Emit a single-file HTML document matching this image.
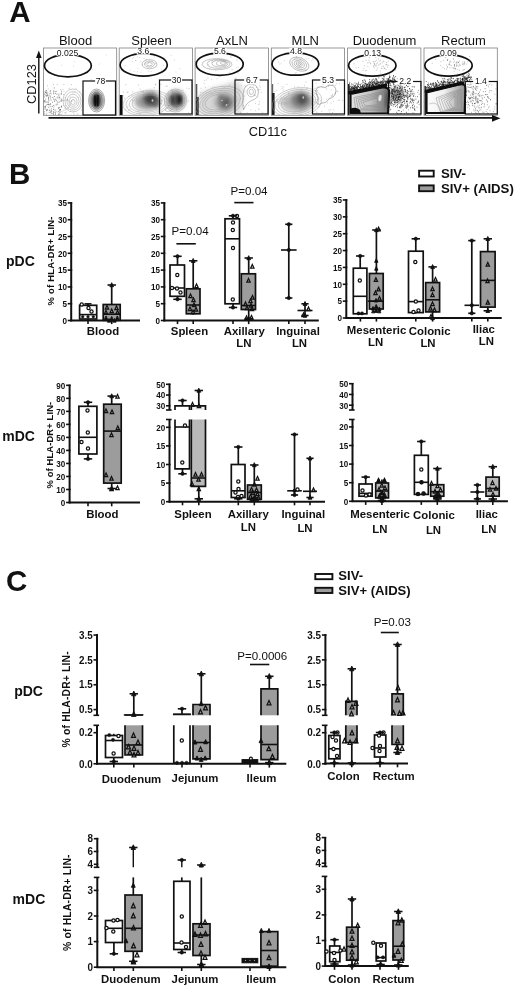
<!DOCTYPE html>
<html><head><meta charset="utf-8"><title>Figure</title>
<style>
html,body{margin:0;padding:0;background:#fff;}
body{width:520px;height:992px;overflow:hidden;font-family:"Liberation Sans",sans-serif;}
svg{display:block;font-family:"Liberation Sans",sans-serif;filter:blur(0.4px);}
</style></head><body>
<svg width="520" height="992" viewBox="0 0 520 992" font-family="Liberation Sans, sans-serif">
<rect width="520" height="992" fill="#fff"/>
<defs><filter id="b1" x="-30%" y="-30%" width="160%" height="160%"><feGaussianBlur stdDeviation="1.6"/></filter><filter id="b2" x="-30%" y="-30%" width="160%" height="160%"><feGaussianBlur stdDeviation="2.6"/></filter><filter id="b05" x="-30%" y="-30%" width="160%" height="160%"><feGaussianBlur stdDeviation="0.5"/></filter></defs>
<text x="9.3" y="21.9" font-size="29.5" font-weight="bold" text-anchor="start" fill="#111" >A</text>
<text x="75.5" y="44.5" font-size="13"  text-anchor="middle" fill="#111" >Blood</text>
<text x="151.5" y="44.5" font-size="13"  text-anchor="middle" fill="#111" >Spleen</text>
<text x="232" y="44.5" font-size="13"  text-anchor="middle" fill="#111" >AxLN</text>
<text x="305.3" y="44.5" font-size="13"  text-anchor="middle" fill="#111" >MLN</text>
<text x="384.5" y="44.5" font-size="13"  text-anchor="middle" fill="#111" >Duodenum</text>
<text x="463.5" y="44.5" font-size="13"  text-anchor="middle" fill="#111" >Rectum</text>
<clipPath id="cp0"><rect x="43.4" y="48" width="73.3" height="67.3"/></clipPath>
<clipPath id="cp1"><rect x="119.2" y="48" width="73.3" height="67.3"/></clipPath>
<clipPath id="cp2"><rect x="195.1" y="48" width="73.3" height="67.3"/></clipPath>
<clipPath id="cp3"><rect x="271.3" y="48" width="73.3" height="67.3"/></clipPath>
<clipPath id="cp4"><rect x="347.6" y="48" width="73.3" height="67.3"/></clipPath>
<clipPath id="cp5"><rect x="424" y="48" width="73.3" height="67.3"/></clipPath>
<g clip-path="url(#cp0)">
<path d="M49.8 93.8h0.01M55.7 91.8h0.01M53.6 99.1h0.01M45.0 102.7h0.01M44.7 100.8h0.01M45.3 92.3h0.01M51.6 110.7h0.01M46.2 95.6h0.01M55.3 113.7h0.01M54.4 99.9h0.01M61.6 91.2h0.01M59.5 97.2h0.01M46.6 92.9h0.01M49.6 110.4h0.01M47.3 104.5h0.01M55.5 99.3h0.01M53.9 91.6h0.01M45.1 95.1h0.01M56.2 100.7h0.01M49.7 104.6h0.01M52.2 97.5h0.01M58.3 107.5h0.01M48.4 104.4h0.01M53.5 111.9h0.01M57.1 97.2h0.01M61.6 93.0h0.01M51.5 108.9h0.01M46.7 102.2h0.01M44.7 106.7h0.01M57.8 104.3h0.01M59.8 97.8h0.01M56.5 104.9h0.01M54.4 101.4h0.01M59.1 113.6h0.01M52.5 106.6h0.01M45.1 107.5h0.01M55.6 114.8h0.01M58.8 97.1h0.01M50.9 106.7h0.01M44.4 101.5h0.01M47.0 92.9h0.01M45.1 109.2h0.01M46.3 96.2h0.01M51.0 111.8h0.01M45.5 101.2h0.01M53.9 112.1h0.01M58.7 111.6h0.01M49.0 100.4h0.01M50.5 112.1h0.01M61.2 93.8h0.01M47.2 95.8h0.01M48.2 102.1h0.01M54.6 96.6h0.01M44.1 100.5h0.01M50.6 104.2h0.01M61.2 107.3h0.01M53.3 105.4h0.01M56.2 91.3h0.01M60.2 109.5h0.01M59.7 109.9h0.01M51.1 100.0h0.01M45.9 105.9h0.01M45.1 91.7h0.01M47.8 94.1h0.01M50.1 91.3h0.01M44.0 93.8h0.01M45.8 99.1h0.01M44.5 111.9h0.01M55.1 93.7h0.01M48.5 98.7h0.01M50.6 93.1h0.01M59.3 114.8h0.01M52.4 102.1h0.01M45.5 92.6h0.01M50.2 96.6h0.01M58.9 94.0h0.01M44.4 113.8h0.01M53.5 93.7h0.01M53.8 90.7h0.01M53.5 114.5h0.01M59.5 107.4h0.01M48.7 99.2h0.01M47.0 109.3h0.01M53.6 109.5h0.01M49.9 95.6h0.01M58.6 114.6h0.01M59.3 110.2h0.01M58.7 108.5h0.01M48.1 102.9h0.01M50.4 90.7h0.01M44.5 97.0h0.01M48.7 107.3h0.01M61.2 101.2h0.01M60.9 114.7h0.01M61.2 99.1h0.01M48.0 95.7h0.01M47.5 95.1h0.01M55.2 112.5h0.01M59.1 102.0h0.01M55.8 110.0h0.01M45.5 106.5h0.01M60.4 109.6h0.01M57.5 102.0h0.01M47.2 109.7h0.01M50.0 110.0h0.01M61.5 99.9h0.01M51.2 113.7h0.01M57.0 94.3h0.01M46.3 93.8h0.01M60.3 110.2h0.01M46.6 110.7h0.01M61.6 106.4h0.01M50.3 103.7h0.01M46.4 90.4h0.01M61.5 106.2h0.01M53.5 113.3h0.01M51.8 111.8h0.01M58.9 95.3h0.01M48.5 97.3h0.01M48.3 104.7h0.01" stroke="#444" stroke-width="0.8" stroke-linecap="round" opacity="0.8" fill="none"/>
<path d="M53.9 97.0h0.01M49.0 112.2h0.01M57.4 98.2h0.01M66.2 112.0h0.01M60.0 112.4h0.01M63.1 100.5h0.01M63.9 84.6h0.01M60.7 89.7h0.01M44.1 108.8h0.01M50.5 98.7h0.01M71.6 101.3h0.01M56.4 100.1h0.01M65.1 108.3h0.01M48.0 101.4h0.01M53.4 92.6h0.01M73.3 99.7h0.01M65.3 107.6h0.01M78.7 97.7h0.01M67.3 99.7h0.01M63.5 105.5h0.01M61.2 100.5h0.01M62.2 113.2h0.01M70.6 111.2h0.01M79.8 92.0h0.01M65.3 113.2h0.01M75.9 88.3h0.01M48.6 97.7h0.01M46.8 91.5h0.01M46.8 104.8h0.01M73.8 111.8h0.01M49.9 106.2h0.01M69.1 88.4h0.01M77.5 114.0h0.01M52.3 113.5h0.01M59.1 99.1h0.01M81.6 109.8h0.01M50.1 97.4h0.01M63.6 94.5h0.01M51.4 93.9h0.01M71.4 84.6h0.01M65.1 97.7h0.01M44.7 94.3h0.01M67.7 99.9h0.01M46.4 114.5h0.01M74.0 114.1h0.01M48.0 92.2h0.01M45.5 108.1h0.01M54.3 88.0h0.01M60.0 112.3h0.01M75.1 92.0h0.01M49.7 112.5h0.01M65.7 105.7h0.01M47.4 85.8h0.01M70.2 97.2h0.01M46.8 113.1h0.01M68.1 108.9h0.01M47.2 110.5h0.01M46.5 110.7h0.01M61.2 94.5h0.01M65.0 112.7h0.01M54.2 88.0h0.01M64.0 91.4h0.01M48.2 89.0h0.01M45.9 90.3h0.01M55.9 93.5h0.01M72.9 93.0h0.01M63.0 89.5h0.01M57.2 84.6h0.01M53.5 84.5h0.01M71.9 101.1h0.01" stroke="#555" stroke-width="0.7" stroke-linecap="round" opacity="0.6" fill="none"/>
<path d="M61.4 65.3h0.01M106.1 55.0h0.01M99.1 64.1h0.01M79.7 75.4h0.01M73.6 66.2h0.01M91.3 79.5h0.01M70.6 75.3h0.01M92.4 69.8h0.01M74.3 61.7h0.01M53.3 55.6h0.01" stroke="#666" stroke-width="0.6" stroke-linecap="round" opacity="0.5" fill="none"/>
<ellipse cx="73" cy="100.5" rx="10" ry="11.5" fill="none" stroke="#9a9a9a" stroke-width="0.5" opacity="1" transform="rotate(0 73 100.5)"/>
<ellipse cx="73" cy="100.9" rx="8" ry="9.3" fill="none" stroke="#9a9a9a" stroke-width="0.5" opacity="1" transform="rotate(0 73 100.9)"/>
<ellipse cx="73" cy="101.3" rx="6" ry="7" fill="none" stroke="#9a9a9a" stroke-width="0.5" opacity="1" transform="rotate(0 73 101.3)"/>
<ellipse cx="73" cy="101.7" rx="4" ry="4.7" fill="none" stroke="#9a9a9a" stroke-width="0.5" opacity="1" transform="rotate(0 73 101.7)"/>
<ellipse cx="73" cy="102.1" rx="2.2" ry="2.4" fill="none" stroke="#9a9a9a" stroke-width="0.5" opacity="1" transform="rotate(0 73 102.1)"/>
<ellipse cx="62" cy="106" rx="9" ry="5" fill="none" stroke="#aaa" stroke-width="0.4" opacity="1" transform="rotate(-25 62 106)"/>
<ellipse cx="96.6" cy="100.5" rx="5.5" ry="8.5" fill="#555" opacity="0.95" filter="url(#b1)" transform="rotate(0 96.6 100.5)"/>
<ellipse cx="96.4" cy="100.5" rx="2.6" ry="6.5" fill="#111" opacity="0.95" filter="url(#b1)" transform="rotate(0 96.4 100.5)"/>
<ellipse cx="96.6" cy="100.5" rx="8" ry="11.5" fill="none" stroke="#555" stroke-width="0.5" opacity="1" transform="rotate(0 96.6 100.5)"/>
<ellipse cx="96.6" cy="100.5" rx="6.8" ry="10" fill="none" stroke="#555" stroke-width="0.5" opacity="1" transform="rotate(0 96.6 100.5)"/>
<ellipse cx="96.6" cy="100.5" rx="5.6" ry="8.6" fill="none" stroke="#555" stroke-width="0.5" opacity="1" transform="rotate(0 96.6 100.5)"/>
<path d="M94.8 95.5 L95.2 106 M98 95 L97.8 106" stroke="#000" stroke-width="1.3" opacity="0.8" filter="url(#b05)"/>
</g>
<g clip-path="url(#cp1)">
<rect x="119.6" y="95" width="3" height="20" fill="#111" filter="url(#b05)"/>
<path d="M127.7 107.0h0.01M140.1 89.1h0.01M128.7 110.1h0.01M181.3 104.8h0.01M141.9 91.5h0.01M142.6 98.2h0.01M133.6 97.8h0.01M140.6 113.8h0.01M188.2 101.0h0.01M139.4 113.9h0.01M143.7 95.1h0.01M123.1 95.8h0.01M154.8 99.6h0.01M136.5 99.6h0.01M123.3 92.2h0.01M129.0 96.4h0.01M125.8 84.7h0.01M143.4 91.2h0.01M162.2 100.4h0.01M173.3 104.4h0.01M171.0 111.3h0.01M149.1 94.1h0.01M189.0 88.6h0.01M171.5 103.9h0.01M125.9 109.9h0.01M182.8 103.4h0.01M172.2 109.2h0.01M132.3 100.2h0.01M156.8 109.9h0.01M176.9 109.6h0.01M162.1 111.7h0.01M168.8 105.5h0.01M138.4 85.0h0.01M131.9 95.2h0.01M130.0 109.9h0.01M160.4 103.5h0.01M165.0 105.1h0.01M155.8 84.1h0.01M176.4 107.2h0.01M156.7 100.6h0.01M167.2 86.0h0.01M172.4 91.8h0.01M128.0 92.2h0.01M171.9 90.4h0.01M172.6 114.2h0.01M156.1 95.9h0.01M155.1 105.2h0.01M174.4 103.1h0.01M166.1 86.4h0.01M132.9 91.9h0.01M172.8 93.4h0.01M161.0 84.4h0.01M127.1 92.3h0.01M168.0 105.5h0.01M168.3 93.0h0.01M157.6 98.4h0.01M154.2 87.7h0.01M182.9 90.2h0.01M188.5 113.0h0.01M124.2 98.2h0.01M177.9 114.0h0.01M153.1 92.3h0.01M137.1 113.3h0.01M137.1 102.0h0.01M132.5 100.2h0.01M186.8 88.1h0.01M178.0 99.8h0.01M182.4 105.8h0.01M138.5 111.8h0.01M155.6 84.8h0.01" stroke="#555" stroke-width="0.7" stroke-linecap="round" opacity="0.6" fill="none"/>
<path d="M125.2 65.8h0.01M149.8 60.5h0.01M132.7 61.6h0.01M142.4 75.5h0.01M125.1 73.0h0.01M171.2 55.4h0.01M176.0 72.0h0.01M174.6 60.1h0.01M145.5 63.0h0.01M179.9 68.5h0.01M144.8 64.0h0.01M140.1 53.4h0.01" stroke="#666" stroke-width="0.6" stroke-linecap="round" opacity="0.5" fill="none"/>
<ellipse cx="146.5" cy="102" rx="12" ry="8" fill="#858585" opacity="0.8" filter="url(#b2)" transform="rotate(0 146.5 102)"/>
<ellipse cx="151" cy="99" rx="7.5" ry="6.5" fill="#333" opacity="0.9" filter="url(#b2)" transform="rotate(0 151 99)"/>
<ellipse cx="156" cy="103" rx="4" ry="5" fill="#555" opacity="0.6" filter="url(#b1)" transform="rotate(0 156 103)"/>
<ellipse cx="152.5" cy="100.5" rx="0.9" ry="1.3" fill="#ddd" opacity="0.8" filter="url(#b05)" transform="rotate(0 152.5 100.5)"/>
<ellipse cx="176" cy="100" rx="8.5" ry="9" fill="#555" opacity="0.95" filter="url(#b2)" transform="rotate(0 176 100)"/>
<ellipse cx="172.5" cy="100" rx="2.6" ry="4" fill="#333" opacity="0.7" filter="url(#b1)" transform="rotate(0 172.5 100)"/>
<ellipse cx="179.3" cy="99.3" rx="2.2" ry="4.6" fill="#0a0a0a" opacity="0.9" filter="url(#b1)" transform="rotate(0 179.3 99.3)"/>
<ellipse cx="147" cy="103" rx="24" ry="12.5" fill="none" stroke="#a0a0a0" stroke-width="0.45" opacity="1" transform="rotate(-6 147 103)"/>
<ellipse cx="147" cy="103" rx="21" ry="11" fill="none" stroke="#a0a0a0" stroke-width="0.45" opacity="1" transform="rotate(-6 147 103)"/>
<ellipse cx="147" cy="103" rx="18" ry="9.5" fill="none" stroke="#a0a0a0" stroke-width="0.45" opacity="1" transform="rotate(-6 147 103)"/>
<ellipse cx="147" cy="103" rx="15" ry="8" fill="none" stroke="#a0a0a0" stroke-width="0.45" opacity="1" transform="rotate(-6 147 103)"/>
<ellipse cx="175.5" cy="100.5" rx="11" ry="11.5" fill="none" stroke="#909090" stroke-width="0.45" opacity="1" transform="rotate(0 175.5 100.5)"/>
<ellipse cx="175.5" cy="100.5" rx="9.3" ry="9.8" fill="none" stroke="#909090" stroke-width="0.45" opacity="1" transform="rotate(0 175.5 100.5)"/>
<ellipse cx="168" cy="109.5" rx="3" ry="2" fill="none" stroke="#999" stroke-width="0.45" opacity="1" transform="rotate(0 168 109.5)"/>
<ellipse cx="149.5" cy="64.2" rx="7.5" ry="4.6" fill="none" stroke="#8a8a8a" stroke-width="0.5" opacity="1" transform="rotate(0 149.5 64.2)"/>
<ellipse cx="149.5" cy="64.2" rx="5" ry="3" fill="none" stroke="#8a8a8a" stroke-width="0.5" opacity="1" transform="rotate(0 149.5 64.2)"/>
<ellipse cx="149.5" cy="64.2" rx="2.8" ry="1.7" fill="none" stroke="#8a8a8a" stroke-width="0.5" opacity="1" transform="rotate(0 149.5 64.2)"/>
<path d="M130.1 70.2h0.01M137.4 71.9h0.01M136.0 60.5h0.01M146.4 59.2h0.01M140.9 72.3h0.01M161.4 69.8h0.01M151.2 71.5h0.01M163.6 65.3h0.01M154.8 56.8h0.01M155.3 63.7h0.01M156.1 67.0h0.01M137.4 56.8h0.01M163.1 58.2h0.01M144.9 61.8h0.01M137.9 68.6h0.01M165.1 60.4h0.01M152.2 61.1h0.01M148.3 62.7h0.01M132.7 58.7h0.01M134.3 71.4h0.01M145.9 59.7h0.01M162.3 72.9h0.01M144.0 58.4h0.01M133.7 57.5h0.01M139.7 57.5h0.01M135.6 60.4h0.01M148.8 71.1h0.01M156.0 63.0h0.01M142.6 64.9h0.01M141.1 61.7h0.01" stroke="#777" stroke-width="0.6" stroke-linecap="round" opacity="0.6" fill="none"/>
</g>
<g clip-path="url(#cp2)">
<rect x="195.7" y="84" width="1.6" height="31" fill="#555" filter="url(#b05)"/>
<rect x="195.9" y="97" width="3" height="18" fill="#222" filter="url(#b05)"/>
<path d="M201.0 88.3h0.01M259.9 82.7h0.01M229.7 101.3h0.01M253.1 86.0h0.01M214.6 87.2h0.01M223.0 94.5h0.01M259.0 109.4h0.01M253.7 78.8h0.01M199.1 104.3h0.01M255.2 95.5h0.01M235.2 78.0h0.01M222.4 112.3h0.01M250.7 109.7h0.01M260.2 87.2h0.01M204.1 83.7h0.01M231.0 103.2h0.01M258.2 104.7h0.01M239.1 106.3h0.01M226.7 98.4h0.01M199.6 106.9h0.01M212.1 112.0h0.01M239.0 89.2h0.01M205.3 87.3h0.01M238.4 103.8h0.01M204.3 80.6h0.01M231.1 99.6h0.01M222.2 86.3h0.01M236.1 78.4h0.01M216.6 95.0h0.01M259.3 101.8h0.01M254.4 95.6h0.01M212.3 87.1h0.01M259.4 104.1h0.01M217.0 78.8h0.01M229.4 103.0h0.01M224.3 87.5h0.01M240.4 112.2h0.01M211.7 79.3h0.01M219.0 93.6h0.01M241.4 85.3h0.01M248.8 105.3h0.01M229.8 85.6h0.01M260.0 89.5h0.01M250.3 86.5h0.01M211.4 106.1h0.01M216.2 113.2h0.01M229.2 84.9h0.01M211.5 93.4h0.01M240.2 113.1h0.01M206.5 92.6h0.01M210.8 114.0h0.01M206.2 79.9h0.01M200.9 92.6h0.01M255.4 110.7h0.01M244.6 114.9h0.01M257.6 90.2h0.01M209.1 112.6h0.01M245.5 79.2h0.01M240.2 92.0h0.01M221.3 90.3h0.01M208.0 78.1h0.01M215.2 91.0h0.01M259.1 82.6h0.01M259.7 85.7h0.01M220.2 108.4h0.01M250.4 94.0h0.01M200.2 95.5h0.01M221.2 112.0h0.01M209.5 91.5h0.01M255.3 79.1h0.01" stroke="#666" stroke-width="0.7" stroke-linecap="round" opacity="0.55" fill="none"/>
<path d="M199 93 L236 81 Q244 84 243 100 L240 114.5 L199 114.5 Z" fill="#bdbdbd" opacity="0.6" filter="url(#b2)"/>
<ellipse cx="224.5" cy="102" rx="9.5" ry="8.5" fill="#858585" opacity="0.8" filter="url(#b2)" transform="rotate(0 224.5 102)"/>
<ellipse cx="226" cy="103" rx="5.5" ry="6" fill="#505050" opacity="0.8" filter="url(#b2)" transform="rotate(0 226 103)"/>
<ellipse cx="221" cy="97" rx="2.5" ry="2.5" fill="#666" opacity="0.6" filter="url(#b1)" transform="rotate(0 221 97)"/>
<ellipse cx="226.5" cy="105" rx="0.9" ry="0.9" fill="#ddd" opacity="0.8" filter="url(#b05)" transform="rotate(0 226.5 105)"/>
<ellipse cx="222" cy="100.5" rx="0.8" ry="0.8" fill="#ddd" opacity="0.7" filter="url(#b05)" transform="rotate(0 222 100.5)"/>
<ellipse cx="219.0" cy="102" rx="25" ry="15" fill="none" stroke="#9a9a9a" stroke-width="0.45" opacity="1" transform="rotate(-14 219.0 102)"/>
<ellipse cx="218.7" cy="102" rx="22" ry="13" fill="none" stroke="#9a9a9a" stroke-width="0.45" opacity="1" transform="rotate(-14 218.7 102)"/>
<ellipse cx="218.4" cy="102" rx="19" ry="11.2" fill="none" stroke="#9a9a9a" stroke-width="0.45" opacity="1" transform="rotate(-14 218.4 102)"/>
<ellipse cx="218.1" cy="102" rx="16" ry="9.4" fill="none" stroke="#9a9a9a" stroke-width="0.45" opacity="1" transform="rotate(-14 218.1 102)"/>
<ellipse cx="217.8" cy="102" rx="13" ry="7.6" fill="none" stroke="#9a9a9a" stroke-width="0.45" opacity="1" transform="rotate(-14 217.8 102)"/>
<ellipse cx="217.0" cy="64.2" rx="15" ry="5.6" fill="none" stroke="#8a8a8a" stroke-width="0.5" opacity="1" transform="rotate(0 217.0 64.2)"/>
<ellipse cx="218.5" cy="63.900000000000006" rx="11.5" ry="4.5" fill="none" stroke="#8a8a8a" stroke-width="0.5" opacity="1" transform="rotate(0 218.5 63.900000000000006)"/>
<ellipse cx="220.0" cy="63.6" rx="8" ry="3.4" fill="none" stroke="#8a8a8a" stroke-width="0.5" opacity="1" transform="rotate(0 220.0 63.6)"/>
<ellipse cx="221.5" cy="63.300000000000004" rx="5" ry="2.4" fill="none" stroke="#8a8a8a" stroke-width="0.5" opacity="1" transform="rotate(0 221.5 63.300000000000004)"/>
<ellipse cx="223.0" cy="63.0" rx="2.6" ry="1.4" fill="none" stroke="#8a8a8a" stroke-width="0.5" opacity="1" transform="rotate(0 223.0 63.0)"/>
<path d="M215.8 70.6h0.01M230.4 56.7h0.01M200.4 57.1h0.01M236.7 60.6h0.01M229.6 72.2h0.01M212.9 60.9h0.01M238.3 67.1h0.01M209.7 68.9h0.01M212.0 61.0h0.01M199.2 69.6h0.01M236.6 67.4h0.01M237.7 56.4h0.01M208.6 64.6h0.01M238.2 73.2h0.01M214.8 60.5h0.01M216.6 64.9h0.01M237.1 59.3h0.01M231.9 69.3h0.01M232.7 69.9h0.01M223.9 61.9h0.01M212.1 62.5h0.01M231.1 57.4h0.01" stroke="#777" stroke-width="0.6" stroke-linecap="round" opacity="0.6" fill="none"/>
<path d="M243.5 91 Q245 84.5 251 84 Q258 84.5 258.5 92 Q258 99 251.5 100.5 Q246 103 243.5 110 Q242 104 243.5 91Z" stroke="#808080" stroke-width="0.5" fill="none"/>
<ellipse cx="251.3" cy="92" rx="4.2" ry="4.8" fill="none" stroke="#8a8a8a" stroke-width="0.5" opacity="1" transform="rotate(0 251.3 92)"/>
<ellipse cx="251.3" cy="91.8" rx="2.2" ry="2.6" fill="none" stroke="#999" stroke-width="0.5" opacity="1" transform="rotate(0 251.3 91.8)"/>
<path d="M243.5 105.8h0.01M244.9 85.9h0.01M238.9 100.0h0.01M247.1 112.4h0.01M262.7 112.6h0.01M245.4 86.4h0.01M240.7 98.5h0.01M257.9 97.0h0.01M244.6 96.1h0.01M255.4 103.5h0.01M258.9 108.6h0.01M256.6 87.5h0.01M261.5 92.5h0.01M253.9 94.8h0.01M258.7 89.8h0.01M244.9 91.1h0.01" stroke="#666" stroke-width="0.6" stroke-linecap="round" opacity="0.6" fill="none"/>
</g>
<g clip-path="url(#cp3)">
<rect x="271.6" y="84" width="1.6" height="31" fill="#666" filter="url(#b05)"/>
<rect x="271.8" y="93" width="2.8" height="22" fill="#1c1c1c" filter="url(#b05)"/>
<path d="M284.1 110.9h0.01M312.2 91.4h0.01M300.1 114.7h0.01M307.5 88.1h0.01M327.4 102.9h0.01M339.4 83.6h0.01M305.3 108.7h0.01M329.5 112.0h0.01M276.7 90.3h0.01M281.9 86.6h0.01M338.2 100.4h0.01M335.4 93.0h0.01M331.2 95.7h0.01M291.2 107.2h0.01M336.4 83.7h0.01M313.3 101.7h0.01M288.4 92.9h0.01M283.3 87.1h0.01M290.8 101.0h0.01M317.0 87.1h0.01M274.8 91.5h0.01M318.8 86.5h0.01M294.6 87.1h0.01M326.5 99.2h0.01M278.2 83.5h0.01M300.1 99.3h0.01M316.2 83.2h0.01M284.8 104.3h0.01M301.0 89.9h0.01M294.3 113.4h0.01M294.6 99.8h0.01M297.6 94.6h0.01M331.0 114.9h0.01M298.0 86.9h0.01M322.1 87.1h0.01M274.4 111.6h0.01M302.0 108.7h0.01M300.8 110.9h0.01M304.4 85.7h0.01M275.0 99.3h0.01M316.3 111.8h0.01M279.9 101.8h0.01M298.5 97.7h0.01M283.6 89.9h0.01M308.4 112.4h0.01M281.2 97.2h0.01M327.1 113.8h0.01M287.0 84.4h0.01M336.2 114.1h0.01M305.9 81.9h0.01M335.1 93.6h0.01M333.7 101.7h0.01M328.4 85.6h0.01M325.9 87.8h0.01M300.7 109.6h0.01M328.7 86.4h0.01M288.4 94.0h0.01M308.2 93.4h0.01M282.1 88.6h0.01M321.8 111.4h0.01M276.7 99.7h0.01M324.0 81.3h0.01M329.3 84.1h0.01M313.6 99.3h0.01M315.4 90.7h0.01M301.7 100.4h0.01M302.1 103.1h0.01M303.5 95.3h0.01M275.5 101.7h0.01M306.3 88.2h0.01" stroke="#666" stroke-width="0.7" stroke-linecap="round" opacity="0.55" fill="none"/>
<ellipse cx="297" cy="103" rx="16" ry="9.5" fill="#a8a8a8" opacity="0.8" filter="url(#b2)" transform="rotate(0 297 103)"/>
<ellipse cx="301" cy="100" rx="10" ry="8.5" fill="#6c6c6c" opacity="0.85" filter="url(#b2)" transform="rotate(0 301 100)"/>
<ellipse cx="302" cy="99" rx="4.5" ry="5" fill="#484848" opacity="0.8" filter="url(#b1)" transform="rotate(0 302 99)"/>
<ellipse cx="303.3" cy="97.5" rx="0.9" ry="1.2" fill="#ddd" opacity="0.8" filter="url(#b05)" transform="rotate(0 303.3 97.5)"/>
<ellipse cx="297" cy="102.5" rx="25" ry="14.5" fill="none" stroke="#9c9c9c" stroke-width="0.45" opacity="1" transform="rotate(-10 297 102.5)"/>
<ellipse cx="297" cy="102.5" rx="22" ry="12.8" fill="none" stroke="#9c9c9c" stroke-width="0.45" opacity="1" transform="rotate(-10 297 102.5)"/>
<ellipse cx="297" cy="102.5" rx="19" ry="11" fill="none" stroke="#9c9c9c" stroke-width="0.45" opacity="1" transform="rotate(-10 297 102.5)"/>
<ellipse cx="297" cy="102.5" rx="16" ry="9.2" fill="none" stroke="#9c9c9c" stroke-width="0.45" opacity="1" transform="rotate(-10 297 102.5)"/>
<ellipse cx="284" cy="101" rx="7" ry="3" fill="none" stroke="#aaa" stroke-width="0.45" opacity="1" transform="rotate(-5 284 101)"/>
<ellipse cx="284" cy="101" rx="4" ry="1.6" fill="none" stroke="#aaa" stroke-width="0.45" opacity="1" transform="rotate(-5 284 101)"/>
<ellipse cx="299.3" cy="64.2" rx="10" ry="6.4" fill="none" stroke="#888" stroke-width="0.5" opacity="1" transform="rotate(22 299.3 64.2)"/>
<ellipse cx="299.3" cy="64.2" rx="7.6" ry="4.9" fill="none" stroke="#888" stroke-width="0.5" opacity="1" transform="rotate(22 299.3 64.2)"/>
<ellipse cx="299.3" cy="64.2" rx="5.3" ry="3.4" fill="none" stroke="#888" stroke-width="0.5" opacity="1" transform="rotate(22 299.3 64.2)"/>
<ellipse cx="299.3" cy="64.2" rx="3.2" ry="2" fill="none" stroke="#888" stroke-width="0.5" opacity="1" transform="rotate(22 299.3 64.2)"/>
<ellipse cx="299.3" cy="64.2" rx="1.4" ry="0.9" fill="none" stroke="#888" stroke-width="0.5" opacity="1" transform="rotate(22 299.3 64.2)"/>
<path d="M306.5 70.0h0.01M294.3 59.2h0.01M294.9 57.9h0.01M281.1 63.8h0.01M279.7 64.0h0.01M296.4 56.7h0.01M301.5 57.5h0.01M305.3 70.0h0.01M296.5 57.0h0.01M296.2 62.8h0.01M314.0 58.5h0.01M310.3 73.9h0.01M305.3 70.7h0.01M283.7 73.7h0.01M295.7 73.2h0.01M312.6 59.0h0.01M307.5 72.8h0.01M278.6 62.3h0.01M306.2 58.9h0.01M311.9 60.9h0.01M308.6 58.6h0.01M296.1 72.6h0.01M284.3 60.7h0.01M296.2 61.7h0.01M277.5 59.3h0.01M282.4 72.9h0.01" stroke="#777" stroke-width="0.6" stroke-linecap="round" opacity="0.6" fill="none"/>
<path d="M317 88 Q321 85.5 325 87.5 Q328 84 333 85.5 Q337 88 335.5 93 Q334 98 329 98.5 Q327 103 322 103 Q319 106 316.5 103 Q319.5 98 317 95 Q314.5 91 317 88Z" stroke="#777" stroke-width="0.55" fill="none"/>
<path d="M333.7 110.0h0.01M318.9 106.8h0.01M317.3 99.4h0.01M332.5 94.4h0.01M339.3 100.1h0.01M330.8 109.6h0.01M317.0 112.8h0.01M332.3 95.4h0.01M337.1 91.7h0.01M342.7 100.7h0.01M324.4 106.2h0.01M326.8 89.1h0.01M335.6 85.4h0.01M337.8 91.4h0.01M332.5 112.5h0.01M331.0 103.2h0.01M323.1 84.1h0.01M315.0 88.3h0.01M331.9 96.5h0.01M328.9 110.0h0.01M317.8 90.6h0.01M332.9 84.6h0.01M314.1 94.3h0.01M317.1 94.4h0.01M320.5 100.9h0.01M331.1 89.9h0.01" stroke="#555" stroke-width="0.6" stroke-linecap="round" opacity="0.65" fill="none"/>
</g>
<g clip-path="url(#cp4)">
<linearGradient id="gd" x1="0" x2="1" y1="0" y2="0"><stop offset="0" stop-color="#e6e6e6"/><stop offset="0.5" stop-color="#c4c4c4"/><stop offset="0.82" stop-color="#8e8e8e"/><stop offset="1" stop-color="#6a6a6a"/></linearGradient>
<ellipse cx="396.5" cy="94.5" rx="6.5" ry="6.5" fill="#222" opacity="0.55" filter="url(#b2)" transform="rotate(0 396.5 94.5)"/>
<path d="M391.5 89.9h0.01M410.4 107.8h0.01M398.2 99.5h0.01M407.4 101.2h0.01M407.6 86.7h0.01M392.9 98.7h0.01M409.5 96.2h0.01M391.1 93.0h0.01M392.7 89.5h0.01M410.0 91.1h0.01M398.2 110.6h0.01M407.5 97.9h0.01M393.1 98.4h0.01M411.0 99.9h0.01M408.1 96.2h0.01M402.1 94.1h0.01M401.4 104.6h0.01M399.9 91.5h0.01M395.5 101.0h0.01M414.0 99.9h0.01M400.6 84.6h0.01M413.4 96.0h0.01M397.7 87.7h0.01M397.5 87.8h0.01M398.6 98.8h0.01M398.2 97.5h0.01M391.2 105.5h0.01M392.8 82.8h0.01M396.5 90.2h0.01M389.9 93.0h0.01M400.3 87.2h0.01M396.9 105.5h0.01M403.5 94.4h0.01M399.0 94.7h0.01M397.6 100.6h0.01M397.3 78.7h0.01M397.8 89.3h0.01M403.2 91.2h0.01M399.2 110.7h0.01M389.6 87.6h0.01M392.9 82.4h0.01M391.8 92.9h0.01M400.6 105.0h0.01M413.5 102.7h0.01M399.1 96.8h0.01M412.4 105.5h0.01M395.5 98.7h0.01M400.3 95.9h0.01M394.0 86.2h0.01M393.7 84.7h0.01M407.8 99.3h0.01M388.4 105.3h0.01M405.1 82.1h0.01M412.7 101.2h0.01M414.5 86.9h0.01M402.2 98.5h0.01M399.6 96.7h0.01M406.4 85.0h0.01M388.1 85.7h0.01M393.5 91.3h0.01M400.9 97.4h0.01M398.3 90.8h0.01M394.5 102.2h0.01M404.1 96.2h0.01M395.4 106.4h0.01M393.2 100.0h0.01M407.2 93.6h0.01M404.6 87.7h0.01M406.1 96.9h0.01M390.9 104.5h0.01M392.6 94.3h0.01M400.3 93.2h0.01M400.1 91.6h0.01M403.4 95.5h0.01M407.3 95.7h0.01M401.7 103.0h0.01M389.3 106.3h0.01M396.7 112.3h0.01M396.8 100.3h0.01M395.1 87.7h0.01M406.8 101.8h0.01M410.3 101.5h0.01M393.4 83.9h0.01M392.8 90.8h0.01M391.5 99.6h0.01M400.6 93.6h0.01M399.4 94.5h0.01M399.7 100.8h0.01M405.7 90.7h0.01M398.9 103.2h0.01M398.2 85.4h0.01M393.9 100.6h0.01M406.6 106.7h0.01M391.1 85.7h0.01M402.2 102.1h0.01M399.5 86.4h0.01M404.3 101.0h0.01M402.4 92.1h0.01M400.4 101.0h0.01M393.5 82.6h0.01M400.6 98.9h0.01M398.1 101.7h0.01M393.3 94.9h0.01M395.6 99.5h0.01M410.8 93.7h0.01M414.4 106.2h0.01M404.3 99.6h0.01M412.2 94.2h0.01M397.1 88.1h0.01M401.8 104.9h0.01M402.3 98.5h0.01M396.4 96.7h0.01M394.7 87.8h0.01M392.0 89.7h0.01M404.8 102.9h0.01M405.1 91.4h0.01M392.9 97.9h0.01M395.1 81.3h0.01M399.9 84.8h0.01M405.2 87.1h0.01M392.5 89.5h0.01M393.7 104.6h0.01M404.8 99.7h0.01M400.6 84.7h0.01M393.8 91.6h0.01M390.2 99.1h0.01M392.1 90.5h0.01M389.6 81.1h0.01M402.8 104.8h0.01M399.4 88.7h0.01M407.7 97.6h0.01M405.4 105.8h0.01M407.0 92.4h0.01M406.4 100.9h0.01M402.6 88.0h0.01M401.0 105.8h0.01M414.6 109.5h0.01M396.3 97.4h0.01M396.8 102.5h0.01M406.3 96.1h0.01M394.2 99.9h0.01M400.1 106.9h0.01M407.1 92.3h0.01M400.8 107.8h0.01M393.7 98.5h0.01M407.5 104.3h0.01M402.1 86.3h0.01M401.1 113.3h0.01M391.1 103.5h0.01M404.2 83.8h0.01M391.5 96.7h0.01M394.1 94.4h0.01M401.8 89.8h0.01M401.7 91.0h0.01M393.6 99.3h0.01M393.4 97.5h0.01M410.8 95.7h0.01M396.8 100.6h0.01M395.1 103.1h0.01M393.9 89.9h0.01M412.2 89.5h0.01M412.1 100.1h0.01M409.6 88.7h0.01M407.6 105.7h0.01M397.1 94.6h0.01M417.6 96.7h0.01M394.6 91.1h0.01M401.6 97.8h0.01M399.4 107.6h0.01M395.4 98.8h0.01M409.7 88.5h0.01M406.3 108.3h0.01M389.7 82.6h0.01M401.6 82.5h0.01M402.0 105.7h0.01M392.1 93.6h0.01M398.4 99.3h0.01M395.2 95.6h0.01M393.6 96.3h0.01M388.6 95.9h0.01M413.3 96.1h0.01M390.2 83.9h0.01M392.1 100.7h0.01M401.1 94.8h0.01M390.6 87.9h0.01M408.8 97.2h0.01M390.4 80.7h0.01M388.8 95.0h0.01M399.7 94.4h0.01M395.8 85.9h0.01M389.6 107.3h0.01M391.9 101.4h0.01M400.1 102.8h0.01M389.0 99.7h0.01M401.1 90.3h0.01M401.8 89.2h0.01M391.6 95.4h0.01M390.0 85.3h0.01M394.6 100.8h0.01M394.8 104.4h0.01M388.7 86.3h0.01M410.4 98.3h0.01M405.6 89.7h0.01M404.4 97.3h0.01M403.2 95.7h0.01M407.7 91.0h0.01M390.3 85.2h0.01M407.3 90.3h0.01M389.7 88.9h0.01M394.4 86.6h0.01M395.7 91.1h0.01M393.6 88.8h0.01M398.3 92.3h0.01M398.9 97.2h0.01M400.7 80.2h0.01M393.7 89.9h0.01M404.2 84.5h0.01M392.3 93.4h0.01M395.3 102.4h0.01M394.5 102.3h0.01M407.8 98.5h0.01M401.9 96.4h0.01M401.9 87.0h0.01M405.6 91.8h0.01M405.9 96.1h0.01M407.0 94.5h0.01M394.8 97.2h0.01M394.6 91.7h0.01M398.8 96.5h0.01M410.1 95.8h0.01M413.0 108.1h0.01M411.7 102.9h0.01M399.0 96.5h0.01M396.9 90.4h0.01M397.5 91.0h0.01M411.1 99.2h0.01M394.4 82.1h0.01M397.6 92.6h0.01M389.3 87.5h0.01M397.5 113.6h0.01M397.8 94.5h0.01M409.6 96.4h0.01M399.3 92.9h0.01M393.2 106.0h0.01M406.0 107.5h0.01M395.2 95.7h0.01M391.0 102.3h0.01M406.8 105.4h0.01M390.5 103.1h0.01M392.3 90.2h0.01M411.2 91.3h0.01M391.9 93.1h0.01M418.1 102.5h0.01M393.7 82.9h0.01M392.6 103.8h0.01M412.9 93.6h0.01M392.5 91.9h0.01M389.3 102.9h0.01M400.3 90.2h0.01M404.3 95.6h0.01M388.6 99.9h0.01M404.7 82.1h0.01M412.6 99.0h0.01M404.1 82.5h0.01M392.2 93.1h0.01M406.6 85.3h0.01M390.9 81.3h0.01M396.1 97.9h0.01M402.1 106.6h0.01M403.3 93.4h0.01M388.6 88.9h0.01M392.7 96.5h0.01M397.6 107.2h0.01M400.3 88.0h0.01M410.4 102.1h0.01M398.8 90.5h0.01M405.3 89.9h0.01M400.0 99.7h0.01M403.2 105.4h0.01M391.3 102.4h0.01M390.1 100.4h0.01M399.4 97.2h0.01M405.7 95.4h0.01M406.9 101.6h0.01M399.1 91.5h0.01M392.0 91.8h0.01M396.4 95.3h0.01M404.2 89.5h0.01M392.3 93.3h0.01M399.5 88.2h0.01M410.9 91.6h0.01M406.6 79.1h0.01M397.9 97.4h0.01M399.5 99.7h0.01M400.2 96.6h0.01M400.5 94.1h0.01M391.4 91.4h0.01M412.8 107.6h0.01M397.5 104.5h0.01M394.1 89.4h0.01M393.5 96.8h0.01M398.4 97.4h0.01M397.7 102.0h0.01M412.2 86.8h0.01M399.3 93.6h0.01M400.9 84.8h0.01M402.2 96.8h0.01M398.6 78.9h0.01M395.0 90.2h0.01M403.6 99.3h0.01M397.8 99.1h0.01M393.2 96.0h0.01M398.3 99.4h0.01M397.4 94.5h0.01M396.9 91.0h0.01M415.9 99.1h0.01M401.4 111.5h0.01M409.2 84.6h0.01M403.6 101.4h0.01M413.1 104.7h0.01M404.2 87.3h0.01M391.0 97.4h0.01M402.0 88.3h0.01M394.9 92.7h0.01M398.5 97.9h0.01M395.7 86.8h0.01M407.9 106.7h0.01M397.2 102.7h0.01M401.6 100.1h0.01M401.9 90.2h0.01M402.6 102.6h0.01M390.8 109.3h0.01M414.7 108.3h0.01M413.9 100.7h0.01M395.3 91.3h0.01" stroke="#1a1a1a" stroke-width="0.84" stroke-linecap="round" opacity="0.9" fill="none"/>
<path d="M371.4 86.1h0.01M358.5 86.8h0.01M366.1 76.4h0.01M392.5 82.0h0.01M353.6 88.5h0.01M351.7 83.9h0.01M383.1 82.1h0.01M349.8 82.3h0.01M386.9 82.8h0.01M349.1 89.5h0.01M388.1 81.5h0.01M369.5 86.7h0.01M391.9 82.0h0.01M355.5 85.7h0.01M357.5 88.7h0.01M358.2 84.2h0.01M352.7 86.5h0.01M372.3 84.3h0.01M361.9 87.3h0.01M382.3 80.4h0.01M387.1 81.8h0.01M352.1 89.3h0.01M383.4 80.1h0.01M351.6 87.7h0.01M387.1 80.6h0.01M389.6 77.9h0.01M372.2 79.6h0.01M371.4 86.0h0.01M390.0 82.9h0.01M388.1 81.5h0.01M366.3 86.1h0.01M377.0 83.0h0.01M349.2 87.5h0.01M373.2 85.9h0.01M354.7 88.6h0.01M389.7 77.5h0.01M364.1 87.4h0.01M384.3 81.2h0.01M351.9 84.9h0.01M372.3 80.9h0.01M373.1 82.5h0.01M350.0 90.1h0.01M394.5 82.0h0.01M353.8 88.1h0.01M360.8 88.4h0.01M353.5 89.4h0.01M381.9 84.5h0.01M377.2 85.0h0.01M376.1 80.9h0.01M353.8 89.4h0.01M389.9 83.0h0.01M354.8 88.9h0.01M372.2 84.0h0.01M354.7 89.9h0.01M368.1 84.6h0.01M389.5 80.0h0.01M355.9 84.9h0.01M356.7 87.2h0.01M387.8 80.6h0.01M368.8 86.0h0.01M388.5 80.3h0.01M393.2 82.0h0.01M385.5 82.8h0.01M364.7 86.0h0.01M369.5 81.3h0.01M391.9 82.1h0.01M387.3 83.1h0.01M373.3 85.5h0.01M394.0 80.2h0.01M368.8 86.2h0.01M378.7 82.7h0.01M352.3 87.4h0.01M369.4 86.4h0.01M355.6 89.7h0.01M394.6 81.0h0.01M378.8 77.9h0.01M387.0 78.7h0.01M350.6 86.3h0.01M379.2 84.7h0.01M361.9 83.7h0.01M374.5 82.2h0.01M360.8 86.7h0.01M373.5 79.1h0.01M362.5 85.2h0.01M363.4 87.3h0.01M376.9 84.4h0.01M393.9 79.9h0.01M370.9 86.6h0.01M374.1 85.2h0.01M355.2 88.5h0.01M362.8 86.2h0.01M360.4 87.3h0.01M353.1 84.3h0.01M377.7 83.8h0.01M375.8 84.6h0.01M382.4 82.9h0.01M370.7 82.6h0.01M371.0 85.5h0.01M363.6 88.1h0.01M373.1 84.1h0.01M367.0 87.1h0.01M365.6 87.6h0.01M389.5 82.9h0.01M372.1 82.5h0.01M362.4 85.8h0.01M385.3 83.8h0.01M356.5 83.7h0.01M369.7 84.4h0.01M351.9 87.8h0.01M383.6 82.2h0.01M354.1 88.8h0.01M383.7 76.4h0.01M356.3 88.1h0.01M380.7 82.4h0.01M378.0 82.0h0.01M373.3 81.5h0.01M383.7 84.1h0.01M371.3 81.3h0.01M385.9 82.1h0.01M355.0 83.0h0.01M389.9 77.7h0.01M376.5 85.6h0.01M372.4 82.5h0.01M368.6 86.3h0.01M385.8 80.9h0.01M366.8 84.4h0.01M370.3 82.0h0.01M362.8 87.0h0.01M367.4 84.5h0.01M364.1 87.0h0.01M386.0 81.7h0.01M369.9 84.0h0.01M357.7 88.7h0.01M376.0 84.1h0.01M376.3 79.6h0.01M364.2 84.3h0.01M388.6 79.2h0.01M358.6 82.3h0.01M369.0 86.8h0.01M351.2 90.3h0.01M375.6 78.7h0.01M385.4 83.9h0.01M374.3 82.3h0.01M373.3 86.3h0.01M381.2 82.5h0.01M377.0 83.7h0.01M365.5 83.3h0.01M373.7 84.7h0.01M353.7 87.8h0.01M375.4 83.6h0.01M376.0 79.8h0.01M371.9 81.0h0.01M369.7 79.5h0.01M365.1 80.4h0.01M373.9 85.4h0.01M363.9 86.3h0.01M395.0 80.4h0.01M354.2 86.6h0.01M391.0 80.8h0.01M395.5 76.6h0.01M390.7 81.4h0.01M362.6 87.5h0.01M373.0 84.3h0.01M357.6 89.3h0.01M378.6 82.9h0.01M395.7 80.3h0.01M378.9 82.1h0.01M386.0 83.0h0.01M363.4 88.1h0.01M363.3 88.0h0.01M388.6 79.3h0.01M358.2 86.8h0.01M372.4 84.1h0.01M379.4 84.4h0.01M374.0 82.0h0.01M368.3 87.2h0.01M354.7 86.9h0.01M354.0 85.5h0.01M353.7 88.2h0.01M387.7 80.2h0.01M377.8 85.1h0.01M349.6 89.8h0.01M385.2 81.8h0.01M365.6 83.3h0.01M357.0 89.3h0.01M391.5 81.4h0.01M376.4 83.7h0.01M367.1 84.7h0.01M351.6 87.2h0.01M394.1 79.7h0.01M369.7 85.3h0.01M351.1 88.9h0.01M392.7 80.9h0.01M391.2 80.7h0.01M387.3 82.2h0.01M394.1 78.3h0.01M372.3 84.3h0.01M367.3 86.7h0.01M382.8 84.0h0.01M390.1 80.4h0.01M371.8 86.0h0.01M357.2 87.1h0.01M365.8 84.5h0.01M362.7 80.5h0.01M375.4 83.0h0.01M367.1 84.9h0.01M368.0 85.9h0.01M387.8 82.9h0.01M365.5 87.8h0.01M362.3 86.4h0.01M360.1 84.3h0.01M365.0 86.9h0.01M356.3 89.2h0.01M361.7 87.2h0.01M388.2 81.1h0.01M388.3 81.0h0.01M386.8 82.1h0.01M383.0 82.0h0.01M366.7 85.5h0.01M393.7 81.9h0.01M372.7 86.0h0.01M355.2 86.3h0.01M382.2 84.2h0.01M376.6 78.9h0.01M366.3 87.6h0.01M359.0 84.7h0.01M390.0 80.4h0.01M374.5 83.4h0.01M361.7 88.1h0.01M379.9 82.0h0.01M375.7 84.7h0.01M353.0 87.3h0.01M357.3 87.7h0.01M380.1 82.8h0.01M354.1 87.2h0.01M372.5 85.3h0.01M363.0 85.8h0.01M359.6 87.9h0.01M354.9 89.3h0.01M368.0 84.8h0.01M391.7 81.8h0.01M389.5 76.7h0.01M355.2 89.7h0.01M380.9 84.1h0.01M380.2 83.1h0.01M380.0 82.4h0.01M381.9 84.6h0.01M365.5 81.6h0.01M378.6 84.7h0.01M391.9 81.3h0.01M383.5 84.2h0.01M350.9 89.7h0.01M356.6 88.7h0.01M366.9 85.0h0.01M350.8 88.9h0.01M357.4 85.1h0.01M388.5 78.8h0.01M361.0 86.5h0.01M369.4 85.9h0.01M349.0 88.3h0.01M388.2 83.1h0.01M351.0 88.0h0.01M389.1 82.5h0.01M360.5 88.2h0.01M354.2 89.4h0.01M392.0 80.6h0.01M384.2 80.0h0.01M367.5 84.9h0.01M384.1 83.0h0.01M353.2 87.9h0.01M393.5 75.9h0.01M381.5 81.4h0.01M383.7 82.2h0.01M370.3 83.0h0.01M351.6 89.4h0.01M373.1 83.2h0.01M392.6 78.9h0.01M351.1 86.7h0.01M382.0 83.8h0.01M374.7 83.7h0.01M394.6 79.7h0.01M360.7 85.7h0.01M351.8 88.4h0.01M358.5 86.6h0.01M363.6 84.9h0.01M380.5 81.2h0.01M360.2 88.7h0.01M369.9 83.1h0.01M393.0 81.0h0.01M390.6 80.9h0.01M355.7 87.1h0.01M387.3 82.5h0.01M374.8 85.9h0.01M380.3 83.1h0.01M377.1 80.3h0.01M388.1 82.2h0.01M354.4 89.2h0.01M358.7 86.2h0.01M351.8 90.0h0.01M382.0 82.6h0.01M370.1 84.8h0.01M371.0 84.9h0.01M366.1 87.1h0.01M349.5 89.8h0.01M395.6 82.1h0.01M382.7 83.2h0.01M395.1 80.8h0.01M372.0 86.0h0.01M369.4 85.6h0.01M349.4 87.2h0.01M392.2 80.0h0.01M393.0 79.0h0.01M379.7 85.1h0.01M355.5 87.3h0.01M350.3 89.8h0.01M362.9 82.3h0.01M357.7 85.3h0.01M392.6 77.9h0.01M356.9 88.2h0.01M383.9 78.4h0.01M364.4 85.7h0.01M364.0 82.6h0.01M366.3 84.8h0.01M388.1 82.5h0.01M360.3 84.8h0.01M378.5 84.3h0.01M387.5 81.7h0.01M393.4 75.8h0.01M372.2 84.7h0.01M363.1 88.3h0.01M376.3 81.5h0.01M356.7 87.2h0.01M369.8 85.6h0.01M350.9 90.4h0.01M369.7 85.2h0.01M349.1 86.2h0.01M388.5 80.0h0.01M369.0 82.7h0.01M362.3 86.4h0.01M368.8 83.9h0.01M364.9 83.6h0.01M387.8 81.8h0.01M391.5 81.5h0.01M369.8 84.7h0.01M375.5 84.7h0.01M353.0 88.5h0.01M364.2 79.8h0.01M391.7 80.7h0.01M389.7 75.1h0.01M378.1 84.1h0.01M387.1 79.2h0.01M377.6 83.7h0.01M363.0 81.2h0.01M371.6 83.3h0.01M379.4 84.3h0.01M390.6 80.2h0.01M350.3 88.9h0.01M370.0 82.5h0.01M353.0 88.6h0.01M376.3 83.2h0.01M368.6 83.2h0.01M367.6 86.7h0.01M354.4 87.1h0.01M374.8 80.0h0.01M354.3 88.4h0.01M353.5 88.3h0.01M373.9 86.2h0.01M375.0 82.3h0.01M359.6 87.6h0.01M373.1 85.7h0.01M376.7 82.8h0.01M352.5 88.8h0.01M369.7 84.4h0.01M382.6 81.5h0.01M384.6 76.8h0.01M382.9 78.1h0.01M353.8 88.5h0.01M357.0 86.7h0.01M394.1 77.3h0.01M355.4 87.6h0.01M385.5 81.8h0.01M366.5 86.8h0.01M349.7 89.0h0.01M363.1 87.1h0.01M382.2 78.6h0.01M378.2 82.4h0.01M390.0 76.6h0.01M389.9 80.4h0.01M356.9 89.4h0.01M384.9 81.2h0.01M381.0 84.1h0.01M366.5 86.2h0.01M383.7 79.5h0.01M351.0 89.0h0.01M377.4 82.3h0.01M386.7 81.4h0.01M354.3 85.7h0.01M361.0 86.5h0.01M358.1 83.5h0.01M376.3 83.8h0.01M354.3 88.4h0.01M386.6 83.6h0.01M357.7 86.8h0.01M381.3 83.9h0.01M366.9 83.5h0.01M374.3 81.0h0.01M381.4 82.0h0.01M349.6 83.6h0.01M365.1 85.7h0.01M390.0 80.1h0.01M386.6 81.8h0.01M387.5 83.2h0.01M380.9 82.0h0.01M356.4 87.3h0.01M388.7 78.3h0.01M377.7 81.5h0.01M352.6 89.2h0.01M391.0 81.0h0.01M376.7 83.8h0.01M366.0 87.2h0.01" stroke="#1a1a1a" stroke-width="0.84" stroke-linecap="round" opacity="0.9" fill="none"/>
<path d="M404.5 101.3h0.01M402.0 94.6h0.01M390.2 101.4h0.01M400.3 84.6h0.01M404.2 113.6h0.01M391.4 88.4h0.01M410.8 92.2h0.01M398.5 99.0h0.01M398.1 101.1h0.01M406.4 112.7h0.01M420.8 85.0h0.01M407.4 107.1h0.01M417.0 107.2h0.01M409.6 103.0h0.01M401.3 92.4h0.01M414.7 110.2h0.01M419.1 104.4h0.01M399.4 106.9h0.01M412.9 99.3h0.01M409.7 94.5h0.01M407.1 96.2h0.01M391.9 94.1h0.01M400.0 113.7h0.01M404.9 95.0h0.01M397.5 91.0h0.01M400.8 88.1h0.01M390.2 110.1h0.01M404.0 97.4h0.01M407.6 93.1h0.01M395.2 86.0h0.01M399.3 93.3h0.01M412.5 100.5h0.01M419.1 94.2h0.01M418.6 101.5h0.01M392.5 89.4h0.01M408.0 113.6h0.01M401.1 107.2h0.01M403.3 110.0h0.01M392.1 98.5h0.01M417.9 92.3h0.01M398.0 84.7h0.01M395.1 92.0h0.01M411.8 90.5h0.01M402.4 90.0h0.01M408.7 109.9h0.01M410.1 89.9h0.01M412.8 112.9h0.01M408.6 86.4h0.01M415.1 110.3h0.01M400.6 88.1h0.01M395.8 100.1h0.01M417.1 103.2h0.01M418.6 90.4h0.01M400.1 106.5h0.01M410.1 96.2h0.01M411.0 94.1h0.01M391.8 96.4h0.01M391.4 102.8h0.01M400.4 98.8h0.01M408.5 91.7h0.01M404.4 84.4h0.01M418.7 100.9h0.01M420.6 85.7h0.01M409.0 105.7h0.01M400.2 86.8h0.01M394.8 88.3h0.01M413.8 86.7h0.01M415.2 96.7h0.01M406.7 101.7h0.01M407.2 103.7h0.01M408.6 93.9h0.01M413.0 91.7h0.01M412.1 106.9h0.01M414.1 93.3h0.01M414.0 113.3h0.01M404.0 92.3h0.01M406.2 112.2h0.01M394.1 84.3h0.01M404.7 103.7h0.01M414.0 94.9h0.01" stroke="#333" stroke-width="0.76" stroke-linecap="round" opacity="0.8" fill="none"/>
<path d="M382.2 62.8h0.01M375.2 61.3h0.01M380.3 63.4h0.01M386.0 64.7h0.01M369.0 62.1h0.01M383.9 61.6h0.01M378.7 65.0h0.01M373.3 54.0h0.01M376.3 63.8h0.01M376.3 60.1h0.01M386.7 62.5h0.01M369.0 60.2h0.01M378.5 58.8h0.01M365.3 70.7h0.01M387.7 67.1h0.01M388.2 65.3h0.01M358.7 67.6h0.01M387.0 64.9h0.01M356.1 67.8h0.01M388.2 61.1h0.01M376.2 66.0h0.01M374.2 67.3h0.01M375.8 65.7h0.01M375.8 57.3h0.01M365.4 75.3h0.01M377.7 68.1h0.01M386.0 69.6h0.01M380.4 60.7h0.01M375.2 55.6h0.01M373.2 66.5h0.01M354.0 63.8h0.01M383.0 68.2h0.01M366.0 60.5h0.01M356.8 59.0h0.01M380.2 71.0h0.01M363.9 68.4h0.01M379.1 61.1h0.01M374.3 63.9h0.01M395.7 70.0h0.01M384.5 68.3h0.01M380.0 64.4h0.01M373.2 61.4h0.01M363.1 70.6h0.01M370.7 54.9h0.01M377.6 62.9h0.01M376.7 70.1h0.01M374.0 62.0h0.01M367.7 62.9h0.01M370.7 63.8h0.01M366.7 70.5h0.01M383.4 66.2h0.01M382.0 66.2h0.01M381.6 68.5h0.01M384.8 68.2h0.01M370.1 63.0h0.01M367.9 66.7h0.01M383.1 61.2h0.01M380.7 73.2h0.01M387.0 58.7h0.01M374.1 65.5h0.01M374.7 64.5h0.01M386.5 64.3h0.01M364.3 65.8h0.01M374.1 63.4h0.01M369.5 57.6h0.01M362.9 61.6h0.01" stroke="#555" stroke-width="0.64" stroke-linecap="round" opacity="0.7" fill="none"/>
<rect x="347.8" y="84" width="1.8" height="31" fill="#222" filter="url(#b05)"/>
<path d="M350.6 94 L382 87.6 Q389.6 86.4 389.2 93 L388 113.4 L350.6 113.4 Z" fill="url(#gd)" stroke="#111" stroke-width="2" stroke-linejoin="round" filter="url(#b05)"/>
<path d="M349 92.8 L385.5 85.4" stroke="#111" stroke-width="3.6" stroke-linecap="round" filter="url(#b05)"/>
<path d="M354.0 97.5 L384.0 91.5 L384.5 110.5 L356.0 111.0 Z" fill="none" stroke="#777" stroke-width="0.45"/>
<path d="M356.2 98.7 L382.4 93.1 L382.7 109.1 L358.4 109.7 Z" fill="none" stroke="#777" stroke-width="0.45"/>
<path d="M358.4 99.9 L380.8 94.7 L380.9 107.7 L360.8 108.4 Z" fill="none" stroke="#777" stroke-width="0.45"/>
<path d="M360.6 101.1 L379.2 96.3 L379.1 106.3 L363.2 107.1 Z" fill="none" stroke="#777" stroke-width="0.45"/>
<path d="M362.8 102.3 L377.6 97.9 L377.3 104.9 L365.6 105.8 Z" fill="none" stroke="#777" stroke-width="0.45"/>
<ellipse cx="380" cy="98" rx="1.5" ry="3.2" fill="#f2f2f2" opacity="0.9" filter="url(#b05)" transform="rotate(10 380 98)"/>
<ellipse cx="386.8" cy="100" rx="1.3" ry="9" fill="#333" opacity="0.7" filter="url(#b1)" transform="rotate(2 386.8 100)"/>
<path d="M350.6 108.5 Q356 106.5 360 110 L361 113.6 L350.6 113.6 Z" fill="#111" filter="url(#b05)"/>
</g>
<g clip-path="url(#cp5)">
<linearGradient id="gr" x1="0" x2="1" y1="0" y2="0"><stop offset="0" stop-color="#fdfdfd"/><stop offset="0.45" stop-color="#f0f0f0"/><stop offset="0.8" stop-color="#b5b5b5"/><stop offset="1" stop-color="#8c8c8c"/></linearGradient>
<path d="M466.2 80.2h0.01M440.6 83.7h0.01M445.3 82.7h0.01M443.7 85.5h0.01M444.9 79.0h0.01M426.2 81.5h0.01M454.0 81.6h0.01M454.1 82.6h0.01M443.3 85.9h0.01M431.3 86.8h0.01M464.8 79.8h0.01M428.3 83.1h0.01M457.9 80.8h0.01M451.3 80.4h0.01M440.5 86.6h0.01M460.3 82.1h0.01M465.3 77.0h0.01M471.8 79.3h0.01M436.8 84.1h0.01M443.4 82.4h0.01M458.8 79.6h0.01M454.2 81.3h0.01M457.2 81.0h0.01M451.0 80.5h0.01M436.3 85.9h0.01M467.8 78.9h0.01M447.8 84.4h0.01M447.9 81.4h0.01M436.2 83.4h0.01M450.3 79.1h0.01M450.1 79.1h0.01M437.0 86.6h0.01M433.9 86.7h0.01M455.5 80.3h0.01M464.1 76.6h0.01M428.0 85.8h0.01M443.5 83.3h0.01M431.7 83.9h0.01M433.1 88.4h0.01M442.4 84.9h0.01M462.9 78.3h0.01M430.0 88.6h0.01M444.2 81.2h0.01M446.7 85.2h0.01M448.0 83.5h0.01M432.9 83.6h0.01M457.3 80.4h0.01M436.9 84.8h0.01M443.1 84.5h0.01M426.8 87.3h0.01M435.2 87.0h0.01M434.2 87.7h0.01M459.0 82.1h0.01M437.1 84.8h0.01M464.4 77.7h0.01M465.5 78.7h0.01M435.3 83.2h0.01M454.4 81.0h0.01M443.1 83.0h0.01M442.9 85.3h0.01M458.8 81.7h0.01M455.8 80.2h0.01M463.3 79.7h0.01M452.6 81.6h0.01M468.5 77.4h0.01M458.7 75.1h0.01M443.1 84.7h0.01M429.3 86.9h0.01M460.8 79.4h0.01M448.8 82.3h0.01M467.5 80.5h0.01M453.3 83.1h0.01M447.3 79.6h0.01M445.1 84.3h0.01M447.8 82.5h0.01M448.6 82.8h0.01M449.5 82.6h0.01M460.1 78.2h0.01M444.5 81.4h0.01M451.5 83.0h0.01M461.4 81.7h0.01M436.2 86.2h0.01M429.5 88.6h0.01M430.1 87.8h0.01M460.7 81.2h0.01M457.3 82.5h0.01M458.7 81.5h0.01M457.8 82.6h0.01M445.2 76.4h0.01M463.6 76.1h0.01M466.1 79.2h0.01M449.8 82.4h0.01M426.3 87.5h0.01M438.1 87.1h0.01M440.4 86.5h0.01M451.6 78.2h0.01M449.5 83.8h0.01M440.0 86.3h0.01M465.9 79.0h0.01M437.8 81.7h0.01M435.3 84.4h0.01M443.2 84.9h0.01M447.4 81.2h0.01M442.8 85.9h0.01M462.9 79.5h0.01M451.6 77.8h0.01M428.4 88.0h0.01M444.8 82.3h0.01M452.0 83.0h0.01M462.6 79.5h0.01M439.4 85.6h0.01M453.2 78.5h0.01M446.9 82.2h0.01M466.4 79.5h0.01M428.7 85.5h0.01M428.3 87.8h0.01M465.7 77.3h0.01M434.3 86.3h0.01M468.4 75.3h0.01M448.9 82.8h0.01M457.0 81.8h0.01M435.7 85.6h0.01M464.6 77.1h0.01M435.5 82.5h0.01M430.6 84.6h0.01M469.7 77.1h0.01M445.1 84.4h0.01M467.7 78.5h0.01M457.6 82.2h0.01M458.0 81.8h0.01M427.9 88.3h0.01M436.7 85.4h0.01M452.8 82.3h0.01M433.1 84.9h0.01M467.9 77.8h0.01M433.0 83.3h0.01M462.8 78.6h0.01M427.5 89.3h0.01M443.5 84.7h0.01M451.1 82.6h0.01M430.3 84.3h0.01M445.8 84.4h0.01M457.2 78.6h0.01M431.6 85.0h0.01M468.5 73.2h0.01M450.2 84.3h0.01M439.4 84.1h0.01M448.8 80.7h0.01M468.8 77.4h0.01M465.7 79.0h0.01M453.5 82.5h0.01M432.4 88.2h0.01M438.5 82.6h0.01M436.5 84.0h0.01M468.5 76.3h0.01M470.5 79.0h0.01M441.8 82.3h0.01M428.3 88.0h0.01M441.3 84.4h0.01M460.1 81.5h0.01M434.2 87.5h0.01M429.2 86.8h0.01M451.7 81.0h0.01M462.2 79.6h0.01M453.4 83.0h0.01M449.6 84.4h0.01M430.5 88.0h0.01M452.6 82.7h0.01M442.2 83.2h0.01M433.5 85.1h0.01M433.8 85.7h0.01M464.7 80.2h0.01M466.2 79.1h0.01M430.3 88.8h0.01M466.4 78.2h0.01M450.7 82.0h0.01M431.4 87.0h0.01M450.6 84.0h0.01M449.3 83.3h0.01M444.6 84.3h0.01M435.4 86.3h0.01M466.1 79.3h0.01M449.1 84.3h0.01M469.4 79.8h0.01M448.5 83.9h0.01M457.7 79.0h0.01M436.5 87.6h0.01M438.2 85.5h0.01M427.4 86.8h0.01M439.4 84.7h0.01M467.0 77.2h0.01M436.8 85.6h0.01M453.4 82.7h0.01M428.9 84.7h0.01M437.3 80.5h0.01M427.9 84.6h0.01M454.4 81.5h0.01M441.7 81.3h0.01M463.3 74.9h0.01M426.5 88.3h0.01M469.3 77.5h0.01M430.1 87.5h0.01M437.3 87.0h0.01M433.0 83.9h0.01M441.8 85.1h0.01M436.1 86.2h0.01M441.2 76.3h0.01M462.4 80.1h0.01M448.1 79.7h0.01M467.8 80.4h0.01M460.6 80.8h0.01M454.8 81.9h0.01M464.9 80.8h0.01M459.0 81.2h0.01M442.1 82.3h0.01M456.9 76.3h0.01M460.3 78.4h0.01M469.1 75.9h0.01M467.6 80.3h0.01M462.9 75.9h0.01M453.2 78.7h0.01M462.1 79.5h0.01M466.1 78.5h0.01M450.5 77.1h0.01M469.5 74.2h0.01M462.2 76.5h0.01M437.6 86.2h0.01M435.1 86.1h0.01M447.1 84.9h0.01M467.8 77.0h0.01M457.5 82.1h0.01M462.1 78.9h0.01M462.5 78.7h0.01M464.0 74.8h0.01M444.7 82.0h0.01M464.5 78.9h0.01M441.6 81.7h0.01M462.5 78.5h0.01M426.2 89.4h0.01M431.1 88.8h0.01M463.4 77.9h0.01M447.0 83.2h0.01M441.4 85.8h0.01M464.8 78.4h0.01M454.5 83.2h0.01M438.5 85.9h0.01M458.3 78.5h0.01M463.1 80.0h0.01M431.6 88.4h0.01M463.9 80.6h0.01M434.5 87.1h0.01M442.7 78.7h0.01M436.3 84.5h0.01M467.1 78.0h0.01M444.1 78.4h0.01M449.3 84.7h0.01M471.5 77.5h0.01M433.5 83.0h0.01M450.3 82.6h0.01M469.5 80.1h0.01M446.9 84.4h0.01M442.2 84.2h0.01M430.6 83.3h0.01M449.6 82.7h0.01M443.3 80.3h0.01M456.7 80.2h0.01M429.5 86.9h0.01M470.1 77.7h0.01M442.6 84.0h0.01M443.3 82.5h0.01M450.0 81.6h0.01M448.9 78.9h0.01M442.7 85.2h0.01M464.4 81.1h0.01M457.4 79.8h0.01M460.5 81.0h0.01M467.0 80.0h0.01M427.6 84.7h0.01M441.0 81.7h0.01M467.0 75.0h0.01M432.6 85.1h0.01M428.1 87.5h0.01M444.0 85.8h0.01M438.9 82.8h0.01M461.1 81.0h0.01M445.4 81.9h0.01M471.0 76.5h0.01M457.1 78.5h0.01M443.5 81.4h0.01M457.8 81.7h0.01M438.8 85.0h0.01M464.0 78.0h0.01M462.5 80.7h0.01M449.7 83.2h0.01M466.4 78.2h0.01M433.9 84.0h0.01M440.4 84.3h0.01M443.6 85.1h0.01M470.5 78.0h0.01M440.2 86.3h0.01" stroke="#1a1a1a" stroke-width="0.84" stroke-linecap="round" opacity="0.9" fill="none"/>
<path d="M478.0 94.9h0.01M469.3 105.7h0.01M477.8 101.4h0.01M466.8 102.5h0.01M479.1 95.4h0.01M471.2 101.7h0.01M473.4 86.9h0.01M473.1 89.8h0.01M466.5 95.6h0.01M468.8 91.9h0.01M473.3 94.4h0.01M477.8 86.7h0.01M472.4 103.7h0.01M482.1 101.8h0.01M473.3 83.5h0.01M478.2 102.0h0.01M474.2 88.1h0.01M485.3 91.6h0.01M468.6 104.5h0.01M475.5 89.2h0.01M479.4 113.8h0.01M477.9 103.1h0.01M480.6 100.7h0.01M467.8 86.7h0.01M479.9 107.9h0.01M473.2 86.4h0.01M486.7 85.5h0.01M481.5 107.3h0.01M469.8 85.1h0.01M472.5 100.3h0.01M472.2 103.2h0.01M473.6 100.9h0.01M475.4 89.0h0.01M472.0 93.7h0.01M476.7 90.2h0.01M484.3 97.3h0.01M477.1 102.5h0.01M481.1 100.5h0.01M487.5 101.2h0.01M477.4 101.1h0.01M468.0 91.0h0.01M467.9 107.2h0.01M475.8 112.7h0.01M476.9 113.6h0.01M476.6 86.6h0.01M486.6 100.0h0.01M482.3 98.9h0.01M470.4 98.5h0.01M466.0 92.4h0.01M487.4 96.6h0.01M479.9 95.1h0.01M476.1 96.7h0.01M468.8 97.7h0.01M470.7 87.4h0.01M470.2 101.9h0.01M467.7 101.2h0.01M477.5 110.8h0.01M477.0 110.3h0.01M475.1 103.7h0.01M486.1 94.5h0.01M490.0 90.5h0.01M470.8 82.9h0.01M478.0 99.3h0.01M488.9 98.5h0.01M471.0 84.5h0.01M472.4 105.4h0.01M478.8 107.9h0.01M479.8 96.6h0.01M477.8 98.5h0.01M476.0 87.7h0.01M476.0 99.6h0.01M480.9 109.8h0.01M485.1 88.6h0.01M475.7 100.1h0.01M474.5 103.6h0.01M490.4 99.6h0.01M481.5 95.8h0.01M472.1 88.2h0.01M473.9 98.1h0.01M475.4 108.6h0.01M472.2 97.8h0.01M479.8 83.2h0.01M470.7 97.6h0.01M480.6 89.9h0.01M479.4 100.4h0.01M474.6 103.5h0.01M479.5 92.1h0.01M481.5 104.3h0.01M476.7 101.3h0.01M470.2 98.2h0.01M472.6 94.0h0.01M467.1 84.4h0.01M473.7 110.0h0.01M469.8 87.5h0.01M484.0 112.3h0.01M470.7 95.1h0.01M474.1 105.9h0.01M476.4 98.0h0.01M487.3 94.6h0.01M475.5 97.7h0.01M475.3 110.2h0.01M483.3 91.6h0.01M478.5 93.6h0.01M473.9 98.4h0.01M473.2 92.8h0.01M485.4 94.6h0.01M478.6 112.1h0.01M478.0 106.2h0.01M484.1 106.8h0.01M486.7 84.2h0.01M488.6 97.2h0.01M475.4 98.4h0.01M466.6 94.9h0.01M472.2 97.7h0.01M472.9 95.0h0.01M480.0 82.6h0.01M469.1 98.2h0.01M469.8 92.0h0.01M469.5 98.9h0.01M482.9 95.3h0.01M470.9 100.2h0.01M475.1 93.6h0.01M468.4 102.7h0.01M473.4 91.9h0.01" stroke="#333" stroke-width="0.76" stroke-linecap="round" opacity="0.8" fill="none"/>
<path d="M489.8 84.2h0.01M468.3 87.4h0.01M487.5 102.0h0.01M482.1 97.7h0.01M478.6 102.3h0.01M486.1 111.5h0.01M488.7 107.9h0.01M494.3 109.1h0.01M488.2 84.9h0.01M487.1 109.5h0.01M479.4 110.3h0.01M471.6 112.3h0.01M479.7 105.2h0.01M473.8 93.0h0.01M476.8 93.7h0.01M468.9 97.3h0.01M496.4 103.6h0.01M494.9 106.9h0.01M491.9 113.8h0.01M489.3 92.2h0.01M473.7 96.4h0.01M466.6 90.9h0.01M493.5 111.6h0.01M476.2 107.1h0.01M490.0 110.7h0.01M490.6 100.0h0.01M469.3 108.8h0.01M475.7 102.8h0.01M477.4 100.1h0.01M495.9 88.8h0.01M482.5 103.5h0.01M482.7 112.1h0.01M478.6 111.4h0.01M487.4 113.0h0.01M468.8 90.4h0.01M474.9 111.2h0.01M466.4 91.8h0.01M488.2 113.7h0.01M471.5 97.1h0.01M487.3 104.7h0.01M489.1 106.6h0.01M473.7 91.7h0.01M466.9 104.7h0.01M472.5 91.8h0.01M495.9 103.3h0.01M484.3 103.7h0.01M484.5 104.8h0.01M475.4 85.9h0.01M468.1 84.4h0.01M477.2 88.3h0.01M469.5 98.8h0.01M496.1 104.6h0.01M474.5 107.1h0.01M471.5 87.0h0.01M475.4 96.3h0.01M487.4 97.3h0.01M488.6 86.8h0.01M494.9 94.3h0.01M491.8 84.9h0.01M491.7 90.8h0.01" stroke="#444" stroke-width="0.72" stroke-linecap="round" opacity="0.7" fill="none"/>
<path d="M463.9 58.3h0.01M450.5 61.2h0.01M459.8 64.2h0.01M458.4 62.7h0.01M447.5 59.5h0.01M451.0 61.9h0.01M456.5 65.4h0.01M462.8 63.6h0.01M447.3 59.8h0.01M454.6 65.4h0.01M469.8 71.5h0.01M444.6 68.8h0.01M464.2 69.4h0.01M453.9 67.8h0.01M449.7 63.7h0.01M454.2 71.1h0.01M452.1 67.8h0.01M454.6 61.2h0.01M456.2 66.6h0.01M447.6 66.5h0.01M447.6 60.5h0.01M456.0 63.1h0.01M445.2 57.5h0.01M454.2 65.0h0.01M449.9 64.7h0.01M440.3 65.6h0.01M457.7 65.1h0.01M448.5 64.3h0.01M455.2 68.3h0.01M456.5 65.0h0.01M447.5 67.4h0.01M464.6 62.0h0.01M459.7 65.2h0.01M453.6 58.9h0.01M469.8 56.5h0.01M456.7 62.5h0.01M464.3 62.3h0.01M454.4 66.4h0.01M458.1 61.9h0.01M460.1 65.6h0.01M462.9 62.0h0.01M453.6 62.4h0.01M446.5 65.0h0.01M457.7 69.7h0.01M451.1 65.5h0.01M464.3 63.5h0.01M454.6 64.5h0.01M447.8 60.1h0.01M464.0 64.7h0.01M453.3 59.0h0.01M455.1 68.7h0.01M443.7 60.4h0.01M464.0 69.7h0.01M467.9 61.8h0.01M459.4 61.0h0.01M458.7 62.5h0.01M455.8 69.3h0.01M457.0 63.0h0.01M454.5 65.1h0.01M449.4 64.8h0.01M459.4 70.2h0.01M435.5 59.3h0.01M442.9 67.5h0.01M455.1 68.5h0.01M432.2 63.3h0.01M449.5 62.1h0.01M457.0 61.7h0.01M463.9 64.0h0.01M457.4 74.1h0.01M450.0 67.7h0.01M446.6 69.0h0.01M462.6 64.6h0.01M462.9 70.4h0.01M466.3 64.0h0.01M453.5 68.4h0.01M440.9 61.6h0.01M458.3 66.3h0.01" stroke="#555" stroke-width="0.64" stroke-linecap="round" opacity="0.7" fill="none"/>
<rect x="424.3" y="86" width="1.8" height="29" fill="#333" filter="url(#b05)"/>
<path d="M426.6 92.5 L460 84.4 Q465.8 83.4 465.4 88.5 L464.6 113 L426.6 113 Z" fill="url(#gr)" stroke="#111" stroke-width="2" stroke-linejoin="round" filter="url(#b05)"/>
<path d="M426 91.3 L463 82.9" stroke="#111" stroke-width="3.2" stroke-linecap="round" filter="url(#b05)"/>
<path d="M436.0 98.0 Q448.0 93 461.0 89.0 L461.5 111.0 L440.0 111.5 Z" fill="none" stroke="#808080" stroke-width="0.45"/>
<path d="M438.6 98.8 Q449.2 94 459.8 90.4 L460.2 110.2 L442.6 110.8 Z" fill="none" stroke="#808080" stroke-width="0.45"/>
<path d="M441.2 99.6 Q450.4 95 458.6 91.8 L458.9 109.4 L445.2 110.1 Z" fill="none" stroke="#808080" stroke-width="0.45"/>
<path d="M443.8 100.4 Q451.6 96 457.4 93.2 L457.6 108.6 L447.8 109.4 Z" fill="none" stroke="#808080" stroke-width="0.45"/>
<path d="M446.4 101.2 Q452.8 97 456.2 94.6 L456.3 107.8 L450.4 108.7 Z" fill="none" stroke="#808080" stroke-width="0.45"/>
<path d="M449.0 102.0 Q454.0 98 455.0 96.0 L455.0 107.0 L453.0 108.0 Z" fill="none" stroke="#808080" stroke-width="0.45"/>
<path d="M429 104 Q436 101 440 108 L441 112" fill="none" stroke="#999" stroke-width="0.45"/>
</g>
<rect x="43.4" y="48" width="73.30" height="67.30" fill="none" stroke="#808080" stroke-width="0.8"/>
<rect x="119.2" y="48" width="73.30" height="67.30" fill="none" stroke="#808080" stroke-width="0.8"/>
<rect x="195.1" y="48" width="73.30" height="67.30" fill="none" stroke="#808080" stroke-width="0.8"/>
<rect x="271.3" y="48" width="73.30" height="67.30" fill="none" stroke="#808080" stroke-width="0.8"/>
<rect x="347.6" y="48" width="73.30" height="67.30" fill="none" stroke="#808080" stroke-width="0.8"/>
<rect x="424" y="48" width="73.30" height="67.30" fill="none" stroke="#808080" stroke-width="0.8"/>
<ellipse cx="67.9" cy="65.7" rx="23.4" ry="11.1" fill="none" stroke="#111" stroke-width="1.7"/>
<ellipse cx="143.7" cy="64.9" rx="23.6" ry="11.2" fill="none" stroke="#111" stroke-width="1.7"/>
<ellipse cx="219.7" cy="64.2" rx="23.5" ry="11.1" fill="none" stroke="#111" stroke-width="1.7"/>
<ellipse cx="295.4" cy="64" rx="23.4" ry="11.2" fill="none" stroke="#111" stroke-width="1.7"/>
<ellipse cx="372.3" cy="65.5" rx="23.7" ry="10.6" fill="none" stroke="#111" stroke-width="1.7"/>
<ellipse cx="448.5" cy="65.5" rx="23.7" ry="10.6" fill="none" stroke="#111" stroke-width="1.7"/>
<rect x="83" y="81" width="32.50" height="34.00" fill="none" stroke="#111" stroke-width="1.2"/>
<rect x="159.5" y="80" width="32.50" height="34.00" fill="none" stroke="#111" stroke-width="1.2"/>
<rect x="235" y="80" width="33.00" height="34.00" fill="none" stroke="#111" stroke-width="1.2"/>
<rect x="312.5" y="80" width="32.00" height="34.00" fill="none" stroke="#111" stroke-width="1.2"/>
<rect x="388.5" y="81.5" width="32.50" height="32.50" fill="none" stroke="#111" stroke-width="1.2"/>
<rect x="465.3" y="81.5" width="32.00" height="32.50" fill="none" stroke="#111" stroke-width="1.2"/>
<rect x="56.5" y="49.300000000000004" width="22.0" height="6.8" fill="#fff"/>
<text x="67.5" y="55.6" font-size="8.6"  text-anchor="middle" fill="#111" >0.025</text>
<rect x="136.70000000000002" y="47.900000000000006" width="13.200000000000001" height="6.8" fill="#fff"/>
<text x="143.3" y="54.2" font-size="8.6"  text-anchor="middle" fill="#111" >3.6</text>
<rect x="213.3" y="48.0" width="13.200000000000001" height="6.8" fill="#fff"/>
<text x="219.9" y="54.3" font-size="8.6"  text-anchor="middle" fill="#111" >5.6</text>
<rect x="289.4" y="47.7" width="13.200000000000001" height="6.8" fill="#fff"/>
<text x="296" y="54" font-size="8.6"  text-anchor="middle" fill="#111" >4.8</text>
<rect x="363.8" y="49.6" width="17.6" height="6.8" fill="#fff"/>
<text x="372.6" y="55.9" font-size="8.6"  text-anchor="middle" fill="#111" >0.13</text>
<rect x="439.59999999999997" y="49.6" width="17.6" height="6.8" fill="#fff"/>
<text x="448.4" y="55.9" font-size="8.6"  text-anchor="middle" fill="#111" >0.09</text>
<rect x="95.1" y="76.8" width="10.8" height="8" fill="#fff"/>
<text x="100.5" y="83.8" font-size="8.6"  text-anchor="middle" fill="#111" >78</text>
<rect x="171.2" y="75.7" width="10.8" height="8" fill="#fff"/>
<text x="176.6" y="82.7" font-size="8.6"  text-anchor="middle" fill="#111" >30</text>
<rect x="244.15" y="76.2" width="15.500000000000002" height="8" fill="#fff"/>
<text x="251.9" y="83.2" font-size="8.6"  text-anchor="middle" fill="#111" >6.7</text>
<rect x="320.35" y="76.1" width="15.500000000000002" height="8" fill="#fff"/>
<text x="328.1" y="83.1" font-size="8.6"  text-anchor="middle" fill="#111" >5.3</text>
<rect x="397.55" y="76.7" width="15.500000000000002" height="8" fill="#fff"/>
<text x="405.3" y="83.7" font-size="8.6"  text-anchor="middle" fill="#111" >2.2</text>
<rect x="473.15" y="76.5" width="15.500000000000002" height="8" fill="#fff"/>
<text x="480.9" y="83.5" font-size="8.6"  text-anchor="middle" fill="#111" >1.4</text>
<line x1="38.8" y1="113.5" x2="38.8" y2="54" stroke="#111" stroke-width="1.4" />
<path d="M38.8 50.5 L36 58 L41.6 58 Z" fill="#111"/>
<line x1="50" y1="120.4" x2="493" y2="120.4" stroke="#b0b0b0" stroke-width="1.8" filter="url(#b05)"/>
<line x1="48.5" y1="117.9" x2="494" y2="117.9" stroke="#111" stroke-width="1.7" />
<path d="M500.5 118.3 L492 114.9 L492 121.7 Z" fill="#111"/>
<text transform="translate(35.5,84) rotate(-90)" font-size="12.8" text-anchor="middle" fill="#111">CD123</text>
<text x="267.8" y="136" font-size="12.8"  text-anchor="middle" fill="#111" >CD11c</text>
<text x="8.9" y="183.6" font-size="29.5" font-weight="bold" text-anchor="start" fill="#111" >B</text>
<text x="6" y="265.7" font-size="14" font-weight="bold" text-anchor="start" fill="#111" >pDC</text>
<text x="2.2" y="441.4" font-size="14" font-weight="bold" text-anchor="start" fill="#111" >mDC</text>
<rect x="419.1" y="170.7" width="14.60" height="5.80" fill="#fff" stroke="#111" stroke-width="1.9"/>
<rect x="419.1" y="185.4" width="14.60" height="5.80" fill="#9c9c9c" stroke="#111" stroke-width="1.9"/>
<text x="440.9" y="177.9" font-size="13.2" font-weight="bold" text-anchor="start" fill="#111" >SIV-</text>
<text x="440.9" y="193.4" font-size="13.2" font-weight="bold" text-anchor="start" fill="#111" >SIV+ (AIDS)</text>
<text transform="translate(53.6,261.0) rotate(-90)" font-size="9.4" font-weight="bold" text-anchor="middle" textLength="89.0" lengthAdjust="spacing" fill="#111">% of HLA-DR+ LIN-</text>
<line x1="71.2" y1="202.4" x2="71.2" y2="321.3" stroke="#111" stroke-width="2.0" />
<line x1="67.7" y1="320.5" x2="72.2" y2="320.5" stroke="#111" stroke-width="1.6" />
<text transform="translate(66.9,323.812) scale(0.88,1)" font-size="9.2" font-weight="bold" text-anchor="end" fill="#111" >0</text>
<line x1="67.7" y1="303.7" x2="72.2" y2="303.7" stroke="#111" stroke-width="1.6" />
<text transform="translate(66.9,307.012) scale(0.88,1)" font-size="9.2" font-weight="bold" text-anchor="end" fill="#111" >5</text>
<line x1="67.7" y1="286.9" x2="72.2" y2="286.9" stroke="#111" stroke-width="1.6" />
<text transform="translate(66.9,290.212) scale(0.88,1)" font-size="9.2" font-weight="bold" text-anchor="end" fill="#111" >10</text>
<line x1="67.7" y1="270.1" x2="72.2" y2="270.1" stroke="#111" stroke-width="1.6" />
<text transform="translate(66.9,273.41200000000003) scale(0.88,1)" font-size="9.2" font-weight="bold" text-anchor="end" fill="#111" >15</text>
<line x1="67.7" y1="253.3" x2="72.2" y2="253.3" stroke="#111" stroke-width="1.6" />
<text transform="translate(66.9,256.612) scale(0.88,1)" font-size="9.2" font-weight="bold" text-anchor="end" fill="#111" >20</text>
<line x1="67.7" y1="236.5" x2="72.2" y2="236.5" stroke="#111" stroke-width="1.6" />
<text transform="translate(66.9,239.812) scale(0.88,1)" font-size="9.2" font-weight="bold" text-anchor="end" fill="#111" >25</text>
<line x1="67.7" y1="219.7" x2="72.2" y2="219.7" stroke="#111" stroke-width="1.6" />
<text transform="translate(66.9,223.012) scale(0.88,1)" font-size="9.2" font-weight="bold" text-anchor="end" fill="#111" >30</text>
<line x1="67.7" y1="202.89999999999998" x2="72.2" y2="202.89999999999998" stroke="#111" stroke-width="1.6" />
<text transform="translate(66.9,206.212) scale(0.88,1)" font-size="9.2" font-weight="bold" text-anchor="end" fill="#111" >35</text>
<line x1="70.2" y1="320.5" x2="140" y2="320.5" stroke="#111" stroke-width="2.0" />
<line x1="88" y1="320.5" x2="88" y2="324.1" stroke="#111" stroke-width="1.6" />
<line x1="111.7" y1="320.5" x2="111.7" y2="324.1" stroke="#111" stroke-width="1.6" />
<line x1="88" y1="304" x2="88" y2="305.3" stroke="#111" stroke-width="1.7" />
<line x1="88" y1="319" x2="88" y2="320.3" stroke="#111" stroke-width="1.7" />
<rect x="79.6" y="305.3" width="17.10" height="13.70" fill="#fff" stroke="#111" stroke-width="1.7"/>
<line x1="79.6" y1="314.6" x2="96.7" y2="314.6" stroke="#111" stroke-width="1.6" />
<circle cx="81.70" cy="304.50" r="1.6" fill="#fff" stroke="#111" stroke-width="1.25"/>
<circle cx="88.50" cy="308.00" r="1.6" fill="#fff" stroke="#111" stroke-width="1.25"/>
<circle cx="91.50" cy="311.50" r="1.6" fill="#fff" stroke="#111" stroke-width="1.25"/>
<line x1="84.5" y1="303.8" x2="91.5" y2="303.8" stroke="#111" stroke-width="1.5" />
<circle cx="82.70" cy="316.80" r="1.3" fill="#111" stroke="#111" stroke-width="0.5"/>
<circle cx="88.00" cy="316.80" r="1.3" fill="#111" stroke="#111" stroke-width="0.5"/>
<circle cx="93.30" cy="316.80" r="1.3" fill="#111" stroke="#111" stroke-width="0.5"/>
<line x1="111.7" y1="285" x2="111.7" y2="304.5" stroke="#111" stroke-width="1.7" />
<line x1="111.7" y1="320.3" x2="111.7" y2="321.5" stroke="#111" stroke-width="1.7" />
<rect x="103.2" y="304.5" width="17.00" height="15.80" fill="#9c9c9c" stroke="#111" stroke-width="1.7"/>
<line x1="103.2" y1="314.2" x2="120.2" y2="314.2" stroke="#111" stroke-width="1.6" />
<path d="M107.00 305.43 L108.66 309.03 L105.34 309.03 Z" fill="none" stroke="#111" stroke-width="1.25" stroke-linejoin="miter"/>
<path d="M116.50 305.93 L118.16 309.53 L114.84 309.53 Z" fill="none" stroke="#111" stroke-width="1.25" stroke-linejoin="miter"/>
<path d="M111.70 308.93 L113.36 312.53 L110.04 312.53 Z" fill="none" stroke="#111" stroke-width="1.25" stroke-linejoin="miter"/>
<path d="M106.00 310.43 L107.66 314.03 L104.34 314.03 Z" fill="none" stroke="#111" stroke-width="1.25" stroke-linejoin="miter"/>
<path d="M117.50 310.43 L119.16 314.03 L115.84 314.03 Z" fill="none" stroke="#111" stroke-width="1.25" stroke-linejoin="miter"/>
<line x1="107.5" y1="285" x2="115.9" y2="285" stroke="#111" stroke-width="1.6" />
<path d="M111.70 282.68 L113.55 286.71 L109.85 286.71 Z" fill="#111" stroke="#111" stroke-width="0.9" stroke-linejoin="miter"/>
<path d="M106.00 315.93 L107.66 319.53 L104.34 319.53 Z" fill="#111" stroke="#111" stroke-width="0.9" stroke-linejoin="miter"/>
<path d="M111.70 316.43 L113.36 320.03 L110.04 320.03 Z" fill="#111" stroke="#111" stroke-width="0.9" stroke-linejoin="miter"/>
<path d="M117.30 315.93 L118.96 319.53 L115.64 319.53 Z" fill="#111" stroke="#111" stroke-width="0.9" stroke-linejoin="miter"/>
<path d="M109.00 318.53 L110.66 322.13 L107.34 322.13 Z" fill="#111" stroke="#111" stroke-width="0.9" stroke-linejoin="miter"/>
<path d="M114.50 318.53 L116.16 322.13 L112.84 322.13 Z" fill="#111" stroke="#111" stroke-width="0.9" stroke-linejoin="miter"/>
<text x="103" y="335" font-size="11.4" font-weight="bold" text-anchor="middle" fill="#111" >Blood</text>
<line x1="164.3" y1="202.4" x2="164.3" y2="321.3" stroke="#111" stroke-width="2.0" />
<line x1="160.8" y1="320.5" x2="165.3" y2="320.5" stroke="#111" stroke-width="1.6" />
<text transform="translate(160.0,323.812) scale(0.88,1)" font-size="9.2" font-weight="bold" text-anchor="end" fill="#111" >0</text>
<line x1="160.8" y1="303.7" x2="165.3" y2="303.7" stroke="#111" stroke-width="1.6" />
<text transform="translate(160.0,307.012) scale(0.88,1)" font-size="9.2" font-weight="bold" text-anchor="end" fill="#111" >5</text>
<line x1="160.8" y1="286.9" x2="165.3" y2="286.9" stroke="#111" stroke-width="1.6" />
<text transform="translate(160.0,290.212) scale(0.88,1)" font-size="9.2" font-weight="bold" text-anchor="end" fill="#111" >10</text>
<line x1="160.8" y1="270.1" x2="165.3" y2="270.1" stroke="#111" stroke-width="1.6" />
<text transform="translate(160.0,273.41200000000003) scale(0.88,1)" font-size="9.2" font-weight="bold" text-anchor="end" fill="#111" >15</text>
<line x1="160.8" y1="253.3" x2="165.3" y2="253.3" stroke="#111" stroke-width="1.6" />
<text transform="translate(160.0,256.612) scale(0.88,1)" font-size="9.2" font-weight="bold" text-anchor="end" fill="#111" >20</text>
<line x1="160.8" y1="236.5" x2="165.3" y2="236.5" stroke="#111" stroke-width="1.6" />
<text transform="translate(160.0,239.812) scale(0.88,1)" font-size="9.2" font-weight="bold" text-anchor="end" fill="#111" >25</text>
<line x1="160.8" y1="219.7" x2="165.3" y2="219.7" stroke="#111" stroke-width="1.6" />
<text transform="translate(160.0,223.012) scale(0.88,1)" font-size="9.2" font-weight="bold" text-anchor="end" fill="#111" >30</text>
<line x1="160.8" y1="202.89999999999998" x2="165.3" y2="202.89999999999998" stroke="#111" stroke-width="1.6" />
<text transform="translate(160.0,206.212) scale(0.88,1)" font-size="9.2" font-weight="bold" text-anchor="end" fill="#111" >35</text>
<line x1="163.3" y1="320.5" x2="318.8" y2="320.5" stroke="#111" stroke-width="2.0" />
<line x1="177.5" y1="320.5" x2="177.5" y2="324.1" stroke="#111" stroke-width="1.6" />
<line x1="193.2" y1="320.5" x2="193.2" y2="324.1" stroke="#111" stroke-width="1.6" />
<line x1="233" y1="320.5" x2="233" y2="324.1" stroke="#111" stroke-width="1.6" />
<line x1="248.7" y1="320.5" x2="248.7" y2="324.1" stroke="#111" stroke-width="1.6" />
<line x1="288.8" y1="320.5" x2="288.8" y2="324.1" stroke="#111" stroke-width="1.6" />
<line x1="305" y1="320.5" x2="305" y2="324.1" stroke="#111" stroke-width="1.6" />
<line x1="177.5" y1="256.3" x2="177.5" y2="265" stroke="#111" stroke-width="1.7" />
<line x1="177.5" y1="296.3" x2="177.5" y2="299.3" stroke="#111" stroke-width="1.7" />
<rect x="170" y="265" width="14.50" height="31.30" fill="#fff" stroke="#111" stroke-width="1.7"/>
<line x1="170" y1="288" x2="184.5" y2="288" stroke="#111" stroke-width="1.6" />
<circle cx="177.30" cy="275.00" r="1.6" fill="#fff" stroke="#111" stroke-width="1.25"/>
<circle cx="172.00" cy="288.00" r="1.6" fill="#fff" stroke="#111" stroke-width="1.25"/>
<circle cx="177.00" cy="288.50" r="1.6" fill="#fff" stroke="#111" stroke-width="1.25"/>
<circle cx="180.50" cy="292.50" r="1.6" fill="#fff" stroke="#111" stroke-width="1.25"/>
<line x1="173.3" y1="256.3" x2="181.7" y2="256.3" stroke="#111" stroke-width="1.6" />
<circle cx="177.50" cy="256.30" r="1.7" fill="#111" stroke="#111" stroke-width="0.6"/>
<line x1="173.3" y1="299.3" x2="181.7" y2="299.3" stroke="#111" stroke-width="1.6" />
<circle cx="177.50" cy="299.30" r="1.7" fill="#111" stroke="#111" stroke-width="0.6"/>
<line x1="193.2" y1="260.8" x2="193.2" y2="288.8" stroke="#111" stroke-width="1.7" />
<line x1="193.2" y1="313.8" x2="193.2" y2="314.5" stroke="#111" stroke-width="1.7" />
<rect x="186.3" y="288.8" width="13.70" height="25.00" fill="#9c9c9c" stroke="#111" stroke-width="1.7"/>
<line x1="186.3" y1="305" x2="200" y2="305" stroke="#111" stroke-width="1.6" />
<path d="M196.50 283.93 L198.16 287.53 L194.84 287.53 Z" fill="none" stroke="#111" stroke-width="1.25" stroke-linejoin="miter"/>
<path d="M190.50 293.93 L192.16 297.53 L188.84 297.53 Z" fill="none" stroke="#111" stroke-width="1.25" stroke-linejoin="miter"/>
<path d="M193.50 297.93 L195.16 301.53 L191.84 301.53 Z" fill="none" stroke="#111" stroke-width="1.25" stroke-linejoin="miter"/>
<path d="M194.00 302.93 L195.66 306.53 L192.34 306.53 Z" fill="none" stroke="#111" stroke-width="1.25" stroke-linejoin="miter"/>
<path d="M190.00 306.93 L191.66 310.53 L188.34 310.53 Z" fill="none" stroke="#111" stroke-width="1.25" stroke-linejoin="miter"/>
<path d="M196.00 307.43 L197.66 311.03 L194.34 311.03 Z" fill="none" stroke="#111" stroke-width="1.25" stroke-linejoin="miter"/>
<path d="M193.00 309.93 L194.66 313.53 L191.34 313.53 Z" fill="none" stroke="#111" stroke-width="1.25" stroke-linejoin="miter"/>
<line x1="189.0" y1="260.8" x2="197.39999999999998" y2="260.8" stroke="#111" stroke-width="1.6" />
<path d="M193.20 258.48 L195.05 262.51 L191.35 262.51 Z" fill="#111" stroke="#111" stroke-width="0.9" stroke-linejoin="miter"/>
<text x="171.6" y="235" font-size="11.6"  text-anchor="start" fill="#111" >P=0.04</text>
<line x1="176.4" y1="243.8" x2="195.8" y2="243.8" stroke="#111" stroke-width="1.6" />
<line x1="233" y1="215.8" x2="233" y2="218.8" stroke="#111" stroke-width="1.7" />
<line x1="233" y1="303.8" x2="233" y2="307.5" stroke="#111" stroke-width="1.7" />
<rect x="225" y="218.8" width="14.50" height="85.00" fill="#fff" stroke="#111" stroke-width="1.7"/>
<line x1="225" y1="238.8" x2="239.5" y2="238.8" stroke="#111" stroke-width="1.6" />
<circle cx="233.00" cy="222.50" r="1.6" fill="#fff" stroke="#111" stroke-width="1.25"/>
<circle cx="232.80" cy="230.00" r="1.6" fill="#fff" stroke="#111" stroke-width="1.25"/>
<circle cx="233.00" cy="248.00" r="1.6" fill="#fff" stroke="#111" stroke-width="1.25"/>
<circle cx="232.80" cy="299.50" r="1.6" fill="#fff" stroke="#111" stroke-width="1.25"/>
<circle cx="237.00" cy="216.00" r="1.6" fill="#fff" stroke="#111" stroke-width="1.25"/>
<line x1="228.8" y1="215.8" x2="237.2" y2="215.8" stroke="#111" stroke-width="1.6" />
<circle cx="233.00" cy="215.80" r="1.7" fill="#111" stroke="#111" stroke-width="0.6"/>
<line x1="228.8" y1="307.5" x2="237.2" y2="307.5" stroke="#111" stroke-width="1.6" />
<circle cx="233.00" cy="307.50" r="1.7" fill="#111" stroke="#111" stroke-width="0.6"/>
<line x1="248.7" y1="258" x2="248.7" y2="273.8" stroke="#111" stroke-width="1.7" />
<line x1="248.7" y1="309.5" x2="248.7" y2="318.8" stroke="#111" stroke-width="1.7" />
<rect x="241.3" y="273.8" width="14.20" height="35.70" fill="#9c9c9c" stroke="#111" stroke-width="1.7"/>
<line x1="241.3" y1="305.5" x2="255.5" y2="305.5" stroke="#111" stroke-width="1.6" />
<path d="M252.30 264.43 L253.96 268.03 L250.64 268.03 Z" fill="none" stroke="#111" stroke-width="1.25" stroke-linejoin="miter"/>
<path d="M248.50 278.43 L250.16 282.03 L246.84 282.03 Z" fill="none" stroke="#111" stroke-width="1.25" stroke-linejoin="miter"/>
<path d="M252.50 295.43 L254.16 299.03 L250.84 299.03 Z" fill="none" stroke="#111" stroke-width="1.25" stroke-linejoin="miter"/>
<path d="M250.50 298.93 L252.16 302.53 L248.84 302.53 Z" fill="none" stroke="#111" stroke-width="1.25" stroke-linejoin="miter"/>
<path d="M245.50 301.93 L247.16 305.53 L243.84 305.53 Z" fill="none" stroke="#111" stroke-width="1.25" stroke-linejoin="miter"/>
<path d="M251.00 303.43 L252.66 307.03 L249.34 307.03 Z" fill="none" stroke="#111" stroke-width="1.25" stroke-linejoin="miter"/>
<path d="M247.00 305.93 L248.66 309.53 L245.34 309.53 Z" fill="none" stroke="#111" stroke-width="1.25" stroke-linejoin="miter"/>
<path d="M252.00 306.93 L253.66 310.53 L250.34 310.53 Z" fill="none" stroke="#111" stroke-width="1.25" stroke-linejoin="miter"/>
<path d="M246.50 315.93 L248.16 319.53 L244.84 319.53 Z" fill="none" stroke="#111" stroke-width="1.25" stroke-linejoin="miter"/>
<path d="M251.50 315.43 L253.16 319.03 L249.84 319.03 Z" fill="none" stroke="#111" stroke-width="1.25" stroke-linejoin="miter"/>
<line x1="244.5" y1="258" x2="252.89999999999998" y2="258" stroke="#111" stroke-width="1.6" />
<path d="M248.70 255.68 L250.55 259.71 L246.85 259.71 Z" fill="#111" stroke="#111" stroke-width="0.9" stroke-linejoin="miter"/>
<line x1="244.5" y1="318.8" x2="252.89999999999998" y2="318.8" stroke="#111" stroke-width="1.6" />
<path d="M248.70 316.48 L250.55 320.51 L246.85 320.51 Z" fill="#111" stroke="#111" stroke-width="0.9" stroke-linejoin="miter"/>
<text x="230.5" y="195" font-size="11.6"  text-anchor="start" fill="#111" >P=0.04</text>
<line x1="234.3" y1="202.6" x2="253.5" y2="202.6" stroke="#111" stroke-width="1.6" />
<line x1="288.8" y1="224.3" x2="288.8" y2="298" stroke="#111" stroke-width="1.7" />
<line x1="281.0" y1="250" x2="296.6" y2="250" stroke="#111" stroke-width="1.6" />
<line x1="285.2" y1="224.3" x2="292.40000000000003" y2="224.3" stroke="#111" stroke-width="1.6" />
<circle cx="288.80" cy="224.30" r="1.7" fill="#111" stroke="#111" stroke-width="0.6"/>
<line x1="285.2" y1="298" x2="292.40000000000003" y2="298" stroke="#111" stroke-width="1.6" />
<circle cx="288.80" cy="298.00" r="1.7" fill="#111" stroke="#111" stroke-width="0.6"/>
<circle cx="288.80" cy="250.00" r="1.7" fill="#111" stroke="#111" stroke-width="0.6"/>
<line x1="305" y1="303.8" x2="305" y2="315.5" stroke="#111" stroke-width="1.7" />
<line x1="297.5" y1="310.5" x2="312.5" y2="310.5" stroke="#111" stroke-width="1.6" />
<path d="M308.50 306.93 L310.16 310.53 L306.84 310.53 Z" fill="none" stroke="#111" stroke-width="1.25" stroke-linejoin="miter"/>
<path d="M303.50 312.93 L305.16 316.53 L301.84 316.53 Z" fill="none" stroke="#111" stroke-width="1.25" stroke-linejoin="miter"/>
<line x1="301.4" y1="303.8" x2="308.6" y2="303.8" stroke="#111" stroke-width="1.6" />
<path d="M305.00 301.48 L306.85 305.51 L303.15 305.51 Z" fill="#111" stroke="#111" stroke-width="0.9" stroke-linejoin="miter"/>
<line x1="301.4" y1="315.5" x2="308.6" y2="315.5" stroke="#111" stroke-width="1.6" />
<path d="M305.00 313.18 L306.85 317.21 L303.15 317.21 Z" fill="#111" stroke="#111" stroke-width="0.9" stroke-linejoin="miter"/>
<text x="189.5" y="335" font-size="11.4" font-weight="bold" text-anchor="middle" fill="#111" >Spleen</text>
<text x="244.3" y="335" font-size="11.4" font-weight="bold" text-anchor="middle" fill="#111" >Axillary</text>
<text x="243.8" y="347" font-size="11.4" font-weight="bold" text-anchor="middle" fill="#111" >LN</text>
<text x="298" y="335" font-size="11.4" font-weight="bold" text-anchor="middle" fill="#111" >Inguinal</text>
<text x="299.5" y="347.3" font-size="11.4" font-weight="bold" text-anchor="middle" fill="#111" >LN</text>
<line x1="346.3" y1="199.2" x2="346.3" y2="318.8" stroke="#111" stroke-width="2.0" />
<line x1="342.8" y1="318.0" x2="347.3" y2="318.0" stroke="#111" stroke-width="1.6" />
<text transform="translate(342.0,321.312) scale(0.88,1)" font-size="9.2" font-weight="bold" text-anchor="end" fill="#111" >0</text>
<line x1="342.8" y1="301.14" x2="347.3" y2="301.14" stroke="#111" stroke-width="1.6" />
<text transform="translate(342.0,304.452) scale(0.88,1)" font-size="9.2" font-weight="bold" text-anchor="end" fill="#111" >5</text>
<line x1="342.8" y1="284.28" x2="347.3" y2="284.28" stroke="#111" stroke-width="1.6" />
<text transform="translate(342.0,287.592) scale(0.88,1)" font-size="9.2" font-weight="bold" text-anchor="end" fill="#111" >10</text>
<line x1="342.8" y1="267.42" x2="347.3" y2="267.42" stroke="#111" stroke-width="1.6" />
<text transform="translate(342.0,270.732) scale(0.88,1)" font-size="9.2" font-weight="bold" text-anchor="end" fill="#111" >15</text>
<line x1="342.8" y1="250.56" x2="347.3" y2="250.56" stroke="#111" stroke-width="1.6" />
<text transform="translate(342.0,253.872) scale(0.88,1)" font-size="9.2" font-weight="bold" text-anchor="end" fill="#111" >20</text>
<line x1="342.8" y1="233.7" x2="347.3" y2="233.7" stroke="#111" stroke-width="1.6" />
<text transform="translate(342.0,237.012) scale(0.88,1)" font-size="9.2" font-weight="bold" text-anchor="end" fill="#111" >25</text>
<line x1="342.8" y1="216.84" x2="347.3" y2="216.84" stroke="#111" stroke-width="1.6" />
<text transform="translate(342.0,220.15200000000002) scale(0.88,1)" font-size="9.2" font-weight="bold" text-anchor="end" fill="#111" >30</text>
<line x1="342.8" y1="199.98000000000002" x2="347.3" y2="199.98000000000002" stroke="#111" stroke-width="1.6" />
<text transform="translate(342.0,203.29200000000003) scale(0.88,1)" font-size="9.2" font-weight="bold" text-anchor="end" fill="#111" >35</text>
<line x1="345.3" y1="318" x2="501.7" y2="318" stroke="#111" stroke-width="2.0" />
<line x1="360.4" y1="318" x2="360.4" y2="321.6" stroke="#111" stroke-width="1.6" />
<line x1="376.4" y1="318" x2="376.4" y2="321.6" stroke="#111" stroke-width="1.6" />
<line x1="415.8" y1="318" x2="415.8" y2="321.6" stroke="#111" stroke-width="1.6" />
<line x1="432.6" y1="318" x2="432.6" y2="321.6" stroke="#111" stroke-width="1.6" />
<line x1="471.8" y1="318" x2="471.8" y2="321.6" stroke="#111" stroke-width="1.6" />
<line x1="487.8" y1="318" x2="487.8" y2="321.6" stroke="#111" stroke-width="1.6" />
<line x1="360.2" y1="256" x2="360.2" y2="268.2" stroke="#111" stroke-width="1.7" />
<line x1="360.2" y1="313.8" x2="360.2" y2="314.5" stroke="#111" stroke-width="1.7" />
<rect x="353.3" y="268.2" width="13.60" height="45.60" fill="#fff" stroke="#111" stroke-width="1.7"/>
<line x1="353.3" y1="296.3" x2="366.9" y2="296.3" stroke="#111" stroke-width="1.6" />
<circle cx="359.80" cy="280.40" r="1.6" fill="#fff" stroke="#111" stroke-width="1.25"/>
<line x1="356.0" y1="256" x2="364.4" y2="256" stroke="#111" stroke-width="1.6" />
<circle cx="360.20" cy="256.00" r="1.7" fill="#111" stroke="#111" stroke-width="0.6"/>
<circle cx="358.50" cy="313.40" r="1.6" fill="#111" stroke="#111" stroke-width="0.5"/>
<circle cx="362.00" cy="313.40" r="1.6" fill="#111" stroke="#111" stroke-width="0.5"/>
<line x1="376.4" y1="230" x2="376.4" y2="273.5" stroke="#111" stroke-width="1.7" />
<line x1="376.4" y1="309" x2="376.4" y2="312.6" stroke="#111" stroke-width="1.7" />
<rect x="369.4" y="273.5" width="13.80" height="35.50" fill="#9c9c9c" stroke="#111" stroke-width="1.7"/>
<line x1="369.4" y1="301.2" x2="383.2" y2="301.2" stroke="#111" stroke-width="1.6" />
<path d="M378.60 227.23 L380.26 230.83 L376.94 230.83 Z" fill="none" stroke="#111" stroke-width="1.25" stroke-linejoin="miter"/>
<path d="M375.90 277.83 L377.56 281.43 L374.24 281.43 Z" fill="none" stroke="#111" stroke-width="1.25" stroke-linejoin="miter"/>
<path d="M378.60 287.33 L380.26 290.93 L376.94 290.93 Z" fill="none" stroke="#111" stroke-width="1.25" stroke-linejoin="miter"/>
<path d="M375.50 290.93 L377.16 294.53 L373.84 294.53 Z" fill="none" stroke="#111" stroke-width="1.25" stroke-linejoin="miter"/>
<path d="M379.50 296.43 L381.16 300.03 L377.84 300.03 Z" fill="none" stroke="#111" stroke-width="1.25" stroke-linejoin="miter"/>
<line x1="372.2" y1="230" x2="380.59999999999997" y2="230" stroke="#111" stroke-width="1.6" />
<path d="M376.40 227.68 L378.25 231.71 L374.55 231.71 Z" fill="#111" stroke="#111" stroke-width="0.9" stroke-linejoin="miter"/>
<line x1="367.8" y1="301.2" x2="376" y2="301.2" stroke="#111" stroke-width="1.5" />
<path d="M376.30 258.73 L377.96 262.33 L374.64 262.33 Z" fill="#111" stroke="#111" stroke-width="0.9" stroke-linejoin="miter"/>
<path d="M376.30 266.63 L377.96 270.23 L374.64 270.23 Z" fill="#111" stroke="#111" stroke-width="0.9" stroke-linejoin="miter"/>
<path d="M376.00 298.43 L377.66 302.03 L374.34 302.03 Z" fill="#111" stroke="#111" stroke-width="0.9" stroke-linejoin="miter"/>
<path d="M373.00 306.43 L374.66 310.03 L371.34 310.03 Z" fill="#111" stroke="#111" stroke-width="0.9" stroke-linejoin="miter"/>
<path d="M376.20 304.43 L377.86 308.03 L374.54 308.03 Z" fill="#111" stroke="#111" stroke-width="0.9" stroke-linejoin="miter"/>
<path d="M379.30 306.93 L380.96 310.53 L377.64 310.53 Z" fill="#111" stroke="#111" stroke-width="0.9" stroke-linejoin="miter"/>
<path d="M376.00 308.73 L377.66 312.33 L374.34 312.33 Z" fill="#111" stroke="#111" stroke-width="0.9" stroke-linejoin="miter"/>
<path d="M373.30 309.23 L374.96 312.83 L371.64 312.83 Z" fill="#111" stroke="#111" stroke-width="0.9" stroke-linejoin="miter"/>
<path d="M379.20 309.23 L380.86 312.83 L377.54 312.83 Z" fill="#111" stroke="#111" stroke-width="0.9" stroke-linejoin="miter"/>
<line x1="415.8" y1="238.8" x2="415.8" y2="251.2" stroke="#111" stroke-width="1.7" />
<line x1="415.8" y1="312.6" x2="415.8" y2="313.5" stroke="#111" stroke-width="1.7" />
<rect x="408.5" y="251.2" width="14.70" height="61.40" fill="#fff" stroke="#111" stroke-width="1.7"/>
<line x1="408.5" y1="301.6" x2="423.2" y2="301.6" stroke="#111" stroke-width="1.6" />
<circle cx="415.30" cy="262.00" r="1.6" fill="#fff" stroke="#111" stroke-width="1.25"/>
<circle cx="415.80" cy="301.50" r="1.6" fill="#fff" stroke="#111" stroke-width="1.25"/>
<circle cx="418.50" cy="310.50" r="1.6" fill="#fff" stroke="#111" stroke-width="1.25"/>
<circle cx="413.50" cy="312.00" r="1.6" fill="#fff" stroke="#111" stroke-width="1.25"/>
<line x1="411.6" y1="238.8" x2="420.0" y2="238.8" stroke="#111" stroke-width="1.6" />
<circle cx="415.80" cy="238.80" r="1.7" fill="#111" stroke="#111" stroke-width="0.6"/>
<line x1="432.6" y1="266.9" x2="432.6" y2="282.6" stroke="#111" stroke-width="1.7" />
<line x1="432.6" y1="311.9" x2="432.6" y2="318" stroke="#111" stroke-width="1.7" />
<rect x="425.7" y="282.6" width="13.90" height="29.30" fill="#9c9c9c" stroke="#111" stroke-width="1.7"/>
<line x1="425.7" y1="299.8" x2="439.6" y2="299.8" stroke="#111" stroke-width="1.6" />
<path d="M435.50 277.43 L437.16 281.03 L433.84 281.03 Z" fill="none" stroke="#111" stroke-width="1.25" stroke-linejoin="miter"/>
<path d="M432.50 286.93 L434.16 290.53 L430.84 290.53 Z" fill="none" stroke="#111" stroke-width="1.25" stroke-linejoin="miter"/>
<path d="M432.50 292.93 L434.16 296.53 L430.84 296.53 Z" fill="none" stroke="#111" stroke-width="1.25" stroke-linejoin="miter"/>
<path d="M432.50 301.93 L434.16 305.53 L430.84 305.53 Z" fill="none" stroke="#111" stroke-width="1.25" stroke-linejoin="miter"/>
<path d="M430.50 306.43 L432.16 310.03 L428.84 310.03 Z" fill="none" stroke="#111" stroke-width="1.25" stroke-linejoin="miter"/>
<path d="M434.50 307.93 L436.16 311.53 L432.84 311.53 Z" fill="none" stroke="#111" stroke-width="1.25" stroke-linejoin="miter"/>
<path d="M431.00 314.43 L432.66 318.03 L429.34 318.03 Z" fill="none" stroke="#111" stroke-width="1.25" stroke-linejoin="miter"/>
<line x1="428.40000000000003" y1="266.9" x2="436.8" y2="266.9" stroke="#111" stroke-width="1.6" />
<path d="M432.60 264.58 L434.45 268.61 L430.75 268.61 Z" fill="#111" stroke="#111" stroke-width="0.9" stroke-linejoin="miter"/>
<line x1="428.40000000000003" y1="318" x2="436.8" y2="318" stroke="#111" stroke-width="1.6" />
<path d="M432.60 315.68 L434.45 319.71 L430.75 319.71 Z" fill="#111" stroke="#111" stroke-width="0.9" stroke-linejoin="miter"/>
<line x1="471.8" y1="240.6" x2="471.8" y2="313.3" stroke="#111" stroke-width="1.7" />
<line x1="464.5" y1="305.3" x2="479.1" y2="305.3" stroke="#111" stroke-width="1.6" />
<line x1="468.2" y1="240.6" x2="475.40000000000003" y2="240.6" stroke="#111" stroke-width="1.6" />
<circle cx="471.80" cy="240.60" r="1.7" fill="#111" stroke="#111" stroke-width="0.6"/>
<line x1="468.2" y1="313.3" x2="475.40000000000003" y2="313.3" stroke="#111" stroke-width="1.6" />
<circle cx="471.80" cy="313.30" r="1.7" fill="#111" stroke="#111" stroke-width="0.6"/>
<circle cx="471.80" cy="305.30" r="1.7" fill="#111" stroke="#111" stroke-width="0.6"/>
<line x1="487.8" y1="238.8" x2="487.8" y2="251.6" stroke="#111" stroke-width="1.7" />
<line x1="487.8" y1="307.1" x2="487.8" y2="310.8" stroke="#111" stroke-width="1.7" />
<rect x="480.5" y="251.6" width="14.60" height="55.50" fill="#9c9c9c" stroke="#111" stroke-width="1.7"/>
<line x1="480.5" y1="280.4" x2="495.1" y2="280.4" stroke="#111" stroke-width="1.6" />
<path d="M487.80 262.43 L489.46 266.03 L486.14 266.03 Z" fill="none" stroke="#111" stroke-width="1.25" stroke-linejoin="miter"/>
<path d="M487.50 278.93 L489.16 282.53 L485.84 282.53 Z" fill="none" stroke="#111" stroke-width="1.25" stroke-linejoin="miter"/>
<path d="M487.80 300.43 L489.46 304.03 L486.14 304.03 Z" fill="none" stroke="#111" stroke-width="1.25" stroke-linejoin="miter"/>
<line x1="483.6" y1="238.8" x2="492.0" y2="238.8" stroke="#111" stroke-width="1.6" />
<path d="M487.80 236.48 L489.65 240.51 L485.95 240.51 Z" fill="#111" stroke="#111" stroke-width="0.9" stroke-linejoin="miter"/>
<line x1="483.6" y1="310.8" x2="492.0" y2="310.8" stroke="#111" stroke-width="1.6" />
<path d="M487.80 308.48 L489.65 312.51 L485.95 312.51 Z" fill="#111" stroke="#111" stroke-width="0.9" stroke-linejoin="miter"/>
<text x="376.6" y="333.6" font-size="11.4" font-weight="bold" text-anchor="middle" fill="#111" >Mesenteric</text>
<text x="375.7" y="345.7" font-size="11.4" font-weight="bold" text-anchor="middle" fill="#111" >LN</text>
<text x="429.7" y="334.6" font-size="11.4" font-weight="bold" text-anchor="middle" fill="#111" >Colonic</text>
<text x="428" y="347.4" font-size="11.4" font-weight="bold" text-anchor="middle" fill="#111" >LN</text>
<text x="483.8" y="332.8" font-size="11.4" font-weight="bold" text-anchor="middle" fill="#111" >Iliac</text>
<text x="486.4" y="344.8" font-size="11.4" font-weight="bold" text-anchor="middle" fill="#111" >LN</text>
<text transform="translate(53.2,445.15) rotate(-90)" font-size="9.4" font-weight="bold" text-anchor="middle" textLength="86.7" lengthAdjust="spacing" fill="#111">% of HLA-DR+ LIN-</text>
<line x1="69.6" y1="384.5" x2="69.6" y2="503.3" stroke="#111" stroke-width="2.0" />
<line x1="66.1" y1="502.5" x2="70.6" y2="502.5" stroke="#111" stroke-width="1.6" />
<text transform="translate(65.3,505.812) scale(0.88,1)" font-size="9.2" font-weight="bold" text-anchor="end" fill="#111" >0</text>
<line x1="66.1" y1="489.48" x2="70.6" y2="489.48" stroke="#111" stroke-width="1.6" />
<text transform="translate(65.3,492.79200000000003) scale(0.88,1)" font-size="9.2" font-weight="bold" text-anchor="end" fill="#111" >10</text>
<line x1="66.1" y1="476.46" x2="70.6" y2="476.46" stroke="#111" stroke-width="1.6" />
<text transform="translate(65.3,479.772) scale(0.88,1)" font-size="9.2" font-weight="bold" text-anchor="end" fill="#111" >20</text>
<line x1="66.1" y1="463.44" x2="70.6" y2="463.44" stroke="#111" stroke-width="1.6" />
<text transform="translate(65.3,466.752) scale(0.88,1)" font-size="9.2" font-weight="bold" text-anchor="end" fill="#111" >30</text>
<line x1="66.1" y1="450.42" x2="70.6" y2="450.42" stroke="#111" stroke-width="1.6" />
<text transform="translate(65.3,453.732) scale(0.88,1)" font-size="9.2" font-weight="bold" text-anchor="end" fill="#111" >40</text>
<line x1="66.1" y1="437.4" x2="70.6" y2="437.4" stroke="#111" stroke-width="1.6" />
<text transform="translate(65.3,440.712) scale(0.88,1)" font-size="9.2" font-weight="bold" text-anchor="end" fill="#111" >50</text>
<line x1="66.1" y1="424.38" x2="70.6" y2="424.38" stroke="#111" stroke-width="1.6" />
<text transform="translate(65.3,427.692) scale(0.88,1)" font-size="9.2" font-weight="bold" text-anchor="end" fill="#111" >60</text>
<line x1="66.1" y1="411.36" x2="70.6" y2="411.36" stroke="#111" stroke-width="1.6" />
<text transform="translate(65.3,414.672) scale(0.88,1)" font-size="9.2" font-weight="bold" text-anchor="end" fill="#111" >70</text>
<line x1="66.1" y1="398.34000000000003" x2="70.6" y2="398.34000000000003" stroke="#111" stroke-width="1.6" />
<text transform="translate(65.3,401.65200000000004) scale(0.88,1)" font-size="9.2" font-weight="bold" text-anchor="end" fill="#111" >80</text>
<line x1="66.1" y1="385.32" x2="70.6" y2="385.32" stroke="#111" stroke-width="1.6" />
<text transform="translate(65.3,388.632) scale(0.88,1)" font-size="9.2" font-weight="bold" text-anchor="end" fill="#111" >90</text>
<line x1="68.6" y1="502.5" x2="140" y2="502.5" stroke="#111" stroke-width="2.0" />
<line x1="88" y1="502.5" x2="88" y2="506.3" stroke="#111" stroke-width="1.6" />
<line x1="111.7" y1="502.5" x2="111.7" y2="506.3" stroke="#111" stroke-width="1.6" />
<line x1="88" y1="402.3" x2="88" y2="406.3" stroke="#111" stroke-width="1.7" />
<line x1="88" y1="454" x2="88" y2="458.9" stroke="#111" stroke-width="1.7" />
<rect x="78.9" y="406.3" width="18.00" height="47.70" fill="#fff" stroke="#111" stroke-width="1.7"/>
<line x1="78.9" y1="437.3" x2="96.9" y2="437.3" stroke="#111" stroke-width="1.6" />
<circle cx="87.50" cy="410.50" r="1.6" fill="#fff" stroke="#111" stroke-width="1.25"/>
<circle cx="87.80" cy="432.50" r="1.6" fill="#fff" stroke="#111" stroke-width="1.25"/>
<circle cx="81.50" cy="442.00" r="1.6" fill="#fff" stroke="#111" stroke-width="1.25"/>
<circle cx="88.00" cy="448.50" r="1.6" fill="#fff" stroke="#111" stroke-width="1.25"/>
<line x1="83.8" y1="402.3" x2="92.2" y2="402.3" stroke="#111" stroke-width="1.6" />
<circle cx="88.00" cy="402.30" r="1.7" fill="#111" stroke="#111" stroke-width="0.6"/>
<line x1="83.8" y1="458.9" x2="92.2" y2="458.9" stroke="#111" stroke-width="1.6" />
<circle cx="88.00" cy="458.90" r="1.7" fill="#111" stroke="#111" stroke-width="0.6"/>
<line x1="111.7" y1="396.1" x2="111.7" y2="404.2" stroke="#111" stroke-width="1.7" />
<line x1="111.7" y1="483.1" x2="111.7" y2="488.5" stroke="#111" stroke-width="1.7" />
<rect x="103.7" y="404.2" width="17.50" height="78.90" fill="#9c9c9c" stroke="#111" stroke-width="1.7"/>
<line x1="103.7" y1="431.1" x2="121.2" y2="431.1" stroke="#111" stroke-width="1.6" />
<path d="M117.50 394.43 L119.16 398.03 L115.84 398.03 Z" fill="none" stroke="#111" stroke-width="1.25" stroke-linejoin="miter"/>
<path d="M106.00 408.93 L107.66 412.53 L104.34 412.53 Z" fill="none" stroke="#111" stroke-width="1.25" stroke-linejoin="miter"/>
<path d="M112.00 409.93 L113.66 413.53 L110.34 413.53 Z" fill="none" stroke="#111" stroke-width="1.25" stroke-linejoin="miter"/>
<path d="M117.80 425.93 L119.46 429.53 L116.14 429.53 Z" fill="none" stroke="#111" stroke-width="1.25" stroke-linejoin="miter"/>
<path d="M111.50 432.93 L113.16 436.53 L109.84 436.53 Z" fill="none" stroke="#111" stroke-width="1.25" stroke-linejoin="miter"/>
<path d="M106.00 472.93 L107.66 476.53 L104.34 476.53 Z" fill="none" stroke="#111" stroke-width="1.25" stroke-linejoin="miter"/>
<path d="M111.50 476.43 L113.16 480.03 L109.84 480.03 Z" fill="none" stroke="#111" stroke-width="1.25" stroke-linejoin="miter"/>
<path d="M117.50 485.93 L119.16 489.53 L115.84 489.53 Z" fill="none" stroke="#111" stroke-width="1.25" stroke-linejoin="miter"/>
<path d="M111.50 486.93 L113.16 490.53 L109.84 490.53 Z" fill="none" stroke="#111" stroke-width="1.25" stroke-linejoin="miter"/>
<line x1="107.5" y1="396.1" x2="115.9" y2="396.1" stroke="#111" stroke-width="1.6" />
<path d="M111.70 393.78 L113.55 397.81 L109.85 397.81 Z" fill="#111" stroke="#111" stroke-width="0.9" stroke-linejoin="miter"/>
<line x1="107.5" y1="488.5" x2="115.9" y2="488.5" stroke="#111" stroke-width="1.6" />
<path d="M111.70 486.18 L113.55 490.21 L109.85 490.21 Z" fill="#111" stroke="#111" stroke-width="0.9" stroke-linejoin="miter"/>
<text x="102.3" y="518" font-size="11.4" font-weight="bold" text-anchor="middle" fill="#111" >Blood</text>
<line x1="169.5" y1="383.6" x2="169.5" y2="410" stroke="#111" stroke-width="2.0" />
<line x1="169.5" y1="419.5" x2="169.5" y2="502.5" stroke="#111" stroke-width="2.0" />
<line x1="166.0" y1="501.7" x2="170.5" y2="501.7" stroke="#111" stroke-width="1.6" />
<text transform="translate(165.2,505.012) scale(0.88,1)" font-size="9.2" font-weight="bold" text-anchor="end" fill="#111" >0</text>
<line x1="166.0" y1="483.09999999999997" x2="170.5" y2="483.09999999999997" stroke="#111" stroke-width="1.6" />
<text transform="translate(165.2,486.412) scale(0.88,1)" font-size="9.2" font-weight="bold" text-anchor="end" fill="#111" >5</text>
<line x1="166.0" y1="464.5" x2="170.5" y2="464.5" stroke="#111" stroke-width="1.6" />
<text transform="translate(165.2,467.812) scale(0.88,1)" font-size="9.2" font-weight="bold" text-anchor="end" fill="#111" >10</text>
<line x1="166.0" y1="445.9" x2="170.5" y2="445.9" stroke="#111" stroke-width="1.6" />
<text transform="translate(165.2,449.212) scale(0.88,1)" font-size="9.2" font-weight="bold" text-anchor="end" fill="#111" >15</text>
<line x1="166.0" y1="427.29999999999995" x2="170.5" y2="427.29999999999995" stroke="#111" stroke-width="1.6" />
<text transform="translate(165.2,430.61199999999997) scale(0.88,1)" font-size="9.2" font-weight="bold" text-anchor="end" fill="#111" >20</text>
<line x1="166.0" y1="405.8" x2="170.5" y2="405.8" stroke="#111" stroke-width="1.6" />
<text transform="translate(165.2,409.112) scale(0.88,1)" font-size="9.2" font-weight="bold" text-anchor="end" fill="#111" >30</text>
<line x1="166.0" y1="395.05" x2="170.5" y2="395.05" stroke="#111" stroke-width="1.6" />
<text transform="translate(165.2,398.362) scale(0.88,1)" font-size="9.2" font-weight="bold" text-anchor="end" fill="#111" >40</text>
<line x1="166.0" y1="384.3" x2="170.5" y2="384.3" stroke="#111" stroke-width="1.6" />
<text transform="translate(165.2,387.612) scale(0.88,1)" font-size="9.2" font-weight="bold" text-anchor="end" fill="#111" >50</text>
<line x1="166.0" y1="410" x2="171.6" y2="410" stroke="#111" stroke-width="1.6" />
<line x1="166.0" y1="419.5" x2="171.6" y2="419.5" stroke="#111" stroke-width="1.6" />
<line x1="168.5" y1="501.7" x2="325" y2="501.7" stroke="#111" stroke-width="2.0" />
<line x1="182.5" y1="501.7" x2="182.5" y2="505.3" stroke="#111" stroke-width="1.6" />
<line x1="198.8" y1="501.7" x2="198.8" y2="505.3" stroke="#111" stroke-width="1.6" />
<line x1="238.3" y1="501.7" x2="238.3" y2="505.3" stroke="#111" stroke-width="1.6" />
<line x1="254.3" y1="501.7" x2="254.3" y2="505.3" stroke="#111" stroke-width="1.6" />
<line x1="294.5" y1="501.7" x2="294.5" y2="505.3" stroke="#111" stroke-width="1.6" />
<line x1="310" y1="501.7" x2="310" y2="505.3" stroke="#111" stroke-width="1.6" />
<line x1="182.5" y1="400.5" x2="182.5" y2="405.8" stroke="#111" stroke-width="1.7" />
<line x1="182.5" y1="468.8" x2="182.5" y2="473.8" stroke="#111" stroke-width="1.7" />
<rect x="175" y="405.8" width="14.50" height="4.20" fill="#fff" stroke="none"/>
<path d="M175 410 L175 405.8 L189.5 405.8 L189.5 410" fill="none" stroke="#111" stroke-width="1.7"/>
<rect x="175" y="419.5" width="14.50" height="49.30" fill="#fff" stroke="none"/>
<path d="M175 419.5 L175 468.8 L189.5 468.8 L189.5 419.5" fill="none" stroke="#111" stroke-width="1.7"/>
<line x1="175" y1="427" x2="189.5" y2="427" stroke="#111" stroke-width="1.6" />
<circle cx="185.00" cy="425.50" r="1.6" fill="#fff" stroke="#111" stroke-width="1.25"/>
<circle cx="182.30" cy="462.50" r="1.6" fill="#fff" stroke="#111" stroke-width="1.25"/>
<line x1="178.3" y1="400.5" x2="186.7" y2="400.5" stroke="#111" stroke-width="1.6" />
<circle cx="182.50" cy="400.50" r="1.7" fill="#111" stroke="#111" stroke-width="0.6"/>
<line x1="178.3" y1="473.8" x2="186.7" y2="473.8" stroke="#111" stroke-width="1.6" />
<circle cx="182.50" cy="473.80" r="1.7" fill="#111" stroke="#111" stroke-width="0.6"/>
<line x1="198.8" y1="390.5" x2="198.8" y2="405.8" stroke="#111" stroke-width="1.7" />
<line x1="198.8" y1="486.3" x2="198.8" y2="498.8" stroke="#111" stroke-width="1.7" />
<rect x="191.3" y="405.8" width="14.20" height="4.20" fill="#eee" stroke="none"/>
<path d="M191.3 410 L191.3 405.8 L205.5 405.8 L205.5 410" fill="none" stroke="#111" stroke-width="1.7"/>
<rect x="191.3" y="419.5" width="14.20" height="66.80" fill="#b9b9b9" stroke="none"/>
<path d="M191.3 419.5 L191.3 486.3 L205.5 486.3 L205.5 419.5" fill="none" stroke="#111" stroke-width="1.7"/>
<line x1="191.3" y1="478" x2="205.5" y2="478" stroke="#111" stroke-width="1.6" />
<path d="M192.50 402.43 L194.16 406.03 L190.84 406.03 Z" fill="none" stroke="#111" stroke-width="1.25" stroke-linejoin="miter"/>
<path d="M199.00 403.93 L200.66 407.53 L197.34 407.53 Z" fill="none" stroke="#111" stroke-width="1.25" stroke-linejoin="miter"/>
<path d="M195.50 472.43 L197.16 476.03 L193.84 476.03 Z" fill="none" stroke="#111" stroke-width="1.25" stroke-linejoin="miter"/>
<path d="M201.50 472.43 L203.16 476.03 L199.84 476.03 Z" fill="none" stroke="#111" stroke-width="1.25" stroke-linejoin="miter"/>
<path d="M198.50 477.43 L200.16 481.03 L196.84 481.03 Z" fill="none" stroke="#111" stroke-width="1.25" stroke-linejoin="miter"/>
<path d="M192.00 481.93 L193.66 485.53 L190.34 485.53 Z" fill="none" stroke="#111" stroke-width="1.25" stroke-linejoin="miter"/>
<path d="M198.80 486.93 L200.46 490.53 L197.14 490.53 Z" fill="none" stroke="#111" stroke-width="1.25" stroke-linejoin="miter"/>
<line x1="194.60000000000002" y1="390.5" x2="203.0" y2="390.5" stroke="#111" stroke-width="1.6" />
<path d="M198.80 388.18 L200.65 392.21 L196.95 392.21 Z" fill="#111" stroke="#111" stroke-width="0.9" stroke-linejoin="miter"/>
<line x1="194.60000000000002" y1="498.8" x2="203.0" y2="498.8" stroke="#111" stroke-width="1.6" />
<path d="M198.80 496.48 L200.65 500.51 L196.95 500.51 Z" fill="#111" stroke="#111" stroke-width="0.9" stroke-linejoin="miter"/>
<line x1="238.3" y1="447" x2="238.3" y2="464.5" stroke="#111" stroke-width="1.7" />
<line x1="238.3" y1="497.5" x2="238.3" y2="498.8" stroke="#111" stroke-width="1.7" />
<rect x="231.3" y="464.5" width="13.70" height="33.00" fill="#fff" stroke="#111" stroke-width="1.7"/>
<line x1="231.3" y1="490.8" x2="245" y2="490.8" stroke="#111" stroke-width="1.6" />
<circle cx="238.30" cy="481.50" r="1.6" fill="#fff" stroke="#111" stroke-width="1.25"/>
<circle cx="238.50" cy="489.00" r="1.6" fill="#fff" stroke="#111" stroke-width="1.25"/>
<circle cx="235.50" cy="492.50" r="1.6" fill="#fff" stroke="#111" stroke-width="1.25"/>
<circle cx="241.50" cy="496.00" r="1.6" fill="#fff" stroke="#111" stroke-width="1.25"/>
<circle cx="238.00" cy="497.00" r="1.6" fill="#fff" stroke="#111" stroke-width="1.25"/>
<line x1="234.10000000000002" y1="447" x2="242.5" y2="447" stroke="#111" stroke-width="1.6" />
<circle cx="238.30" cy="447.00" r="1.7" fill="#111" stroke="#111" stroke-width="0.6"/>
<line x1="234.10000000000002" y1="498.8" x2="242.5" y2="498.8" stroke="#111" stroke-width="1.6" />
<circle cx="238.30" cy="498.80" r="1.7" fill="#111" stroke="#111" stroke-width="0.6"/>
<line x1="254.3" y1="465" x2="254.3" y2="485" stroke="#111" stroke-width="1.7" />
<line x1="254.3" y1="499.3" x2="254.3" y2="501" stroke="#111" stroke-width="1.7" />
<rect x="247.5" y="485" width="13.80" height="14.30" fill="#9c9c9c" stroke="#111" stroke-width="1.7"/>
<line x1="247.5" y1="492.5" x2="261.3" y2="492.5" stroke="#111" stroke-width="1.6" />
<path d="M257.50 476.43 L259.16 480.03 L255.84 480.03 Z" fill="none" stroke="#111" stroke-width="1.25" stroke-linejoin="miter"/>
<path d="M254.50 482.43 L256.16 486.03 L252.84 486.03 Z" fill="none" stroke="#111" stroke-width="1.25" stroke-linejoin="miter"/>
<path d="M251.50 487.43 L253.16 491.03 L249.84 491.03 Z" fill="none" stroke="#111" stroke-width="1.25" stroke-linejoin="miter"/>
<path d="M256.50 487.93 L258.16 491.53 L254.84 491.53 Z" fill="none" stroke="#111" stroke-width="1.25" stroke-linejoin="miter"/>
<path d="M253.00 490.93 L254.66 494.53 L251.34 494.53 Z" fill="none" stroke="#111" stroke-width="1.25" stroke-linejoin="miter"/>
<path d="M257.50 491.93 L259.16 495.53 L255.84 495.53 Z" fill="none" stroke="#111" stroke-width="1.25" stroke-linejoin="miter"/>
<path d="M250.50 494.43 L252.16 498.03 L248.84 498.03 Z" fill="none" stroke="#111" stroke-width="1.25" stroke-linejoin="miter"/>
<path d="M255.00 495.43 L256.66 499.03 L253.34 499.03 Z" fill="none" stroke="#111" stroke-width="1.25" stroke-linejoin="miter"/>
<path d="M258.50 495.93 L260.16 499.53 L256.84 499.53 Z" fill="none" stroke="#111" stroke-width="1.25" stroke-linejoin="miter"/>
<path d="M252.50 497.93 L254.16 501.53 L250.84 501.53 Z" fill="none" stroke="#111" stroke-width="1.25" stroke-linejoin="miter"/>
<line x1="250.10000000000002" y1="465" x2="258.5" y2="465" stroke="#111" stroke-width="1.6" />
<path d="M254.30 462.68 L256.15 466.71 L252.45 466.71 Z" fill="#111" stroke="#111" stroke-width="0.9" stroke-linejoin="miter"/>
<line x1="294.5" y1="434.5" x2="294.5" y2="495" stroke="#111" stroke-width="1.7" />
<line x1="287.2" y1="490.8" x2="301.8" y2="490.8" stroke="#111" stroke-width="1.6" />
<circle cx="297.50" cy="489.50" r="1.6" fill="#fff" stroke="#111" stroke-width="1.25"/>
<line x1="290.9" y1="434.5" x2="298.1" y2="434.5" stroke="#111" stroke-width="1.6" />
<circle cx="294.50" cy="434.50" r="1.7" fill="#111" stroke="#111" stroke-width="0.6"/>
<line x1="290.9" y1="495" x2="298.1" y2="495" stroke="#111" stroke-width="1.6" />
<circle cx="294.50" cy="495.00" r="1.7" fill="#111" stroke="#111" stroke-width="0.6"/>
<circle cx="294.50" cy="490.80" r="1.7" fill="#111" stroke="#111" stroke-width="0.6"/>
<line x1="310" y1="458.3" x2="310" y2="497.5" stroke="#111" stroke-width="1.7" />
<line x1="303" y1="491.3" x2="317" y2="491.3" stroke="#111" stroke-width="1.6" />
<path d="M313.50 487.93 L315.16 491.53 L311.84 491.53 Z" fill="none" stroke="#111" stroke-width="1.25" stroke-linejoin="miter"/>
<line x1="306.4" y1="458.3" x2="313.6" y2="458.3" stroke="#111" stroke-width="1.6" />
<path d="M310.00 455.98 L311.85 460.01 L308.15 460.01 Z" fill="#111" stroke="#111" stroke-width="0.9" stroke-linejoin="miter"/>
<line x1="306.4" y1="497.5" x2="313.6" y2="497.5" stroke="#111" stroke-width="1.6" />
<path d="M310.00 495.18 L311.85 499.21 L308.15 499.21 Z" fill="#111" stroke="#111" stroke-width="0.9" stroke-linejoin="miter"/>
<path d="M254.30 495.43 L255.96 499.03 L252.64 499.03 Z" fill="#111" stroke="#111" stroke-width="0.9" stroke-linejoin="miter"/>
<path d="M251.60 497.23 L253.26 500.83 L249.94 500.83 Z" fill="#111" stroke="#111" stroke-width="0.9" stroke-linejoin="miter"/>
<path d="M257.00 497.23 L258.66 500.83 L255.34 500.83 Z" fill="#111" stroke="#111" stroke-width="0.9" stroke-linejoin="miter"/>
<text x="193" y="518.3" font-size="11.4" font-weight="bold" text-anchor="middle" fill="#111" >Spleen</text>
<text x="248.3" y="518.3" font-size="11.4" font-weight="bold" text-anchor="middle" fill="#111" >Axillary</text>
<text x="248.3" y="531.3" font-size="11.4" font-weight="bold" text-anchor="middle" fill="#111" >LN</text>
<text x="303.3" y="518.3" font-size="11.4" font-weight="bold" text-anchor="middle" fill="#111" >Inguinal</text>
<text x="305" y="531.8" font-size="11.4" font-weight="bold" text-anchor="middle" fill="#111" >LN</text>
<line x1="352.5" y1="383" x2="352.5" y2="410" stroke="#111" stroke-width="2.0" />
<line x1="352.5" y1="419.5" x2="352.5" y2="502" stroke="#111" stroke-width="2.0" />
<line x1="349.0" y1="501.3" x2="353.5" y2="501.3" stroke="#111" stroke-width="1.6" />
<text transform="translate(348.2,504.612) scale(0.88,1)" font-size="9.2" font-weight="bold" text-anchor="end" fill="#111" >0</text>
<line x1="349.0" y1="482.7" x2="353.5" y2="482.7" stroke="#111" stroke-width="1.6" />
<text transform="translate(348.2,486.012) scale(0.88,1)" font-size="9.2" font-weight="bold" text-anchor="end" fill="#111" >5</text>
<line x1="349.0" y1="464.1" x2="353.5" y2="464.1" stroke="#111" stroke-width="1.6" />
<text transform="translate(348.2,467.41200000000003) scale(0.88,1)" font-size="9.2" font-weight="bold" text-anchor="end" fill="#111" >10</text>
<line x1="349.0" y1="445.5" x2="353.5" y2="445.5" stroke="#111" stroke-width="1.6" />
<text transform="translate(348.2,448.812) scale(0.88,1)" font-size="9.2" font-weight="bold" text-anchor="end" fill="#111" >15</text>
<line x1="349.0" y1="426.9" x2="353.5" y2="426.9" stroke="#111" stroke-width="1.6" />
<text transform="translate(348.2,430.212) scale(0.88,1)" font-size="9.2" font-weight="bold" text-anchor="end" fill="#111" >20</text>
<line x1="349.0" y1="405.2" x2="353.5" y2="405.2" stroke="#111" stroke-width="1.6" />
<text transform="translate(348.2,408.512) scale(0.88,1)" font-size="9.2" font-weight="bold" text-anchor="end" fill="#111" >30</text>
<line x1="349.0" y1="394.45" x2="353.5" y2="394.45" stroke="#111" stroke-width="1.6" />
<text transform="translate(348.2,397.762) scale(0.88,1)" font-size="9.2" font-weight="bold" text-anchor="end" fill="#111" >40</text>
<line x1="349.0" y1="383.7" x2="353.5" y2="383.7" stroke="#111" stroke-width="1.6" />
<text transform="translate(348.2,387.012) scale(0.88,1)" font-size="9.2" font-weight="bold" text-anchor="end" fill="#111" >50</text>
<line x1="349.0" y1="410" x2="354.6" y2="410" stroke="#111" stroke-width="1.6" />
<line x1="349.0" y1="419.5" x2="354.6" y2="419.5" stroke="#111" stroke-width="1.6" />
<line x1="351.5" y1="501.3" x2="507.9" y2="501.3" stroke="#111" stroke-width="2.0" />
<line x1="365.7" y1="501.3" x2="365.7" y2="504.90000000000003" stroke="#111" stroke-width="1.6" />
<line x1="381.9" y1="501.3" x2="381.9" y2="504.90000000000003" stroke="#111" stroke-width="1.6" />
<line x1="421.3" y1="501.3" x2="421.3" y2="504.90000000000003" stroke="#111" stroke-width="1.6" />
<line x1="437.3" y1="501.3" x2="437.3" y2="504.90000000000003" stroke="#111" stroke-width="1.6" />
<line x1="477.4" y1="501.3" x2="477.4" y2="504.90000000000003" stroke="#111" stroke-width="1.6" />
<line x1="492.8" y1="501.3" x2="492.8" y2="504.90000000000003" stroke="#111" stroke-width="1.6" />
<line x1="365.7" y1="477.1" x2="365.7" y2="484" stroke="#111" stroke-width="1.7" />
<line x1="365.7" y1="496.2" x2="365.7" y2="497" stroke="#111" stroke-width="1.7" />
<rect x="359" y="484" width="13.20" height="12.20" fill="#fff" stroke="#111" stroke-width="1.7"/>
<line x1="359" y1="493.4" x2="372.2" y2="493.4" stroke="#111" stroke-width="1.6" />
<circle cx="362.50" cy="490.50" r="1.6" fill="#fff" stroke="#111" stroke-width="1.25"/>
<circle cx="366.00" cy="495.50" r="1.6" fill="#fff" stroke="#111" stroke-width="1.25"/>
<circle cx="369.50" cy="494.50" r="1.6" fill="#fff" stroke="#111" stroke-width="1.25"/>
<line x1="361.5" y1="477.1" x2="369.9" y2="477.1" stroke="#111" stroke-width="1.6" />
<circle cx="365.70" cy="477.10" r="1.7" fill="#111" stroke="#111" stroke-width="0.6"/>
<line x1="381.9" y1="479.5" x2="381.9" y2="483" stroke="#111" stroke-width="1.7" />
<line x1="381.9" y1="497.9" x2="381.9" y2="500.5" stroke="#111" stroke-width="1.7" />
<rect x="375.7" y="483" width="12.80" height="14.90" fill="#bababa" stroke="#111" stroke-width="1.7"/>
<line x1="375.7" y1="491" x2="388.5" y2="491" stroke="#111" stroke-width="1.6" />
<path d="M378.50 478.43 L380.16 482.03 L376.84 482.03 Z" fill="none" stroke="#111" stroke-width="1.25" stroke-linejoin="miter"/>
<path d="M384.50 478.43 L386.16 482.03 L382.84 482.03 Z" fill="none" stroke="#111" stroke-width="1.25" stroke-linejoin="miter"/>
<path d="M381.80 483.43 L383.46 487.03 L380.14 487.03 Z" fill="none" stroke="#111" stroke-width="1.25" stroke-linejoin="miter"/>
<path d="M385.00 485.93 L386.66 489.53 L383.34 489.53 Z" fill="none" stroke="#111" stroke-width="1.25" stroke-linejoin="miter"/>
<path d="M379.00 487.43 L380.66 491.03 L377.34 491.03 Z" fill="none" stroke="#111" stroke-width="1.25" stroke-linejoin="miter"/>
<path d="M382.00 490.43 L383.66 494.03 L380.34 494.03 Z" fill="none" stroke="#111" stroke-width="1.25" stroke-linejoin="miter"/>
<path d="M384.50 492.93 L386.16 496.53 L382.84 496.53 Z" fill="none" stroke="#111" stroke-width="1.25" stroke-linejoin="miter"/>
<path d="M379.50 493.93 L381.16 497.53 L377.84 497.53 Z" fill="none" stroke="#111" stroke-width="1.25" stroke-linejoin="miter"/>
<path d="M382.00 495.93 L383.66 499.53 L380.34 499.53 Z" fill="none" stroke="#111" stroke-width="1.25" stroke-linejoin="miter"/>
<line x1="377.7" y1="500.5" x2="386.09999999999997" y2="500.5" stroke="#111" stroke-width="1.6" />
<path d="M381.90 498.18 L383.75 502.21 L380.05 502.21 Z" fill="#111" stroke="#111" stroke-width="0.9" stroke-linejoin="miter"/>
<line x1="421.3" y1="441.5" x2="421.3" y2="455.3" stroke="#111" stroke-width="1.7" />
<line x1="421.3" y1="494.4" x2="421.3" y2="495" stroke="#111" stroke-width="1.7" />
<rect x="414.4" y="455.3" width="13.90" height="39.10" fill="#fff" stroke="#111" stroke-width="1.7"/>
<line x1="414.4" y1="482.3" x2="428.3" y2="482.3" stroke="#111" stroke-width="1.6" />
<circle cx="421.30" cy="469.50" r="1.6" fill="#fff" stroke="#111" stroke-width="1.25"/>
<circle cx="421.50" cy="482.30" r="1.6" fill="#fff" stroke="#111" stroke-width="1.25"/>
<circle cx="418.00" cy="494.00" r="1.6" fill="#fff" stroke="#111" stroke-width="1.25"/>
<circle cx="423.50" cy="493.50" r="1.6" fill="#fff" stroke="#111" stroke-width="1.25"/>
<line x1="417.1" y1="441.5" x2="425.5" y2="441.5" stroke="#111" stroke-width="1.6" />
<circle cx="421.30" cy="441.50" r="1.7" fill="#111" stroke="#111" stroke-width="0.6"/>
<line x1="437.4" y1="468.5" x2="437.4" y2="484.7" stroke="#111" stroke-width="1.7" />
<line x1="437.4" y1="496.2" x2="437.4" y2="499" stroke="#111" stroke-width="1.7" />
<rect x="430.7" y="484.7" width="13.10" height="11.50" fill="#bababa" stroke="#111" stroke-width="1.7"/>
<line x1="430.7" y1="491.7" x2="443.8" y2="491.7" stroke="#111" stroke-width="1.6" />
<path d="M431.50 481.43 L433.16 485.03 L429.84 485.03 Z" fill="none" stroke="#111" stroke-width="1.25" stroke-linejoin="miter"/>
<path d="M437.50 483.93 L439.16 487.53 L435.84 487.53 Z" fill="none" stroke="#111" stroke-width="1.25" stroke-linejoin="miter"/>
<path d="M440.50 487.93 L442.16 491.53 L438.84 491.53 Z" fill="none" stroke="#111" stroke-width="1.25" stroke-linejoin="miter"/>
<path d="M435.00 489.43 L436.66 493.03 L433.34 493.03 Z" fill="none" stroke="#111" stroke-width="1.25" stroke-linejoin="miter"/>
<path d="M438.50 491.93 L440.16 495.53 L436.84 495.53 Z" fill="none" stroke="#111" stroke-width="1.25" stroke-linejoin="miter"/>
<path d="M436.00 494.43 L437.66 498.03 L434.34 498.03 Z" fill="none" stroke="#111" stroke-width="1.25" stroke-linejoin="miter"/>
<line x1="433.2" y1="468.5" x2="441.59999999999997" y2="468.5" stroke="#111" stroke-width="1.6" />
<path d="M437.40 466.18 L439.25 470.21 L435.55 470.21 Z" fill="#111" stroke="#111" stroke-width="0.9" stroke-linejoin="miter"/>
<line x1="433.2" y1="499" x2="441.59999999999997" y2="499" stroke="#111" stroke-width="1.6" />
<path d="M437.40 496.68 L439.25 500.71 L435.55 500.71 Z" fill="#111" stroke="#111" stroke-width="0.9" stroke-linejoin="miter"/>
<line x1="477.4" y1="485" x2="477.4" y2="498.9" stroke="#111" stroke-width="1.7" />
<line x1="470.4" y1="492" x2="484.4" y2="492" stroke="#111" stroke-width="1.6" />
<line x1="473.79999999999995" y1="485" x2="481.0" y2="485" stroke="#111" stroke-width="1.6" />
<circle cx="477.40" cy="485.00" r="1.7" fill="#111" stroke="#111" stroke-width="0.6"/>
<line x1="473.79999999999995" y1="498.9" x2="481.0" y2="498.9" stroke="#111" stroke-width="1.6" />
<circle cx="477.40" cy="498.90" r="1.7" fill="#111" stroke="#111" stroke-width="0.6"/>
<circle cx="477.40" cy="492.00" r="1.7" fill="#111" stroke="#111" stroke-width="0.6"/>
<line x1="492.8" y1="466.7" x2="492.8" y2="477.1" stroke="#111" stroke-width="1.7" />
<line x1="492.8" y1="496.2" x2="492.8" y2="499" stroke="#111" stroke-width="1.7" />
<rect x="486" y="477.1" width="13.20" height="19.10" fill="#bababa" stroke="#111" stroke-width="1.7"/>
<line x1="486" y1="488.5" x2="499.2" y2="488.5" stroke="#111" stroke-width="1.6" />
<path d="M492.50 480.93 L494.16 484.53 L490.84 484.53 Z" fill="none" stroke="#111" stroke-width="1.25" stroke-linejoin="miter"/>
<path d="M496.00 486.43 L497.66 490.03 L494.34 490.03 Z" fill="none" stroke="#111" stroke-width="1.25" stroke-linejoin="miter"/>
<path d="M490.00 487.43 L491.66 491.03 L488.34 491.03 Z" fill="none" stroke="#111" stroke-width="1.25" stroke-linejoin="miter"/>
<path d="M493.00 492.43 L494.66 496.03 L491.34 496.03 Z" fill="none" stroke="#111" stroke-width="1.25" stroke-linejoin="miter"/>
<line x1="488.6" y1="466.7" x2="497.0" y2="466.7" stroke="#111" stroke-width="1.6" />
<path d="M492.80 464.38 L494.65 468.41 L490.95 468.41 Z" fill="#111" stroke="#111" stroke-width="0.9" stroke-linejoin="miter"/>
<line x1="488.6" y1="499" x2="497.0" y2="499" stroke="#111" stroke-width="1.6" />
<path d="M492.80 496.68 L494.65 500.71 L490.95 500.71 Z" fill="#111" stroke="#111" stroke-width="0.9" stroke-linejoin="miter"/>
<path d="M378.60 478.53 L380.26 482.13 L376.94 482.13 Z" fill="#111" stroke="#111" stroke-width="0.9" stroke-linejoin="miter"/>
<path d="M384.40 478.53 L386.06 482.13 L382.74 482.13 Z" fill="#111" stroke="#111" stroke-width="0.9" stroke-linejoin="miter"/>
<path d="M381.90 490.93 L383.56 494.53 L380.24 494.53 Z" fill="#111" stroke="#111" stroke-width="0.9" stroke-linejoin="miter"/>
<path d="M379.50 494.53 L381.16 498.13 L377.84 498.13 Z" fill="#111" stroke="#111" stroke-width="0.9" stroke-linejoin="miter"/>
<path d="M384.20 494.53 L385.86 498.13 L382.54 498.13 Z" fill="#111" stroke="#111" stroke-width="0.9" stroke-linejoin="miter"/>
<path d="M381.90 497.13 L383.56 500.73 L380.24 500.73 Z" fill="#111" stroke="#111" stroke-width="0.9" stroke-linejoin="miter"/>
<path d="M437.40 491.93 L439.06 495.53 L435.74 495.53 Z" fill="#111" stroke="#111" stroke-width="0.9" stroke-linejoin="miter"/>
<path d="M435.00 494.53 L436.66 498.13 L433.34 498.13 Z" fill="#111" stroke="#111" stroke-width="0.9" stroke-linejoin="miter"/>
<path d="M439.80 494.53 L441.46 498.13 L438.14 498.13 Z" fill="#111" stroke="#111" stroke-width="0.9" stroke-linejoin="miter"/>
<circle cx="421.50" cy="482.30" r="1.6" fill="#111" stroke="#111" stroke-width="0.5"/>
<circle cx="418.00" cy="494.00" r="1.6" fill="#111" stroke="#111" stroke-width="0.5"/>
<circle cx="423.80" cy="493.50" r="1.6" fill="#111" stroke="#111" stroke-width="0.5"/>
<text x="380" y="518" font-size="11.4" font-weight="bold" text-anchor="middle" fill="#111" >Mesenteric</text>
<text x="379.8" y="532.5" font-size="11.4" font-weight="bold" text-anchor="middle" fill="#111" >LN</text>
<text x="434" y="519.3" font-size="11.4" font-weight="bold" text-anchor="middle" fill="#111" >Colonic</text>
<text x="433.5" y="534.2" font-size="11.4" font-weight="bold" text-anchor="middle" fill="#111" >LN</text>
<text x="486.8" y="518" font-size="11.4" font-weight="bold" text-anchor="middle" fill="#111" >Iliac</text>
<text x="488.8" y="532.5" font-size="11.4" font-weight="bold" text-anchor="middle" fill="#111" >LN</text>
<text x="6" y="590.8" font-size="29.5" font-weight="bold" text-anchor="start" fill="#111" >C</text>
<text x="14.2" y="696.4" font-size="14" font-weight="bold" text-anchor="start" fill="#111" >pDC</text>
<text x="12.6" y="904.4" font-size="14" font-weight="bold" text-anchor="start" fill="#111" >mDC</text>
<rect x="315.3" y="574" width="17.10" height="5.20" fill="#fff" stroke="#111" stroke-width="1.9"/>
<rect x="315.3" y="587.8" width="17.10" height="5.20" fill="#9c9c9c" stroke="#111" stroke-width="1.9"/>
<text x="338.3" y="580" font-size="13.1" font-weight="bold" text-anchor="start" fill="#111" >SIV-</text>
<text x="338.3" y="595.2" font-size="13.1" font-weight="bold" text-anchor="start" fill="#111" >SIV+ (AIDS)</text>
<text transform="translate(70.3,699.4) rotate(-90)" font-size="10.3" font-weight="bold" text-anchor="middle" textLength="96.2" lengthAdjust="spacing" fill="#111">% of HLA-DR+ LIN-</text>
<line x1="97" y1="634" x2="97" y2="715.3" stroke="#111" stroke-width="2.0" />
<line x1="97" y1="725.3" x2="97" y2="764.5999999999999" stroke="#111" stroke-width="2.0" />
<line x1="93.5" y1="763.8" x2="98" y2="763.8" stroke="#111" stroke-width="1.6" />
<text transform="translate(92.7,767.5079999999999) scale(0.96,1)" font-size="10.3" font-weight="bold" text-anchor="end" fill="#111" >0.0</text>
<line x1="93.5" y1="732.6999999999999" x2="98" y2="732.6999999999999" stroke="#111" stroke-width="1.6" />
<text transform="translate(92.7,736.4079999999999) scale(0.96,1)" font-size="10.3" font-weight="bold" text-anchor="end" fill="#111" >0.2</text>
<line x1="93.5" y1="709.6" x2="98" y2="709.6" stroke="#111" stroke-width="1.6" />
<text transform="translate(92.7,713.308) scale(0.96,1)" font-size="10.3" font-weight="bold" text-anchor="end" fill="#111" >0.5</text>
<line x1="93.5" y1="684.75" x2="98" y2="684.75" stroke="#111" stroke-width="1.6" />
<text transform="translate(92.7,688.458) scale(0.96,1)" font-size="10.3" font-weight="bold" text-anchor="end" fill="#111" >1.5</text>
<line x1="93.5" y1="659.9" x2="98" y2="659.9" stroke="#111" stroke-width="1.6" />
<text transform="translate(92.7,663.608) scale(0.96,1)" font-size="10.3" font-weight="bold" text-anchor="end" fill="#111" >2.5</text>
<line x1="93.5" y1="635.05" x2="98" y2="635.05" stroke="#111" stroke-width="1.6" />
<text transform="translate(92.7,638.7579999999999) scale(0.96,1)" font-size="10.3" font-weight="bold" text-anchor="end" fill="#111" >3.5</text>
<line x1="93.5" y1="715.3" x2="99.1" y2="715.3" stroke="#111" stroke-width="1.6" />
<line x1="93.5" y1="725.3" x2="99.1" y2="725.3" stroke="#111" stroke-width="1.6" />
<line x1="96" y1="763.8" x2="286.3" y2="763.8" stroke="#111" stroke-width="2.0" />
<line x1="113.8" y1="763.8" x2="113.8" y2="767.5999999999999" stroke="#111" stroke-width="1.6" />
<line x1="133.8" y1="763.8" x2="133.8" y2="767.5999999999999" stroke="#111" stroke-width="1.6" />
<line x1="182" y1="763.8" x2="182" y2="767.5999999999999" stroke="#111" stroke-width="1.6" />
<line x1="201.3" y1="763.8" x2="201.3" y2="767.5999999999999" stroke="#111" stroke-width="1.6" />
<line x1="250" y1="763.8" x2="250" y2="767.5999999999999" stroke="#111" stroke-width="1.6" />
<line x1="269.3" y1="763.8" x2="269.3" y2="767.5999999999999" stroke="#111" stroke-width="1.6" />
<line x1="113.8" y1="733.8" x2="113.8" y2="735.5" stroke="#111" stroke-width="1.7" />
<line x1="113.8" y1="757.5" x2="113.8" y2="761.5" stroke="#111" stroke-width="1.7" />
<rect x="105.5" y="735.5" width="17.00" height="22.00" fill="#fff" stroke="#111" stroke-width="1.7"/>
<line x1="105.5" y1="740.5" x2="122.5" y2="740.5" stroke="#111" stroke-width="1.6" />
<circle cx="118.50" cy="736.00" r="1.6" fill="#fff" stroke="#111" stroke-width="1.25"/>
<circle cx="113.60" cy="753.40" r="1.6" fill="#fff" stroke="#111" stroke-width="1.25"/>
<line x1="109.6" y1="761.5" x2="118.0" y2="761.5" stroke="#111" stroke-width="1.6" />
<circle cx="113.80" cy="761.50" r="1.7" fill="#111" stroke="#111" stroke-width="0.6"/>
<circle cx="109.30" cy="735.00" r="1.6" fill="#111" stroke="#111" stroke-width="0.5"/>
<circle cx="113.00" cy="739.80" r="1.6" fill="#111" stroke="#111" stroke-width="0.5"/>
<line x1="133.8" y1="693.8" x2="133.8" y2="715" stroke="#111" stroke-width="1.7" />
<rect x="125" y="715" width="17.50" height="0.30" fill="#9c9c9c" stroke="none"/>
<path d="M125 715.3 L125 715 L142.5 715 L142.5 715.3" fill="none" stroke="#111" stroke-width="1.7"/>
<rect x="125" y="725.3" width="17.50" height="29.70" fill="#9c9c9c" stroke="none"/>
<path d="M125 725.3 L125 755 L142.5 755 L142.5 725.3" fill="none" stroke="#111" stroke-width="1.7"/>
<line x1="125" y1="745" x2="142.5" y2="745" stroke="#111" stroke-width="1.6" />
<path d="M133.50 733.09 L135.43 737.28 L131.57 737.28 Z" fill="none" stroke="#111" stroke-width="1.25" stroke-linejoin="miter"/>
<path d="M138.00 740.09 L139.93 744.28 L136.07 744.28 Z" fill="none" stroke="#111" stroke-width="1.25" stroke-linejoin="miter"/>
<path d="M128.50 744.59 L130.43 748.78 L126.57 748.78 Z" fill="none" stroke="#111" stroke-width="1.25" stroke-linejoin="miter"/>
<path d="M134.00 746.09 L135.93 750.28 L132.07 750.28 Z" fill="none" stroke="#111" stroke-width="1.25" stroke-linejoin="miter"/>
<path d="M130.00 750.09 L131.93 754.28 L128.07 754.28 Z" fill="none" stroke="#111" stroke-width="1.25" stroke-linejoin="miter"/>
<path d="M134.00 752.59 L135.93 756.78 L132.07 756.78 Z" fill="none" stroke="#111" stroke-width="1.25" stroke-linejoin="miter"/>
<path d="M138.00 750.59 L139.93 754.78 L136.07 754.78 Z" fill="none" stroke="#111" stroke-width="1.25" stroke-linejoin="miter"/>
<line x1="129.60000000000002" y1="693.8" x2="138.0" y2="693.8" stroke="#111" stroke-width="1.6" />
<path d="M133.80 691.10 L135.96 695.80 L131.64 695.80 Z" fill="#111" stroke="#111" stroke-width="0.9" stroke-linejoin="miter"/>
<path d="M133.80 711.42 L136.10 716.42 L131.50 716.42 Z" fill="#111" stroke="#111" stroke-width="0.9" stroke-linejoin="miter"/>
<line x1="123.8" y1="715" x2="143.2" y2="715" stroke="#111" stroke-width="1.3" />
<line x1="182" y1="708.8" x2="182" y2="714.3" stroke="#111" stroke-width="1.7" />
<rect x="173.8" y="714.3" width="16.20" height="1.00" fill="#fff" stroke="none"/>
<path d="M173.8 715.3 L173.8 714.3 L190 714.3 L190 715.3" fill="none" stroke="#111" stroke-width="1.7"/>
<rect x="173.8" y="725.3" width="16.20" height="37.90" fill="#fff" stroke="none"/>
<path d="M173.8 725.3 L173.8 763.2 L190 763.2 L190 725.3" fill="none" stroke="#111" stroke-width="1.7"/>
<circle cx="181.80" cy="740.50" r="1.6" fill="#fff" stroke="#111" stroke-width="1.25"/>
<line x1="177.8" y1="708.8" x2="186.2" y2="708.8" stroke="#111" stroke-width="1.6" />
<circle cx="182.00" cy="708.80" r="1.7" fill="#111" stroke="#111" stroke-width="0.6"/>
<circle cx="177.00" cy="762.80" r="1.6" fill="#111" stroke="#111" stroke-width="0.5"/>
<circle cx="182.00" cy="762.80" r="1.6" fill="#111" stroke="#111" stroke-width="0.5"/>
<circle cx="186.50" cy="762.80" r="1.6" fill="#111" stroke="#111" stroke-width="0.5"/>
<line x1="173.2" y1="714.3" x2="190.6" y2="714.3" stroke="#111" stroke-width="1.3" />
<line x1="201.3" y1="673.8" x2="201.3" y2="704.5" stroke="#111" stroke-width="1.7" />
<rect x="193" y="704.5" width="17.00" height="10.80" fill="#9c9c9c" stroke="none"/>
<path d="M193 715.3 L193 704.5 L210 704.5 L210 715.3" fill="none" stroke="#111" stroke-width="1.7"/>
<rect x="193" y="725.3" width="17.00" height="33.50" fill="#9c9c9c" stroke="none"/>
<path d="M193 725.3 L193 758.8 L210 758.8 L210 725.3" fill="none" stroke="#111" stroke-width="1.7"/>
<line x1="193" y1="742.5" x2="210" y2="742.5" stroke="#111" stroke-width="1.6" />
<path d="M205.50 705.59 L207.43 709.78 L203.57 709.78 Z" fill="none" stroke="#111" stroke-width="1.25" stroke-linejoin="miter"/>
<path d="M200.50 709.59 L202.43 713.78 L198.57 713.78 Z" fill="none" stroke="#111" stroke-width="1.25" stroke-linejoin="miter"/>
<path d="M200.50 747.09 L202.43 751.28 L198.57 751.28 Z" fill="none" stroke="#111" stroke-width="1.25" stroke-linejoin="miter"/>
<line x1="197.10000000000002" y1="673.8" x2="205.5" y2="673.8" stroke="#111" stroke-width="1.6" />
<path d="M201.30 671.10 L203.46 675.80 L199.14 675.80 Z" fill="#111" stroke="#111" stroke-width="0.9" stroke-linejoin="miter"/>
<path d="M201.20 701.38 L203.13 705.58 L199.27 705.58 Z" fill="#111" stroke="#111" stroke-width="0.9" stroke-linejoin="miter"/>
<path d="M195.00 739.88 L196.93 744.08 L193.07 744.08 Z" fill="#111" stroke="#111" stroke-width="0.9" stroke-linejoin="miter"/>
<path d="M205.60 739.59 L207.53 743.78 L203.67 743.78 Z" fill="#111" stroke="#111" stroke-width="0.9" stroke-linejoin="miter"/>
<path d="M197.00 755.88 L198.93 760.08 L195.07 760.08 Z" fill="#111" stroke="#111" stroke-width="0.9" stroke-linejoin="miter"/>
<path d="M201.20 757.19 L203.13 761.38 L199.27 761.38 Z" fill="#111" stroke="#111" stroke-width="0.9" stroke-linejoin="miter"/>
<path d="M205.20 755.88 L207.13 760.08 L203.27 760.08 Z" fill="#111" stroke="#111" stroke-width="0.9" stroke-linejoin="miter"/>
<rect x="242" y="759.6" width="15.80" height="3.40" fill="#111" stroke="#111" stroke-width="1.0"/>
<circle cx="250.90" cy="758.60" r="1.5" fill="#fff" stroke="#111" stroke-width="1.2"/>
<line x1="269.3" y1="676.3" x2="269.3" y2="688.8" stroke="#111" stroke-width="1.7" />
<line x1="269.3" y1="759.7" x2="269.3" y2="762.6" stroke="#111" stroke-width="1.7" />
<rect x="261" y="688.8" width="16.80" height="26.50" fill="#9c9c9c" stroke="none"/>
<path d="M261 715.3 L261 688.8 L277.8 688.8 L277.8 715.3" fill="none" stroke="#111" stroke-width="1.7"/>
<rect x="261" y="725.3" width="16.80" height="34.40" fill="#9c9c9c" stroke="none"/>
<path d="M261 725.3 L261 759.7 L277.8 759.7 L277.8 725.3" fill="none" stroke="#111" stroke-width="1.7"/>
<line x1="261" y1="744.5" x2="277.8" y2="744.5" stroke="#111" stroke-width="1.6" />
<path d="M269.00 700.59 L270.93 704.78 L267.07 704.78 Z" fill="none" stroke="#111" stroke-width="1.25" stroke-linejoin="miter"/>
<path d="M268.80 746.49 L270.73 750.68 L266.87 750.68 Z" fill="none" stroke="#111" stroke-width="1.25" stroke-linejoin="miter"/>
<path d="M272.40 754.38 L274.33 758.58 L270.47 758.58 Z" fill="none" stroke="#111" stroke-width="1.25" stroke-linejoin="miter"/>
<line x1="265.1" y1="676.3" x2="273.5" y2="676.3" stroke="#111" stroke-width="1.6" />
<path d="M269.30 673.60 L271.46 678.30 L267.14 678.30 Z" fill="#111" stroke="#111" stroke-width="0.9" stroke-linejoin="miter"/>
<line x1="265.1" y1="762.6" x2="273.5" y2="762.6" stroke="#111" stroke-width="1.6" />
<path d="M269.30 759.90 L271.46 764.60 L267.14 764.60 Z" fill="#111" stroke="#111" stroke-width="0.9" stroke-linejoin="miter"/>
<path d="M261.00 738.49 L262.93 742.68 L259.07 742.68 Z" fill="#111" stroke="#111" stroke-width="0.9" stroke-linejoin="miter"/>
<text x="237.3" y="659.5" font-size="11.6"  text-anchor="start" fill="#111" >P=0.0006</text>
<line x1="250" y1="664.5" x2="269.3" y2="664.5" stroke="#111" stroke-width="1.6" />
<text x="131.5" y="782.5" font-size="11.4" font-weight="bold" text-anchor="middle" fill="#111" >Duodenum</text>
<text x="195" y="781.5" font-size="11.4" font-weight="bold" text-anchor="middle" fill="#111" >Jejunum</text>
<text x="261.5" y="781.5" font-size="11.4" font-weight="bold" text-anchor="middle" fill="#111" >Ileum</text>
<line x1="325.4" y1="634" x2="325.4" y2="715.3" stroke="#111" stroke-width="2.0" />
<line x1="325.4" y1="725.3" x2="325.4" y2="764.5999999999999" stroke="#111" stroke-width="2.0" />
<line x1="321.9" y1="763.8" x2="326.4" y2="763.8" stroke="#111" stroke-width="1.6" />
<text transform="translate(321.09999999999997,767.5079999999999) scale(0.96,1)" font-size="10.3" font-weight="bold" text-anchor="end" fill="#111" >0.0</text>
<line x1="321.9" y1="732.6999999999999" x2="326.4" y2="732.6999999999999" stroke="#111" stroke-width="1.6" />
<text transform="translate(321.09999999999997,736.4079999999999) scale(0.96,1)" font-size="10.3" font-weight="bold" text-anchor="end" fill="#111" >0.2</text>
<line x1="321.9" y1="709.6" x2="326.4" y2="709.6" stroke="#111" stroke-width="1.6" />
<text transform="translate(321.09999999999997,713.308) scale(0.96,1)" font-size="10.3" font-weight="bold" text-anchor="end" fill="#111" >0.5</text>
<line x1="321.9" y1="684.75" x2="326.4" y2="684.75" stroke="#111" stroke-width="1.6" />
<text transform="translate(321.09999999999997,688.458) scale(0.96,1)" font-size="10.3" font-weight="bold" text-anchor="end" fill="#111" >1.5</text>
<line x1="321.9" y1="659.9" x2="326.4" y2="659.9" stroke="#111" stroke-width="1.6" />
<text transform="translate(321.09999999999997,663.608) scale(0.96,1)" font-size="10.3" font-weight="bold" text-anchor="end" fill="#111" >2.5</text>
<line x1="321.9" y1="635.05" x2="326.4" y2="635.05" stroke="#111" stroke-width="1.6" />
<text transform="translate(321.09999999999997,638.7579999999999) scale(0.96,1)" font-size="10.3" font-weight="bold" text-anchor="end" fill="#111" >3.5</text>
<line x1="321.9" y1="715.3" x2="327.5" y2="715.3" stroke="#111" stroke-width="1.6" />
<line x1="321.9" y1="725.3" x2="327.5" y2="725.3" stroke="#111" stroke-width="1.6" />
<line x1="324.4" y1="763.5" x2="408" y2="763.5" stroke="#111" stroke-width="2.0" />
<line x1="334.3" y1="763.5" x2="334.3" y2="767.3" stroke="#111" stroke-width="1.6" />
<line x1="351.8" y1="763.5" x2="351.8" y2="767.3" stroke="#111" stroke-width="1.6" />
<line x1="380" y1="763.5" x2="380" y2="767.3" stroke="#111" stroke-width="1.6" />
<line x1="397.5" y1="763.5" x2="397.5" y2="767.3" stroke="#111" stroke-width="1.6" />
<line x1="334.3" y1="732.5" x2="334.3" y2="735.5" stroke="#111" stroke-width="1.7" />
<line x1="334.3" y1="758.8" x2="334.3" y2="763" stroke="#111" stroke-width="1.7" />
<rect x="328.8" y="735.5" width="11.20" height="23.30" fill="#fff" stroke="#111" stroke-width="1.7"/>
<line x1="328.8" y1="748.8" x2="340" y2="748.8" stroke="#111" stroke-width="1.6" />
<circle cx="337.50" cy="732.50" r="1.6" fill="#fff" stroke="#111" stroke-width="1.25"/>
<circle cx="332.50" cy="737.00" r="1.6" fill="#fff" stroke="#111" stroke-width="1.25"/>
<circle cx="336.00" cy="740.50" r="1.6" fill="#fff" stroke="#111" stroke-width="1.25"/>
<circle cx="333.50" cy="749.00" r="1.6" fill="#fff" stroke="#111" stroke-width="1.25"/>
<circle cx="337.00" cy="756.00" r="1.6" fill="#fff" stroke="#111" stroke-width="1.25"/>
<line x1="330.1" y1="732.5" x2="338.5" y2="732.5" stroke="#111" stroke-width="1.6" />
<circle cx="334.30" cy="732.50" r="1.7" fill="#111" stroke="#111" stroke-width="0.6"/>
<line x1="330.1" y1="763" x2="338.5" y2="763" stroke="#111" stroke-width="1.6" />
<circle cx="334.30" cy="763.00" r="1.7" fill="#111" stroke="#111" stroke-width="0.6"/>
<line x1="351.8" y1="668.8" x2="351.8" y2="701.3" stroke="#111" stroke-width="1.7" />
<line x1="351.8" y1="742.5" x2="351.8" y2="763" stroke="#111" stroke-width="1.7" />
<rect x="345.8" y="701.3" width="11.20" height="14.00" fill="#9c9c9c" stroke="none"/>
<path d="M345.8 715.3 L345.8 701.3 L357 701.3 L357 715.3" fill="none" stroke="#111" stroke-width="1.7"/>
<rect x="345.8" y="725.3" width="11.20" height="17.20" fill="#9c9c9c" stroke="none"/>
<path d="M345.8 725.3 L345.8 742.5 L357 742.5 L357 725.3" fill="none" stroke="#111" stroke-width="1.7"/>
<path d="M348.00 698.09 L349.93 702.28 L346.07 702.28 Z" fill="none" stroke="#111" stroke-width="1.25" stroke-linejoin="miter"/>
<path d="M356.00 701.09 L357.93 705.28 L354.07 705.28 Z" fill="none" stroke="#111" stroke-width="1.25" stroke-linejoin="miter"/>
<path d="M352.00 704.59 L353.93 708.78 L350.07 708.78 Z" fill="none" stroke="#111" stroke-width="1.25" stroke-linejoin="miter"/>
<path d="M351.50 711.59 L353.43 715.78 L349.57 715.78 Z" fill="none" stroke="#111" stroke-width="1.25" stroke-linejoin="miter"/>
<path d="M352.00 730.59 L353.93 734.78 L350.07 734.78 Z" fill="none" stroke="#111" stroke-width="1.25" stroke-linejoin="miter"/>
<path d="M344.50 738.59 L346.43 742.78 L342.57 742.78 Z" fill="none" stroke="#111" stroke-width="1.25" stroke-linejoin="miter"/>
<path d="M350.00 740.09 L351.93 744.28 L348.07 744.28 Z" fill="none" stroke="#111" stroke-width="1.25" stroke-linejoin="miter"/>
<path d="M356.00 738.59 L357.93 742.78 L354.07 742.78 Z" fill="none" stroke="#111" stroke-width="1.25" stroke-linejoin="miter"/>
<line x1="347.6" y1="668.8" x2="356.0" y2="668.8" stroke="#111" stroke-width="1.6" />
<path d="M351.80 666.10 L353.96 670.80 L349.64 670.80 Z" fill="#111" stroke="#111" stroke-width="0.9" stroke-linejoin="miter"/>
<line x1="347.6" y1="763" x2="356.0" y2="763" stroke="#111" stroke-width="1.6" />
<path d="M351.80 760.30 L353.96 765.00 L349.64 765.00 Z" fill="#111" stroke="#111" stroke-width="0.9" stroke-linejoin="miter"/>
<line x1="380" y1="732.5" x2="380" y2="735" stroke="#111" stroke-width="1.7" />
<line x1="380" y1="757" x2="380" y2="763" stroke="#111" stroke-width="1.7" />
<rect x="374.5" y="735" width="11.30" height="22.00" fill="#fff" stroke="#111" stroke-width="1.7"/>
<line x1="374.5" y1="748" x2="385.8" y2="748" stroke="#111" stroke-width="1.6" />
<circle cx="383.50" cy="732.50" r="1.6" fill="#fff" stroke="#111" stroke-width="1.25"/>
<circle cx="379.00" cy="735.50" r="1.6" fill="#fff" stroke="#111" stroke-width="1.25"/>
<circle cx="372.50" cy="748.00" r="1.6" fill="#fff" stroke="#111" stroke-width="1.25"/>
<circle cx="379.50" cy="751.00" r="1.6" fill="#fff" stroke="#111" stroke-width="1.25"/>
<circle cx="380.00" cy="746.00" r="1.6" fill="#fff" stroke="#111" stroke-width="1.25"/>
<line x1="375.8" y1="732.5" x2="384.2" y2="732.5" stroke="#111" stroke-width="1.6" />
<circle cx="380.00" cy="732.50" r="1.7" fill="#111" stroke="#111" stroke-width="0.6"/>
<line x1="375.8" y1="763" x2="384.2" y2="763" stroke="#111" stroke-width="1.6" />
<circle cx="380.00" cy="763.00" r="1.7" fill="#111" stroke="#111" stroke-width="0.6"/>
<line x1="397.5" y1="644.5" x2="397.5" y2="693.8" stroke="#111" stroke-width="1.7" />
<line x1="397.5" y1="744.5" x2="397.5" y2="752.5" stroke="#111" stroke-width="1.7" />
<rect x="392" y="693.8" width="11.30" height="21.50" fill="#9c9c9c" stroke="none"/>
<path d="M392 715.3 L392 693.8 L403.3 693.8 L403.3 715.3" fill="none" stroke="#111" stroke-width="1.7"/>
<rect x="392" y="725.3" width="11.30" height="19.20" fill="#9c9c9c" stroke="none"/>
<path d="M392 725.3 L392 744.5 L403.3 744.5 L403.3 725.3" fill="none" stroke="#111" stroke-width="1.7"/>
<path d="M398.00 685.59 L399.93 689.78 L396.07 689.78 Z" fill="none" stroke="#111" stroke-width="1.25" stroke-linejoin="miter"/>
<path d="M397.50 697.59 L399.43 701.78 L395.57 701.78 Z" fill="none" stroke="#111" stroke-width="1.25" stroke-linejoin="miter"/>
<path d="M393.50 710.59 L395.43 714.78 L391.57 714.78 Z" fill="none" stroke="#111" stroke-width="1.25" stroke-linejoin="miter"/>
<path d="M399.50 711.09 L401.43 715.28 L397.57 715.28 Z" fill="none" stroke="#111" stroke-width="1.25" stroke-linejoin="miter"/>
<path d="M403.00 710.59 L404.93 714.78 L401.07 714.78 Z" fill="none" stroke="#111" stroke-width="1.25" stroke-linejoin="miter"/>
<path d="M397.50 738.59 L399.43 742.78 L395.57 742.78 Z" fill="none" stroke="#111" stroke-width="1.25" stroke-linejoin="miter"/>
<path d="M397.00 745.09 L398.93 749.28 L395.07 749.28 Z" fill="none" stroke="#111" stroke-width="1.25" stroke-linejoin="miter"/>
<path d="M402.00 746.09 L403.93 750.28 L400.07 750.28 Z" fill="none" stroke="#111" stroke-width="1.25" stroke-linejoin="miter"/>
<line x1="393.3" y1="644.5" x2="401.7" y2="644.5" stroke="#111" stroke-width="1.6" />
<path d="M397.50 641.80 L399.66 646.50 L395.34 646.50 Z" fill="#111" stroke="#111" stroke-width="0.9" stroke-linejoin="miter"/>
<line x1="393.3" y1="752.5" x2="401.7" y2="752.5" stroke="#111" stroke-width="1.6" />
<path d="M397.50 749.80 L399.66 754.50 L395.34 754.50 Z" fill="#111" stroke="#111" stroke-width="0.9" stroke-linejoin="miter"/>
<text x="373.8" y="625.5" font-size="11.6"  text-anchor="start" fill="#111" >P=0.03</text>
<line x1="380.8" y1="632.5" x2="398.8" y2="632.5" stroke="#111" stroke-width="1.6" />
<text x="343.5" y="780.3" font-size="11.4" font-weight="bold" text-anchor="middle" fill="#111" >Colon</text>
<text x="393.7" y="780.3" font-size="11.4" font-weight="bold" text-anchor="middle" fill="#111" >Rectum</text>
<text transform="translate(70.5,902.75) rotate(-90)" font-size="10.3" font-weight="bold" text-anchor="middle" textLength="96.5" lengthAdjust="spacing" fill="#111">% of HLA-DR+ LIN-</text>
<line x1="97.3" y1="837.8" x2="97.3" y2="867.3" stroke="#111" stroke-width="2.0" />
<line x1="97.3" y1="877.4" x2="97.3" y2="968.0" stroke="#111" stroke-width="2.0" />
<line x1="93.8" y1="967.2" x2="98.3" y2="967.2" stroke="#111" stroke-width="1.6" />
<text transform="translate(93.0,970.908) scale(0.96,1)" font-size="10.3" font-weight="bold" text-anchor="end" fill="#111" >0</text>
<line x1="93.8" y1="941.6" x2="98.3" y2="941.6" stroke="#111" stroke-width="1.6" />
<text transform="translate(93.0,945.308) scale(0.96,1)" font-size="10.3" font-weight="bold" text-anchor="end" fill="#111" >1</text>
<line x1="93.8" y1="916.0" x2="98.3" y2="916.0" stroke="#111" stroke-width="1.6" />
<text transform="translate(93.0,919.708) scale(0.96,1)" font-size="10.3" font-weight="bold" text-anchor="end" fill="#111" >2</text>
<line x1="93.8" y1="890.4000000000001" x2="98.3" y2="890.4000000000001" stroke="#111" stroke-width="1.6" />
<text transform="translate(93.0,894.1080000000001) scale(0.96,1)" font-size="10.3" font-weight="bold" text-anchor="end" fill="#111" >3</text>
<line x1="93.8" y1="864.3" x2="98.3" y2="864.3" stroke="#111" stroke-width="1.6" />
<text transform="translate(93.0,868.0079999999999) scale(0.96,1)" font-size="10.3" font-weight="bold" text-anchor="end" fill="#111" >4</text>
<line x1="93.8" y1="851.5" x2="98.3" y2="851.5" stroke="#111" stroke-width="1.6" />
<text transform="translate(93.0,855.208) scale(0.96,1)" font-size="10.3" font-weight="bold" text-anchor="end" fill="#111" >6</text>
<line x1="93.8" y1="838.6999999999999" x2="98.3" y2="838.6999999999999" stroke="#111" stroke-width="1.6" />
<text transform="translate(93.0,842.4079999999999) scale(0.96,1)" font-size="10.3" font-weight="bold" text-anchor="end" fill="#111" >8</text>
<line x1="93.8" y1="867.3" x2="99.39999999999999" y2="867.3" stroke="#111" stroke-width="1.6" />
<line x1="93.8" y1="877.4" x2="99.39999999999999" y2="877.4" stroke="#111" stroke-width="1.6" />
<line x1="96.3" y1="967.2" x2="286.3" y2="967.2" stroke="#111" stroke-width="2.0" />
<line x1="113.9" y1="967.2" x2="113.9" y2="971.0" stroke="#111" stroke-width="1.6" />
<line x1="133.3" y1="967.2" x2="133.3" y2="971.0" stroke="#111" stroke-width="1.6" />
<line x1="181.8" y1="967.2" x2="181.8" y2="971.0" stroke="#111" stroke-width="1.6" />
<line x1="201.3" y1="967.2" x2="201.3" y2="971.0" stroke="#111" stroke-width="1.6" />
<line x1="250" y1="967.2" x2="250" y2="971.0" stroke="#111" stroke-width="1.6" />
<line x1="269.5" y1="967.2" x2="269.5" y2="971.0" stroke="#111" stroke-width="1.6" />
<line x1="113.9" y1="920" x2="113.9" y2="920.5" stroke="#111" stroke-width="1.7" />
<line x1="113.9" y1="942.5" x2="113.9" y2="953.8" stroke="#111" stroke-width="1.7" />
<rect x="105.5" y="920.5" width="17.00" height="22.00" fill="#fff" stroke="#111" stroke-width="1.7"/>
<line x1="105.5" y1="928.3" x2="122.5" y2="928.3" stroke="#111" stroke-width="1.6" />
<circle cx="113.50" cy="920.50" r="1.6" fill="#fff" stroke="#111" stroke-width="1.25"/>
<circle cx="117.50" cy="920.00" r="1.6" fill="#fff" stroke="#111" stroke-width="1.25"/>
<circle cx="106.50" cy="928.00" r="1.6" fill="#fff" stroke="#111" stroke-width="1.25"/>
<circle cx="113.30" cy="931.50" r="1.6" fill="#fff" stroke="#111" stroke-width="1.25"/>
<line x1="109.7" y1="953.8" x2="118.10000000000001" y2="953.8" stroke="#111" stroke-width="1.6" />
<circle cx="113.90" cy="953.80" r="1.7" fill="#111" stroke="#111" stroke-width="0.6"/>
<line x1="133.3" y1="847.5" x2="133.3" y2="867.3" stroke="#111" stroke-width="1.4" />
<line x1="133.3" y1="877.4" x2="133.3" y2="895" stroke="#111" stroke-width="1.7" />
<line x1="133.3" y1="951.3" x2="133.3" y2="961.3" stroke="#111" stroke-width="1.7" />
<rect x="125" y="895" width="17.00" height="56.30" fill="#9c9c9c" stroke="#111" stroke-width="1.7"/>
<line x1="125" y1="928.3" x2="142" y2="928.3" stroke="#111" stroke-width="1.6" />
<path d="M133.30 903.59 L135.23 907.78 L131.37 907.78 Z" fill="none" stroke="#111" stroke-width="1.25" stroke-linejoin="miter"/>
<path d="M133.30 913.59 L135.23 917.78 L131.37 917.78 Z" fill="none" stroke="#111" stroke-width="1.25" stroke-linejoin="miter"/>
<path d="M133.50 925.59 L135.43 929.78 L131.57 929.78 Z" fill="none" stroke="#111" stroke-width="1.25" stroke-linejoin="miter"/>
<path d="M133.50 943.59 L135.43 947.78 L131.57 947.78 Z" fill="none" stroke="#111" stroke-width="1.25" stroke-linejoin="miter"/>
<path d="M137.00 952.59 L138.93 956.78 L135.07 956.78 Z" fill="none" stroke="#111" stroke-width="1.25" stroke-linejoin="miter"/>
<path d="M133.50 959.59 L135.43 963.78 L131.57 963.78 Z" fill="none" stroke="#111" stroke-width="1.25" stroke-linejoin="miter"/>
<line x1="129.10000000000002" y1="961.3" x2="137.5" y2="961.3" stroke="#111" stroke-width="1.6" />
<path d="M133.30 958.60 L135.46 963.30 L131.14 963.30 Z" fill="#111" stroke="#111" stroke-width="0.9" stroke-linejoin="miter"/>
<line x1="129.10000000000002" y1="847.5" x2="137.5" y2="847.5" stroke="#111" stroke-width="1.6" />
<path d="M133.30 844.80 L135.46 849.50 L131.14 849.50 Z" fill="#111" stroke="#111" stroke-width="0.9" stroke-linejoin="miter"/>
<path d="M133.30 883.09 L135.23 887.28 L131.37 887.28 Z" fill="#111" stroke="#111" stroke-width="0.9" stroke-linejoin="miter"/>
<path d="M126.00 938.59 L127.93 942.78 L124.07 942.78 Z" fill="#111" stroke="#111" stroke-width="0.9" stroke-linejoin="miter"/>
<line x1="181.8" y1="860" x2="181.8" y2="867.3" stroke="#111" stroke-width="1.4" />
<line x1="181.8" y1="877.4" x2="181.8" y2="881.3" stroke="#111" stroke-width="1.7" />
<line x1="181.8" y1="949.5" x2="181.8" y2="952.5" stroke="#111" stroke-width="1.7" />
<rect x="173.8" y="881.3" width="16.20" height="68.20" fill="#fff" stroke="#111" stroke-width="1.7"/>
<line x1="173.8" y1="943" x2="190" y2="943" stroke="#111" stroke-width="1.6" />
<circle cx="181.80" cy="916.50" r="1.6" fill="#fff" stroke="#111" stroke-width="1.25"/>
<circle cx="181.50" cy="942.50" r="1.6" fill="#fff" stroke="#111" stroke-width="1.25"/>
<circle cx="186.00" cy="947.00" r="1.6" fill="#fff" stroke="#111" stroke-width="1.25"/>
<line x1="177.60000000000002" y1="952.5" x2="186.0" y2="952.5" stroke="#111" stroke-width="1.6" />
<circle cx="181.80" cy="952.50" r="1.7" fill="#111" stroke="#111" stroke-width="0.6"/>
<line x1="177.60000000000002" y1="860" x2="186.0" y2="860" stroke="#111" stroke-width="1.6" />
<circle cx="181.80" cy="860.00" r="1.7" fill="#111" stroke="#111" stroke-width="0.6"/>
<line x1="201.3" y1="865" x2="201.3" y2="867.3" stroke="#111" stroke-width="1.4" />
<line x1="201.3" y1="877.4" x2="201.3" y2="923.8" stroke="#111" stroke-width="1.7" />
<line x1="201.3" y1="955.5" x2="201.3" y2="964.5" stroke="#111" stroke-width="1.7" />
<rect x="193" y="923.8" width="17.00" height="31.70" fill="#9c9c9c" stroke="#111" stroke-width="1.7"/>
<line x1="193" y1="935" x2="210" y2="935" stroke="#111" stroke-width="1.6" />
<path d="M205.00 920.09 L206.93 924.28 L203.07 924.28 Z" fill="none" stroke="#111" stroke-width="1.25" stroke-linejoin="miter"/>
<path d="M200.50 923.09 L202.43 927.28 L198.57 927.28 Z" fill="none" stroke="#111" stroke-width="1.25" stroke-linejoin="miter"/>
<path d="M195.00 932.09 L196.93 936.28 L193.07 936.28 Z" fill="none" stroke="#111" stroke-width="1.25" stroke-linejoin="miter"/>
<path d="M200.50 933.09 L202.43 937.28 L198.57 937.28 Z" fill="none" stroke="#111" stroke-width="1.25" stroke-linejoin="miter"/>
<path d="M205.50 931.59 L207.43 935.78 L203.57 935.78 Z" fill="none" stroke="#111" stroke-width="1.25" stroke-linejoin="miter"/>
<path d="M201.00 942.09 L202.93 946.28 L199.07 946.28 Z" fill="none" stroke="#111" stroke-width="1.25" stroke-linejoin="miter"/>
<path d="M201.00 951.09 L202.93 955.28 L199.07 955.28 Z" fill="none" stroke="#111" stroke-width="1.25" stroke-linejoin="miter"/>
<path d="M205.00 955.09 L206.93 959.28 L203.07 959.28 Z" fill="none" stroke="#111" stroke-width="1.25" stroke-linejoin="miter"/>
<path d="M201.50 962.59 L203.43 966.78 L199.57 966.78 Z" fill="none" stroke="#111" stroke-width="1.25" stroke-linejoin="miter"/>
<line x1="197.10000000000002" y1="964.5" x2="205.5" y2="964.5" stroke="#111" stroke-width="1.6" />
<path d="M201.30 961.80 L203.46 966.50 L199.14 966.50 Z" fill="#111" stroke="#111" stroke-width="0.9" stroke-linejoin="miter"/>
<line x1="197.10000000000002" y1="865" x2="205.5" y2="865" stroke="#111" stroke-width="1.6" />
<path d="M201.30 862.30 L203.46 867.00 L199.14 867.00 Z" fill="#111" stroke="#111" stroke-width="0.9" stroke-linejoin="miter"/>
<rect x="242" y="958.4" width="15.80" height="4.40" fill="#111" stroke="#111" stroke-width="1.0"/>
<circle cx="245.50" cy="960.40" r="0.6" fill="#bbb" stroke="#111" stroke-width="0.1"/>
<circle cx="250.00" cy="960.40" r="0.6" fill="#bbb" stroke="#111" stroke-width="0.1"/>
<circle cx="254.50" cy="960.40" r="0.6" fill="#bbb" stroke="#111" stroke-width="0.1"/>
<rect x="260.9" y="931.6" width="16.90" height="34.60" fill="#9c9c9c" stroke="#111" stroke-width="1.7"/>
<line x1="260.9" y1="950.5" x2="277.8" y2="950.5" stroke="#111" stroke-width="1.6" />
<path d="M269.00 940.59 L270.93 944.78 L267.07 944.78 Z" fill="none" stroke="#111" stroke-width="1.25" stroke-linejoin="miter"/>
<path d="M269.00 955.49 L270.93 959.68 L267.07 959.68 Z" fill="none" stroke="#111" stroke-width="1.25" stroke-linejoin="miter"/>
<path d="M261.30 928.38 L263.23 932.58 L259.37 932.58 Z" fill="#111" stroke="#111" stroke-width="0.9" stroke-linejoin="miter"/>
<path d="M269.00 928.38 L270.93 932.58 L267.07 932.58 Z" fill="#111" stroke="#111" stroke-width="0.9" stroke-linejoin="miter"/>
<line x1="265.8" y1="966.5" x2="272.2" y2="966.5" stroke="#111" stroke-width="1.6" />
<path d="M269.00 963.80 L271.16 968.50 L266.84 968.50 Z" fill="#111" stroke="#111" stroke-width="0.9" stroke-linejoin="miter"/>
<text x="130.8" y="983" font-size="11.4" font-weight="bold" text-anchor="middle" fill="#111" >Duodenum</text>
<text x="195" y="983" font-size="11.4" font-weight="bold" text-anchor="middle" fill="#111" >Jejunum</text>
<text x="261.2" y="983" font-size="11.4" font-weight="bold" text-anchor="middle" fill="#111" >Ileum</text>
<line x1="325.2" y1="837" x2="325.2" y2="866.5" stroke="#111" stroke-width="2.0" />
<line x1="325.2" y1="876.4" x2="325.2" y2="966.8000000000001" stroke="#111" stroke-width="2.0" />
<line x1="321.7" y1="966.1" x2="326.2" y2="966.1" stroke="#111" stroke-width="1.6" />
<text transform="translate(320.9,969.808) scale(0.96,1)" font-size="10.3" font-weight="bold" text-anchor="end" fill="#111" >0</text>
<line x1="321.7" y1="940.5" x2="326.2" y2="940.5" stroke="#111" stroke-width="1.6" />
<text transform="translate(320.9,944.208) scale(0.96,1)" font-size="10.3" font-weight="bold" text-anchor="end" fill="#111" >1</text>
<line x1="321.7" y1="914.9" x2="326.2" y2="914.9" stroke="#111" stroke-width="1.6" />
<text transform="translate(320.9,918.608) scale(0.96,1)" font-size="10.3" font-weight="bold" text-anchor="end" fill="#111" >2</text>
<line x1="321.7" y1="889.3000000000001" x2="326.2" y2="889.3000000000001" stroke="#111" stroke-width="1.6" />
<text transform="translate(320.9,893.008) scale(0.96,1)" font-size="10.3" font-weight="bold" text-anchor="end" fill="#111" >3</text>
<line x1="321.7" y1="863.1999999999999" x2="326.2" y2="863.1999999999999" stroke="#111" stroke-width="1.6" />
<text transform="translate(320.9,866.9079999999999) scale(0.96,1)" font-size="10.3" font-weight="bold" text-anchor="end" fill="#111" >4</text>
<line x1="321.7" y1="850.4" x2="326.2" y2="850.4" stroke="#111" stroke-width="1.6" />
<text transform="translate(320.9,854.108) scale(0.96,1)" font-size="10.3" font-weight="bold" text-anchor="end" fill="#111" >6</text>
<line x1="321.7" y1="837.5999999999999" x2="326.2" y2="837.5999999999999" stroke="#111" stroke-width="1.6" />
<text transform="translate(320.9,841.3079999999999) scale(0.96,1)" font-size="10.3" font-weight="bold" text-anchor="end" fill="#111" >8</text>
<line x1="321.7" y1="866.5" x2="327.3" y2="866.5" stroke="#111" stroke-width="1.6" />
<line x1="321.7" y1="876.4" x2="327.3" y2="876.4" stroke="#111" stroke-width="1.6" />
<line x1="324.2" y1="966.0" x2="408.8" y2="966.0" stroke="#111" stroke-width="2.0" />
<line x1="334.5" y1="966.0" x2="334.5" y2="969.8" stroke="#111" stroke-width="1.6" />
<line x1="352" y1="966.0" x2="352" y2="969.8" stroke="#111" stroke-width="1.6" />
<line x1="380" y1="966.0" x2="380" y2="969.8" stroke="#111" stroke-width="1.6" />
<line x1="398.5" y1="966.0" x2="398.5" y2="969.8" stroke="#111" stroke-width="1.6" />
<line x1="334.5" y1="939.7" x2="334.5" y2="946" stroke="#111" stroke-width="1.7" />
<line x1="334.5" y1="961.7" x2="334.5" y2="964" stroke="#111" stroke-width="1.7" />
<rect x="329.7" y="946" width="10.20" height="15.70" fill="#fff" stroke="#111" stroke-width="1.7"/>
<line x1="329.7" y1="952.4" x2="339.9" y2="952.4" stroke="#111" stroke-width="1.6" />
<circle cx="326.50" cy="951.50" r="1.6" fill="#fff" stroke="#111" stroke-width="1.25"/>
<circle cx="334.00" cy="953.00" r="1.6" fill="#fff" stroke="#111" stroke-width="1.25"/>
<circle cx="340.50" cy="950.50" r="1.6" fill="#fff" stroke="#111" stroke-width="1.25"/>
<circle cx="334.50" cy="960.00" r="1.6" fill="#fff" stroke="#111" stroke-width="1.25"/>
<line x1="330.3" y1="939.7" x2="338.7" y2="939.7" stroke="#111" stroke-width="1.6" />
<circle cx="334.50" cy="939.70" r="1.7" fill="#111" stroke="#111" stroke-width="0.6"/>
<line x1="330.3" y1="964" x2="338.7" y2="964" stroke="#111" stroke-width="1.6" />
<circle cx="334.50" cy="964.00" r="1.7" fill="#111" stroke="#111" stroke-width="0.6"/>
<line x1="352" y1="899" x2="352" y2="927.2" stroke="#111" stroke-width="1.7" />
<line x1="352" y1="960.2" x2="352" y2="965" stroke="#111" stroke-width="1.7" />
<rect x="346.6" y="927.2" width="11.40" height="33.00" fill="#9c9c9c" stroke="#111" stroke-width="1.7"/>
<line x1="346.6" y1="946.4" x2="358" y2="946.4" stroke="#111" stroke-width="1.6" />
<path d="M357.70 923.29 L359.63 927.49 L355.77 927.49 Z" fill="none" stroke="#111" stroke-width="1.25" stroke-linejoin="miter"/>
<path d="M352.00 928.99 L353.93 933.18 L350.07 933.18 Z" fill="none" stroke="#111" stroke-width="1.25" stroke-linejoin="miter"/>
<path d="M352.00 936.09 L353.93 940.28 L350.07 940.28 Z" fill="none" stroke="#111" stroke-width="1.25" stroke-linejoin="miter"/>
<path d="M352.00 943.19 L353.93 947.38 L350.07 947.38 Z" fill="none" stroke="#111" stroke-width="1.25" stroke-linejoin="miter"/>
<path d="M352.00 949.59 L353.93 953.78 L350.07 953.78 Z" fill="none" stroke="#111" stroke-width="1.25" stroke-linejoin="miter"/>
<path d="M352.00 955.09 L353.93 959.28 L350.07 959.28 Z" fill="none" stroke="#111" stroke-width="1.25" stroke-linejoin="miter"/>
<path d="M356.30 959.59 L358.23 963.78 L354.37 963.78 Z" fill="none" stroke="#111" stroke-width="1.25" stroke-linejoin="miter"/>
<path d="M344.00 946.88 L345.93 951.08 L342.07 951.08 Z" fill="none" stroke="#111" stroke-width="1.25" stroke-linejoin="miter"/>
<line x1="347.8" y1="899" x2="356.2" y2="899" stroke="#111" stroke-width="1.6" />
<path d="M352.00 896.30 L354.16 901.00 L349.84 901.00 Z" fill="#111" stroke="#111" stroke-width="0.9" stroke-linejoin="miter"/>
<line x1="347.8" y1="965" x2="356.2" y2="965" stroke="#111" stroke-width="1.6" />
<path d="M352.00 962.30 L354.16 967.00 L349.84 967.00 Z" fill="#111" stroke="#111" stroke-width="0.9" stroke-linejoin="miter"/>
<line x1="380.6" y1="961" x2="380.6" y2="964.5" stroke="#111" stroke-width="1.7" />
<rect x="376.2" y="943" width="9.60" height="18.00" fill="#fff" stroke="#111" stroke-width="1.7"/>
<line x1="376.2" y1="957.6" x2="385.8" y2="957.6" stroke="#111" stroke-width="1.6" />
<circle cx="373.30" cy="942.80" r="1.6" fill="#fff" stroke="#111" stroke-width="1.25"/>
<circle cx="381.00" cy="945.80" r="1.6" fill="#fff" stroke="#111" stroke-width="1.25"/>
<line x1="376.40000000000003" y1="964.5" x2="384.8" y2="964.5" stroke="#111" stroke-width="1.6" />
<circle cx="380.60" cy="964.50" r="1.7" fill="#111" stroke="#111" stroke-width="0.6"/>
<circle cx="377.60" cy="957.30" r="1.6" fill="#111" stroke="#111" stroke-width="0.5"/>
<circle cx="383.00" cy="957.30" r="1.6" fill="#111" stroke="#111" stroke-width="0.5"/>
<line x1="398.3" y1="911.5" x2="398.3" y2="920.6" stroke="#111" stroke-width="1.7" />
<line x1="398.3" y1="960" x2="398.3" y2="965" stroke="#111" stroke-width="1.7" />
<rect x="393" y="920.6" width="10.70" height="39.40" fill="#9c9c9c" stroke="#111" stroke-width="1.7"/>
<line x1="393" y1="946.2" x2="403.7" y2="946.2" stroke="#111" stroke-width="1.6" />
<path d="M401.80 917.88 L403.73 922.08 L399.87 922.08 Z" fill="none" stroke="#111" stroke-width="1.25" stroke-linejoin="miter"/>
<path d="M398.00 920.59 L399.93 924.78 L396.07 924.78 Z" fill="none" stroke="#111" stroke-width="1.25" stroke-linejoin="miter"/>
<path d="M402.30 941.88 L404.23 946.08 L400.37 946.08 Z" fill="none" stroke="#111" stroke-width="1.25" stroke-linejoin="miter"/>
<path d="M398.00 949.09 L399.93 953.28 L396.07 953.28 Z" fill="none" stroke="#111" stroke-width="1.25" stroke-linejoin="miter"/>
<path d="M401.30 958.19 L403.23 962.38 L399.37 962.38 Z" fill="none" stroke="#111" stroke-width="1.25" stroke-linejoin="miter"/>
<line x1="394.1" y1="911.5" x2="402.5" y2="911.5" stroke="#111" stroke-width="1.6" />
<path d="M398.30 908.80 L400.46 913.50 L396.14 913.50 Z" fill="#111" stroke="#111" stroke-width="0.9" stroke-linejoin="miter"/>
<line x1="394.1" y1="965" x2="402.5" y2="965" stroke="#111" stroke-width="1.6" />
<path d="M398.30 962.30 L400.46 967.00 L396.14 967.00 Z" fill="#111" stroke="#111" stroke-width="0.9" stroke-linejoin="miter"/>
<path d="M394.00 953.09 L395.93 957.28 L392.07 957.28 Z" fill="#111" stroke="#111" stroke-width="0.9" stroke-linejoin="miter"/>
<text x="344.3" y="983" font-size="11.4" font-weight="bold" text-anchor="middle" fill="#111" >Colon</text>
<text x="393.4" y="983" font-size="11.4" font-weight="bold" text-anchor="middle" fill="#111" >Rectum</text>
</svg>
</body></html>
